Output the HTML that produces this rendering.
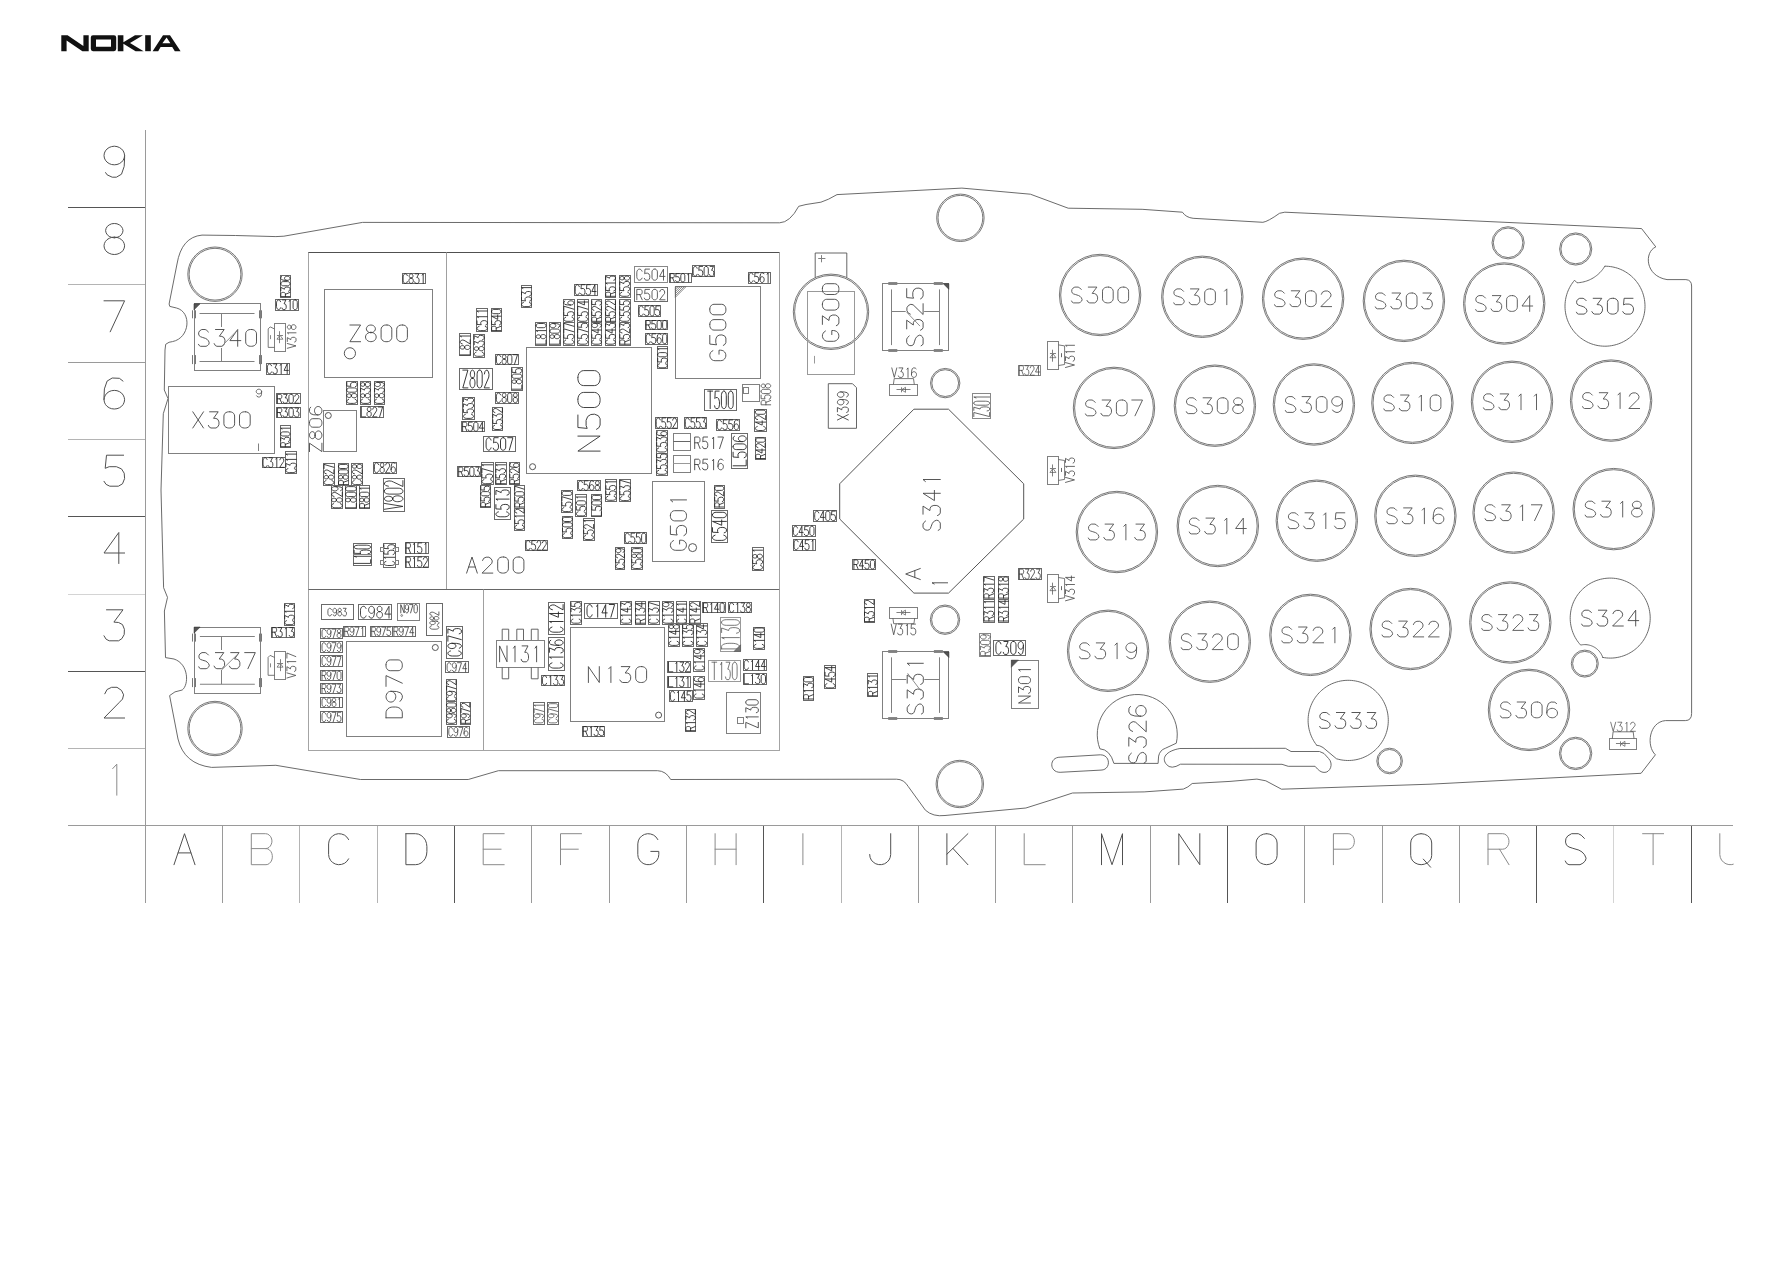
<!DOCTYPE html><html><head><meta charset="utf-8"><title>Nokia PCB layout</title><style>html,body{margin:0;padding:0;background:#fff;width:1787px;height:1263px;overflow:hidden;font-family:"Liberation Sans",sans-serif;}</style></head><body><svg width="1787" height="1263" viewBox="0 0 1787 1263" stroke-linecap="butt" style="display:block"><rect width="100%" height="100%" fill="#fff"/><path d="M61.3 51.2L61.3 35.2L67.6 35.2L83.4 46.0L83.4 35.2L88.7 35.2L88.7 51.2L82.4 51.2L66.6 40.4L66.6 51.2Z" stroke="#111" stroke-width="0" fill="#111"/><path fill-rule="evenodd" d="M93.0 35.2L114.0 35.2Q116.2 35.2 116.2 37.6L116.2 48.8Q116.2 51.2 114.0 51.2L93.0 51.2Q90.8 51.2 90.8 48.8L90.8 37.6Q90.8 35.2 93.0 35.2ZM96.0 39.6L96.0 46.8L111.0 46.8L111.0 39.6Z" stroke="#111" stroke-width="0" fill="#111"/><path d="M117.8 35.2L123.4 35.2L123.4 42.2L135.0 35.2L143.0 35.2L130.0 43.0L143.6 51.2L135.6 51.2L123.4 43.8L123.4 51.2L117.8 51.2Z" stroke="#111" stroke-width="0" fill="#111"/><rect x="145.20" y="35.20" width="5.60" height="16.00" stroke="#111" stroke-width="0" fill="#111"/><path fill-rule="evenodd" d="M152.6 51.2L163.0 35.2L170.0 35.2L180.6 51.2L174.8 51.2L172.2 47.0L160.6 47.0L158.2 51.2Z M162.4 43.2L170.4 43.2L166.6 37.6Z" stroke="#111" stroke-width="0" fill="#111"/><rect x="68" y="207" width="77" height="1" fill="#555"/><rect x="68" y="284" width="77" height="1" fill="#b4b4b4"/><rect x="68" y="362" width="77" height="1" fill="#9a9a9a"/><rect x="68" y="439" width="77" height="1" fill="#b4b4b4"/><rect x="68" y="516" width="77" height="1" fill="#555"/><rect x="68" y="594" width="77" height="1" fill="#d4d4d4"/><rect x="68" y="671" width="77" height="1" fill="#555"/><rect x="68" y="748" width="77" height="1" fill="#b4b4b4"/><rect x="68" y="825" width="1665" height="1" fill="#9a9a9a"/><rect x="145" y="130" width="1" height="773" fill="#9a9a9a"/><rect x="222" y="826" width="1" height="77" fill="#9a9a9a"/><rect x="299" y="826" width="1" height="77" fill="#b4b4b4"/><rect x="377" y="826" width="1" height="77" fill="#b4b4b4"/><rect x="454" y="826" width="1" height="77" fill="#555"/><rect x="531" y="826" width="1" height="77" fill="#9a9a9a"/><rect x="609" y="826" width="1" height="77" fill="#9a9a9a"/><rect x="686" y="826" width="1" height="77" fill="#9a9a9a"/><rect x="763" y="826" width="1" height="77" fill="#555"/><rect x="841" y="826" width="1" height="77" fill="#b4b4b4"/><rect x="918" y="826" width="1" height="77" fill="#9a9a9a"/><rect x="995" y="826" width="1" height="77" fill="#9a9a9a"/><rect x="1072" y="826" width="1" height="77" fill="#9a9a9a"/><rect x="1150" y="826" width="1" height="77" fill="#9a9a9a"/><rect x="1227" y="826" width="1" height="77" fill="#555"/><rect x="1304" y="826" width="1" height="77" fill="#9a9a9a"/><rect x="1382" y="826" width="1" height="77" fill="#9a9a9a"/><rect x="1459" y="826" width="1" height="77" fill="#9a9a9a"/><rect x="1536" y="826" width="1" height="77" fill="#555"/><rect x="1613" y="826" width="1" height="77" fill="#d4d4d4"/><rect x="1691" y="826" width="1" height="77" fill="#555"/><path d="M112.7 768.6 116.8 764.2 116.8 795.2" stroke="#8a8a8a" stroke-width="1.0" fill="none" stroke-linecap="round" stroke-linejoin="round"/><path d="M104.8 693.8 107.1 689.5 111.6 687.3 117.0 687.3 121.5 690.4 123.6 694.8 122.5 699.1 119.2 702.5 104.0 718.0 124.6 718.0" stroke="#505050" stroke-width="1.0" fill="none" stroke-linecap="round" stroke-linejoin="round"/><path d="M106.5 609.8 123.0 609.8 113.9 622.1 118.6 622.5 122.5 624.6 124.4 629.3 124.2 634.5 121.9 638.6 118.6 640.8 109.2 640.8 106.1 639.2 104.0 635.8" stroke="#505050" stroke-width="1.0" fill="none" stroke-linecap="round" stroke-linejoin="round"/><path d="M118.8 563.5 118.8 532.5 104.0 553.0 124.6 553.0" stroke="#505050" stroke-width="1.0" fill="none" stroke-linecap="round" stroke-linejoin="round"/><path d="M123.6 455.2 106.5 455.2 105.2 468.3 109.2 466.7 116.4 466.7 121.5 468.9 124.2 473.2 124.6 478.5 122.5 483.8 118.4 486.2 109.8 486.2 106.1 484.4 104.0 481.3" stroke="#505050" stroke-width="1.0" fill="none" stroke-linecap="round" stroke-linejoin="round"/><path d="M123.0 381.1 119.4 378.3 112.2 378.0 107.1 381.1 104.4 388.9 104.0 397.2 104.0 399.7 104.4 397.3 105.4 395.1 107.0 393.1 109.1 391.6 111.6 390.7 114.3 390.4 117.0 390.7 119.4 391.6 121.6 393.1 123.2 395.1 124.2 397.3 124.6 399.7 124.2 402.1 123.2 404.4 121.6 406.3 119.4 407.8 117.0 408.7 114.3 409.0 111.6 408.7 109.2 407.8 107.0 406.3 105.4 404.4 104.4 402.1 104.0 399.7" stroke="#505050" stroke-width="1.0" fill="none" stroke-linecap="round" stroke-linejoin="round"/><path d="M104.0 300.8 124.6 300.8 110.2 331.8" stroke="#505050" stroke-width="1.0" fill="none" stroke-linecap="round" stroke-linejoin="round"/><path d="M114.3 237.8 111.6 237.4 109.2 236.4 107.3 234.8 106.1 232.8 105.6 230.6 106.1 228.4 107.3 226.4 109.2 224.9 111.6 223.8 114.3 223.5 117.0 223.8 119.4 224.9 121.3 226.4 122.5 228.4 123.0 230.6 122.5 232.8 121.3 234.8 119.4 236.4 117.0 237.4 114.3 237.8M114.3 237.1 117.0 237.4 119.4 238.3 121.6 239.7 123.2 241.5 124.2 243.6 124.6 245.8 124.2 248.1 123.2 250.2 121.6 252.0 119.4 253.3 117.0 254.2 114.3 254.5 111.6 254.2 109.2 253.3 107.0 252.0 105.4 250.2 104.4 248.1 104.0 245.8 104.4 243.6 105.4 241.5 107.0 239.7 109.2 238.3 111.6 237.4 114.3 237.1" stroke="#505050" stroke-width="1.0" fill="none" stroke-linecap="round" stroke-linejoin="round"/><path d="M124.6 155.6 124.2 158.0 123.2 160.2 121.6 162.1 119.4 163.6 117.0 164.5 114.3 164.8 111.6 164.5 109.2 163.6 107.0 162.1 105.4 160.2 104.4 158.0 104.0 155.6 104.4 153.1 105.4 150.9 107.0 149.0 109.1 147.5 111.6 146.6 114.3 146.2 117.0 146.6 119.4 147.5 121.6 149.0 123.2 150.9 124.2 153.1 124.6 155.6 124.6 158.0 124.2 166.4 121.5 174.2 116.4 177.2 112.2 177.2 107.1 174.8 105.6 172.6" stroke="#505050" stroke-width="1.0" fill="none" stroke-linecap="round" stroke-linejoin="round"/><path d="M174.0 864.7 184.5 833.7 195.0 864.7M178.2 852.9 190.8 852.9" stroke="#505050" stroke-width="1.0" fill="none" stroke-linecap="round" stroke-linejoin="round"/><path d="M251.3 848.6 265.6 848.6 265.6 848.6 267.4 848.3 269.0 847.4 270.4 846.0 271.3 844.2 271.9 842.2 271.9 840.1 271.3 838.0 270.4 836.3 269.0 834.9 267.4 834.0 265.6 833.7 251.3 833.7 251.3 864.7 266.0 864.7 266.0 864.7 267.8 864.4 269.4 863.4 270.8 861.9 271.8 860.0 272.3 857.8 272.3 855.5 271.8 853.3 270.8 851.4 269.4 849.9 267.8 848.9 266.0 848.6 265.6 848.6" stroke="#8a8a8a" stroke-width="1.0" fill="none" stroke-linecap="round" stroke-linejoin="round"/><path d="M348.6 839.6 346.9 837.1 344.5 835.1 341.5 834.0 338.4 833.7 335.3 834.4 332.6 835.9 330.5 838.1 329.1 840.9 328.6 843.9 328.6 854.5 329.1 857.5 330.5 860.3 332.6 862.5 335.3 864.0 338.4 864.7 341.5 864.4 344.5 863.3 346.9 861.3 348.6 858.8" stroke="#505050" stroke-width="1.0" fill="none" stroke-linecap="round" stroke-linejoin="round"/><path d="M405.9 833.7 415.4 833.7 415.4 833.7 418.4 834.1 421.1 835.4 423.5 837.5 425.4 840.2 426.5 843.4 426.9 846.7 426.9 851.7 426.5 855.0 425.4 858.2 423.5 860.9 421.1 863.0 418.4 864.3 415.4 864.7 405.9 864.7 405.9 833.7" stroke="#505050" stroke-width="1.0" fill="none" stroke-linecap="round" stroke-linejoin="round"/><path d="M504.2 833.7 483.2 833.7 483.2 864.7 504.2 864.7M483.2 849.2 501.1 849.2" stroke="#8a8a8a" stroke-width="1.0" fill="none" stroke-linecap="round" stroke-linejoin="round"/><path d="M581.5 833.7 560.5 833.7 560.5 864.7M560.5 849.2 578.3 849.2" stroke="#8a8a8a" stroke-width="1.0" fill="none" stroke-linecap="round" stroke-linejoin="round"/><path d="M657.8 839.6 656.1 837.1 653.6 835.1 650.7 834.0 647.6 833.7 644.5 834.4 641.8 835.9 639.6 838.1 638.3 840.9 637.8 843.9 637.8 854.5 638.2 857.4 639.5 860.0 641.4 862.2 643.9 863.8 646.8 864.6 649.8 864.6 652.6 863.8 655.2 862.2 657.1 860.0 658.4 857.4 658.8 854.5 658.8 851.4 650.8 851.4" stroke="#505050" stroke-width="1.0" fill="none" stroke-linecap="round" stroke-linejoin="round"/><path d="M715.1 833.7 715.1 864.7M736.1 833.7 736.1 864.7M715.1 849.2 736.1 849.2" stroke="#8a8a8a" stroke-width="1.0" fill="none" stroke-linecap="round" stroke-linejoin="round"/><path d="M802.9 833.7 802.9 864.7" stroke="#8a8a8a" stroke-width="1.0" fill="none" stroke-linecap="round" stroke-linejoin="round"/><path d="M890.7 833.7 890.7 854.5 890.2 857.4 889.0 860.0 887.0 862.2 884.5 863.8 881.6 864.6 878.7 864.6 875.8 863.8 873.3 862.2 871.3 860.0 870.1 857.4 869.7 854.5" stroke="#505050" stroke-width="1.0" fill="none" stroke-linecap="round" stroke-linejoin="round"/><path d="M946.9 833.7 946.9 864.7M967.9 833.7 946.9 854.2M952.8 848.3 967.9 864.7" stroke="#505050" stroke-width="1.0" fill="none" stroke-linecap="round" stroke-linejoin="round"/><path d="M1024.2 833.7 1024.2 864.7 1045.2 864.7" stroke="#8a8a8a" stroke-width="1.0" fill="none" stroke-linecap="round" stroke-linejoin="round"/><path d="M1101.5 864.7 1101.5 833.7 1112.0 864.7 1122.5 833.7 1122.5 864.7" stroke="#505050" stroke-width="1.0" fill="none" stroke-linecap="round" stroke-linejoin="round"/><path d="M1178.8 864.7 1178.8 833.7 1199.8 864.7 1199.8 833.7" stroke="#505050" stroke-width="1.0" fill="none" stroke-linecap="round" stroke-linejoin="round"/><path d="M1266.6 833.7 1269.8 834.2 1272.8 835.5 1275.1 837.5 1276.6 840.1 1277.1 843.0 1277.1 855.4 1276.6 858.3 1275.1 860.9 1272.8 862.9 1269.8 864.2 1266.6 864.7 1266.6 864.7 1263.4 864.2 1260.4 862.9 1258.1 860.9 1256.6 858.3 1256.1 855.4 1256.1 843.0 1256.6 840.1 1258.1 837.5 1260.4 835.5 1263.4 834.2 1266.6 833.7 1266.6 833.7" stroke="#505050" stroke-width="1.0" fill="none" stroke-linecap="round" stroke-linejoin="round"/><path d="M1333.4 864.7 1333.4 833.7 1348.1 833.7 1348.1 833.7 1349.9 834.0 1351.5 834.9 1352.9 836.4 1353.8 838.2 1354.3 840.3 1354.3 842.6 1353.8 844.7 1352.9 846.5 1351.5 848.0 1349.9 848.9 1348.1 849.2 1333.4 849.2" stroke="#8a8a8a" stroke-width="1.0" fill="none" stroke-linecap="round" stroke-linejoin="round"/><path d="M1421.2 833.7 1424.4 834.2 1427.4 835.5 1429.7 837.5 1431.2 840.1 1431.7 843.0 1431.7 855.4 1431.2 858.3 1429.7 860.9 1427.4 862.9 1424.4 864.2 1421.2 864.7 1421.2 864.7 1417.9 864.2 1415.0 862.9 1412.7 860.9 1411.2 858.3 1410.7 855.4 1410.7 843.0 1411.2 840.1 1412.7 837.5 1415.0 835.5 1417.9 834.2 1421.2 833.7 1421.2 833.7M1423.3 859.1 1430.6 867.2" stroke="#505050" stroke-width="1.0" fill="none" stroke-linecap="round" stroke-linejoin="round"/><path d="M1488.0 864.7 1488.0 833.7 1502.7 833.7 1502.7 833.7 1504.4 834.0 1506.1 834.9 1507.4 836.4 1508.4 838.2 1508.9 840.3 1508.9 842.6 1508.4 844.7 1507.4 846.5 1506.1 848.0 1504.4 848.9 1502.7 849.2 1488.0 849.2M1499.5 849.2 1509.0 864.7" stroke="#8a8a8a" stroke-width="1.0" fill="none" stroke-linecap="round" stroke-linejoin="round"/><path d="M1584.4 838.4 1581.2 835.2 1578.3 833.7 1571.6 833.7 1567.8 835.9 1565.9 838.7 1565.5 842.1 1566.5 845.2 1569.0 847.0 1572.8 848.3 1578.9 850.1 1582.1 852.0 1584.6 854.8 1586.1 858.2 1585.2 861.0 1582.9 863.2 1580.0 864.7 1569.0 864.7 1566.7 863.5 1565.3 861.0" stroke="#505050" stroke-width="1.0" fill="none" stroke-linecap="round" stroke-linejoin="round"/><path d="M1642.6 833.7 1663.6 833.7M1653.1 833.7 1653.1 864.7" stroke="#8a8a8a" stroke-width="1.0" fill="none" stroke-linecap="round" stroke-linejoin="round"/><path d="M1719.8 833.7 1719.8 854.5 1720.3 857.4 1721.5 860.0 1723.5 862.2 1726.0 863.8 1728.9 864.6 1731.8 864.6 1734.7 863.8 1737.2 862.2 1739.2 860.0 1740.4 857.4 1740.8 854.5 1740.8 833.7" stroke="#8a8a8a" stroke-width="1.0" fill="none" stroke-linecap="round" stroke-linejoin="round"/><path d="M169.1 304.0L177.0 264.0Q181.50 237.00 202.00 235.10L235.6 235.5L275.9 236.6L283.9 236.2L362.5 222.4L779.6 222.8Q790.00 222.50 798.70 206.30L806 204.5L820.9 202.2Q828.00 200.00 837.00 194.60L961.9 188.1L1030.4 194.2L1068.2 208.2L1142.1 209.3L1182.4 212.2Q1186.00 217.50 1193.10 218.30L1262.9 222.3Q1268.00 221.50 1279.50 213.30L1284.8 212.2L1641.6 228.6L1655.8 246.9C1644 252 1645 276 1667 279.6L1685.9 279.6Q1691.60 280.00 1691.60 286.00L1691.6 713.5Q1691.60 720.60 1685.30 720.60L1665.4 720.6C1649 722 1646 746 1655.4 754.8L1641.1 773.3L1540 778.5L1430 784.2L1281.5 789.2L1265.8 780.8L1256.9 779.1L1230 781.4L1192.2 783.5Q1188.00 787.50 1183.30 789.10L1144.1 791.9L1072.5 793L1051.2 800L1025.9 808L945 815.5Q933.00 817.00 925.40 810.20L908.3 786.6Q904.00 779.20 896.50 779.20L670.7 779.5Q666.00 771.00 657.60 770.70L498.4 770.7L468.2 779.5L360.5 779.5L275.9 765.3L211.6 767.4Q184.00 764.00 178.00 739.00L169.6 695.6Q174.00 691.00 182.20 690.00C189 685 189 664 174 659L165.5 657.6L164.4 611L167.5 597.4L163.6 587.7L161 490L163.3 413.7L168 398.5L164.3 390L165 350L165.7 344.3Q169.00 341.60 172.50 341.60C190 338 192 312 176.5 308L169.8 306.4Z" stroke="#5a5a5a" stroke-width="0.9" fill="none"/><path d="M1060.1 757.2L1100.4 754.8C1111 754.8 1111 770.1 1101 770.1L1060.1 772.3C1049 772.3 1049 757.2 1060.1 757.2Z" stroke="#5a5a5a" stroke-width="0.9" fill="none"/><path d="M1113.9 763.4L1158.1 763.4L1158.6 756.1Q1160.00 750.00 1165.30 748.30L1176.3 743.2A40 40 0 1 0 1099.9 748.8Q1110.00 749.50 1113.90 763.40" stroke="#5a5a5a" stroke-width="0.9" fill="none"/><path d="M1179.9 748.5L1285.4 748.3L1291 751.5L1319.5 751.5Q1324.00 752.00 1328.50 758.40C1334 764 1330 773 1324 772.4Q1320.00 772.50 1315.10 766.30L1288.2 766.3L1282 764.3L1180.5 764.2Q1171.00 770.00 1166.50 764.50C1161 758 1166 751 1179.9 748.5Z" stroke="#5a5a5a" stroke-width="0.9" fill="none"/><circle cx="215.00" cy="274.20" r="27.20" stroke="#555" stroke-width="0.8" fill="none"/><circle cx="215.00" cy="274.20" r="25.90" stroke="#555" stroke-width="0.8" fill="none"/><circle cx="215.00" cy="728.50" r="27.20" stroke="#555" stroke-width="0.8" fill="none"/><circle cx="215.00" cy="728.50" r="25.90" stroke="#555" stroke-width="0.8" fill="none"/><circle cx="960.40" cy="217.80" r="23.70" stroke="#555" stroke-width="0.8" fill="none"/><circle cx="960.40" cy="217.80" r="22.40" stroke="#555" stroke-width="0.8" fill="none"/><circle cx="959.80" cy="784.00" r="23.70" stroke="#555" stroke-width="0.8" fill="none"/><circle cx="959.80" cy="784.00" r="22.40" stroke="#555" stroke-width="0.8" fill="none"/><circle cx="945.20" cy="383.10" r="14.70" stroke="#555" stroke-width="0.8" fill="none"/><circle cx="945.20" cy="383.10" r="13.40" stroke="#555" stroke-width="0.8" fill="none"/><circle cx="945.00" cy="619.70" r="14.70" stroke="#555" stroke-width="0.8" fill="none"/><circle cx="945.00" cy="619.70" r="13.40" stroke="#555" stroke-width="0.8" fill="none"/><circle cx="1508.10" cy="242.80" r="16.10" stroke="#555" stroke-width="0.8" fill="none"/><circle cx="1508.10" cy="242.80" r="14.80" stroke="#555" stroke-width="0.8" fill="none"/><circle cx="1575.70" cy="249.00" r="16.10" stroke="#555" stroke-width="0.8" fill="none"/><circle cx="1575.70" cy="249.00" r="14.80" stroke="#555" stroke-width="0.8" fill="none"/><circle cx="1584.80" cy="663.60" r="13.50" stroke="#555" stroke-width="0.8" fill="none"/><circle cx="1584.80" cy="663.60" r="12.20" stroke="#555" stroke-width="0.8" fill="none"/><circle cx="1575.60" cy="753.40" r="16.20" stroke="#555" stroke-width="0.8" fill="none"/><circle cx="1575.60" cy="753.40" r="14.90" stroke="#555" stroke-width="0.8" fill="none"/><circle cx="1389.60" cy="761.00" r="12.80" stroke="#555" stroke-width="0.8" fill="none"/><circle cx="1389.60" cy="761.00" r="11.50" stroke="#555" stroke-width="0.8" fill="none"/><circle cx="1100.10" cy="295.00" r="40.70" stroke="#555" stroke-width="0.8" fill="none"/><circle cx="1100.10" cy="295.00" r="39.40" stroke="#555" stroke-width="0.8" fill="none"/><path d="M1081.3 289.5 1079.7 287.9 1078.2 287.1 1074.8 287.1 1072.9 288.2 1071.9 289.6 1071.7 291.4 1072.2 292.9 1073.5 293.9 1075.4 294.5 1078.5 295.5 1080.1 296.4 1081.4 297.8 1082.1 299.6 1081.7 301.0 1080.5 302.1 1079.1 302.9 1073.5 302.9 1072.3 302.3 1071.6 301.0M1088.3 287.1 1096.9 287.1 1092.2 293.4 1094.6 293.6 1096.6 294.7 1097.6 297.1 1097.5 299.7 1096.3 301.8 1094.6 302.9 1089.7 302.9 1088.1 302.1 1087.0 300.4M1108.4 287.1 1109.8 287.3 1111.2 287.9 1112.2 288.8 1112.9 289.9 1113.2 291.2 1113.2 298.8 1112.9 300.1 1112.2 301.2 1111.2 302.1 1109.8 302.7 1108.4 302.9 1107.3 302.9 1105.8 302.7 1104.5 302.1 1103.4 301.2 1102.7 300.1 1102.5 298.8 1102.5 291.2 1102.7 289.9 1103.4 288.8 1104.5 287.9 1105.8 287.3 1107.3 287.1 1108.4 287.1M1123.8 287.1 1125.3 287.3 1126.6 287.9 1127.7 288.8 1128.4 289.9 1128.6 291.2 1128.6 298.8 1128.4 300.1 1127.7 301.2 1126.6 302.1 1125.3 302.7 1123.8 302.9 1122.7 302.9 1121.3 302.7 1119.9 302.1 1118.9 301.2 1118.2 300.1 1117.9 298.8 1117.9 291.2 1118.2 289.9 1118.9 288.8 1119.9 287.9 1121.3 287.3 1122.7 287.1 1123.8 287.1" stroke="#505050" stroke-width="0.9" fill="none" stroke-linecap="round" stroke-linejoin="round"/><circle cx="1202.30" cy="296.80" r="40.70" stroke="#555" stroke-width="0.8" fill="none"/><circle cx="1202.30" cy="296.80" r="39.40" stroke="#555" stroke-width="0.8" fill="none"/><path d="M1183.5 291.3 1181.9 289.7 1180.4 288.9 1177.0 288.9 1175.1 290.0 1174.1 291.4 1173.9 293.2 1174.4 294.7 1175.7 295.7 1177.6 296.3 1180.7 297.3 1182.3 298.2 1183.6 299.6 1184.3 301.4 1183.9 302.8 1182.7 303.9 1181.3 304.7 1175.7 304.7 1174.5 304.1 1173.8 302.8M1190.5 288.9 1199.1 288.9 1194.4 295.2 1196.8 295.4 1198.8 296.5 1199.8 298.9 1199.7 301.5 1198.5 303.6 1196.8 304.7 1191.9 304.7 1190.3 303.9 1189.2 302.2M1210.6 288.9 1212.0 289.1 1213.4 289.7 1214.4 290.6 1215.1 291.7 1215.4 293.0 1215.4 300.6 1215.1 301.9 1214.4 303.0 1213.4 303.9 1212.0 304.5 1210.6 304.7 1209.5 304.7 1208.0 304.5 1206.7 303.9 1205.6 303.0 1204.9 301.9 1204.7 300.6 1204.7 293.0 1204.9 291.7 1205.6 290.6 1206.7 289.7 1208.0 289.1 1209.5 288.9 1210.6 288.9M1224.6 291.1 1226.8 288.9 1226.8 304.7" stroke="#505050" stroke-width="0.9" fill="none" stroke-linecap="round" stroke-linejoin="round"/><circle cx="1303.10" cy="298.70" r="40.70" stroke="#555" stroke-width="0.8" fill="none"/><circle cx="1303.10" cy="298.70" r="39.40" stroke="#555" stroke-width="0.8" fill="none"/><path d="M1284.3 293.2 1282.7 291.6 1281.2 290.8 1277.8 290.8 1275.9 291.9 1274.9 293.3 1274.7 295.1 1275.2 296.6 1276.5 297.6 1278.4 298.2 1281.5 299.2 1283.1 300.1 1284.4 301.5 1285.1 303.3 1284.7 304.7 1283.5 305.8 1282.1 306.6 1276.5 306.6 1275.3 306.0 1274.6 304.7M1291.3 290.8 1299.9 290.8 1295.2 297.1 1297.6 297.3 1299.6 298.4 1300.6 300.8 1300.5 303.4 1299.3 305.5 1297.6 306.6 1292.7 306.6 1291.1 305.8 1290.0 304.1M1311.4 290.8 1312.8 291.0 1314.2 291.6 1315.2 292.5 1315.9 293.6 1316.2 294.9 1316.2 302.5 1315.9 303.8 1315.2 304.9 1314.2 305.8 1312.8 306.4 1311.4 306.6 1310.3 306.6 1308.8 306.4 1307.5 305.8 1306.4 304.9 1305.7 303.8 1305.5 302.5 1305.5 294.9 1305.7 293.6 1306.4 292.5 1307.5 291.6 1308.8 291.0 1310.3 290.8 1311.4 290.8M1321.4 294.3 1322.5 292.1 1324.9 291.0 1327.7 291.0 1330.0 292.5 1331.1 294.8 1330.5 297.0 1328.8 298.7 1320.9 306.6 1331.6 306.6" stroke="#505050" stroke-width="0.9" fill="none" stroke-linecap="round" stroke-linejoin="round"/><circle cx="1403.90" cy="300.90" r="40.70" stroke="#555" stroke-width="0.8" fill="none"/><circle cx="1403.90" cy="300.90" r="39.40" stroke="#555" stroke-width="0.8" fill="none"/><path d="M1385.1 295.4 1383.5 293.8 1382.0 293.0 1378.6 293.0 1376.7 294.1 1375.7 295.5 1375.5 297.3 1376.0 298.8 1377.3 299.8 1379.2 300.4 1382.3 301.4 1383.9 302.3 1385.2 303.7 1385.9 305.5 1385.5 306.9 1384.3 308.0 1382.9 308.8 1377.3 308.8 1376.1 308.2 1375.4 306.9M1392.1 293.0 1400.7 293.0 1396.0 299.3 1398.4 299.5 1400.4 300.6 1401.4 303.0 1401.3 305.6 1400.1 307.7 1398.4 308.8 1393.5 308.8 1391.9 308.0 1390.8 306.3M1412.2 293.0 1413.6 293.2 1415.0 293.8 1416.0 294.7 1416.7 295.8 1417.0 297.1 1417.0 304.7 1416.7 306.0 1416.0 307.1 1415.0 308.0 1413.6 308.6 1412.2 308.8 1411.1 308.8 1409.6 308.6 1408.3 308.0 1407.2 307.1 1406.5 306.0 1406.3 304.7 1406.3 297.1 1406.5 295.8 1407.2 294.7 1408.3 293.8 1409.6 293.2 1411.1 293.0 1412.2 293.0M1423.0 293.0 1431.5 293.0 1426.9 299.3 1429.3 299.5 1431.3 300.6 1432.3 303.0 1432.2 305.6 1431.0 307.7 1429.3 308.8 1424.4 308.8 1422.8 308.0 1421.7 306.3" stroke="#505050" stroke-width="0.9" fill="none" stroke-linecap="round" stroke-linejoin="round"/><circle cx="1504.20" cy="303.50" r="40.70" stroke="#555" stroke-width="0.8" fill="none"/><circle cx="1504.20" cy="303.50" r="39.40" stroke="#555" stroke-width="0.8" fill="none"/><path d="M1485.4 298.0 1483.8 296.4 1482.3 295.6 1478.9 295.6 1477.0 296.7 1476.0 298.1 1475.8 299.9 1476.3 301.4 1477.6 302.4 1479.5 303.0 1482.6 304.0 1484.2 304.9 1485.5 306.3 1486.2 308.1 1485.8 309.5 1484.6 310.6 1483.2 311.4 1477.6 311.4 1476.4 310.8 1475.7 309.5M1492.4 295.6 1501.0 295.6 1496.3 301.9 1498.7 302.1 1500.7 303.2 1501.7 305.6 1501.6 308.2 1500.4 310.3 1498.7 311.4 1493.8 311.4 1492.2 310.6 1491.1 308.9M1512.5 295.6 1513.9 295.8 1515.3 296.4 1516.3 297.3 1517.0 298.4 1517.3 299.7 1517.3 307.3 1517.0 308.6 1516.3 309.7 1515.3 310.6 1513.9 311.2 1512.5 311.4 1511.4 311.4 1509.9 311.2 1508.6 310.6 1507.5 309.7 1506.8 308.6 1506.6 307.3 1506.6 299.7 1506.8 298.4 1507.5 297.3 1508.6 296.4 1509.9 295.8 1511.4 295.6 1512.5 295.6M1529.7 311.4 1529.7 295.6 1522.0 306.0 1532.7 306.0" stroke="#505050" stroke-width="0.9" fill="none" stroke-linecap="round" stroke-linejoin="round"/><circle cx="1114.00" cy="407.90" r="40.70" stroke="#555" stroke-width="0.8" fill="none"/><circle cx="1114.00" cy="407.90" r="39.40" stroke="#555" stroke-width="0.8" fill="none"/><path d="M1095.2 402.4 1093.6 400.8 1092.1 400.0 1088.7 400.0 1086.8 401.1 1085.8 402.5 1085.6 404.3 1086.1 405.8 1087.4 406.8 1089.3 407.4 1092.4 408.4 1094.0 409.3 1095.3 410.7 1096.0 412.5 1095.6 413.9 1094.4 415.0 1093.0 415.8 1087.4 415.8 1086.2 415.2 1085.5 413.9M1102.2 400.0 1110.8 400.0 1106.1 406.3 1108.5 406.5 1110.5 407.6 1111.5 410.0 1111.4 412.6 1110.2 414.7 1108.5 415.8 1103.6 415.8 1102.0 415.0 1100.9 413.3M1122.3 400.0 1123.7 400.2 1125.1 400.8 1126.1 401.7 1126.8 402.8 1127.1 404.1 1127.1 411.7 1126.8 413.0 1126.1 414.1 1125.1 415.0 1123.7 415.6 1122.3 415.8 1121.2 415.8 1119.7 415.6 1118.4 415.0 1117.3 414.1 1116.6 413.0 1116.4 411.7 1116.4 404.1 1116.6 402.8 1117.3 401.7 1118.4 400.8 1119.7 400.2 1121.2 400.0 1122.3 400.0M1131.8 400.0 1142.5 400.0 1135.0 415.8" stroke="#505050" stroke-width="0.9" fill="none" stroke-linecap="round" stroke-linejoin="round"/><circle cx="1214.90" cy="405.70" r="40.70" stroke="#555" stroke-width="0.8" fill="none"/><circle cx="1214.90" cy="405.70" r="39.40" stroke="#555" stroke-width="0.8" fill="none"/><path d="M1196.1 400.2 1194.5 398.6 1193.0 397.8 1189.6 397.8 1187.7 398.9 1186.7 400.3 1186.5 402.1 1187.0 403.6 1188.3 404.6 1190.2 405.2 1193.3 406.2 1194.9 407.1 1196.2 408.5 1196.9 410.3 1196.5 411.7 1195.3 412.8 1193.9 413.6 1188.3 413.6 1187.1 413.0 1186.4 411.7M1203.1 397.8 1211.7 397.8 1207.0 404.1 1209.4 404.3 1211.4 405.4 1212.4 407.8 1212.3 410.4 1211.1 412.5 1209.4 413.6 1204.5 413.6 1202.9 412.8 1201.8 411.1M1223.2 397.8 1224.6 398.0 1226.0 398.6 1227.0 399.5 1227.7 400.6 1228.0 401.9 1228.0 409.5 1227.7 410.8 1227.0 411.9 1226.0 412.8 1224.6 413.4 1223.2 413.6 1222.1 413.6 1220.6 413.4 1219.3 412.8 1218.2 411.9 1217.5 410.8 1217.3 409.5 1217.3 401.9 1217.5 400.6 1218.2 399.5 1219.3 398.6 1220.6 398.0 1222.1 397.8 1223.2 397.8M1238.1 405.1 1236.7 404.9 1235.4 404.4 1234.5 403.6 1233.8 402.6 1233.6 401.4 1233.8 400.3 1234.5 399.3 1235.4 398.5 1236.7 398.0 1238.1 397.8 1239.5 398.0 1240.7 398.5 1241.7 399.3 1242.3 400.3 1242.5 401.4 1242.3 402.6 1241.7 403.6 1240.7 404.4 1239.5 404.9 1238.1 405.1M1238.1 404.8 1239.5 404.9 1240.7 405.3 1241.8 406.0 1242.7 407.0 1243.2 408.0 1243.4 409.2 1243.2 410.3 1242.7 411.4 1241.8 412.3 1240.7 413.0 1239.5 413.4 1238.1 413.6 1236.7 413.4 1235.4 413.0 1234.3 412.3 1233.5 411.4 1232.9 410.3 1232.7 409.2 1232.9 408.0 1233.5 407.0 1234.3 406.0 1235.4 405.3 1236.7 404.9 1238.1 404.8" stroke="#505050" stroke-width="0.9" fill="none" stroke-linecap="round" stroke-linejoin="round"/><circle cx="1313.90" cy="404.50" r="40.70" stroke="#555" stroke-width="0.8" fill="none"/><circle cx="1313.90" cy="404.50" r="39.40" stroke="#555" stroke-width="0.8" fill="none"/><path d="M1295.1 399.0 1293.5 397.4 1292.0 396.6 1288.6 396.6 1286.7 397.7 1285.7 399.1 1285.5 400.9 1286.0 402.4 1287.3 403.4 1289.2 404.0 1292.3 405.0 1293.9 405.9 1295.2 407.3 1295.9 409.1 1295.5 410.5 1294.3 411.6 1292.9 412.4 1287.3 412.4 1286.1 411.8 1285.4 410.5M1302.1 396.6 1310.7 396.6 1306.0 402.9 1308.4 403.1 1310.4 404.2 1311.4 406.6 1311.3 409.2 1310.1 411.3 1308.4 412.4 1303.5 412.4 1301.9 411.6 1300.8 409.9M1322.2 396.6 1323.6 396.8 1325.0 397.4 1326.0 398.3 1326.7 399.4 1327.0 400.7 1327.0 408.3 1326.7 409.6 1326.0 410.7 1325.0 411.6 1323.6 412.2 1322.2 412.4 1321.1 412.4 1319.6 412.2 1318.3 411.6 1317.2 410.7 1316.5 409.6 1316.3 408.3 1316.3 400.7 1316.5 399.4 1317.2 398.3 1318.3 397.4 1319.6 396.8 1321.1 396.6 1322.2 396.6M1342.4 401.3 1342.2 402.6 1341.7 403.7 1340.8 404.7 1339.7 405.4 1338.5 405.9 1337.1 406.1 1335.7 405.9 1334.4 405.4 1333.3 404.7 1332.5 403.7 1331.9 402.6 1331.7 401.3 1331.9 400.1 1332.5 399.0 1333.3 398.0 1334.4 397.2 1335.7 396.8 1337.1 396.6 1338.5 396.8 1339.7 397.2 1340.8 398.0 1341.7 399.0 1342.2 400.1 1342.4 401.3 1342.4 402.6 1342.2 406.9 1340.8 410.8 1338.1 412.4 1336.0 412.4 1333.3 411.1 1332.6 410.0" stroke="#505050" stroke-width="0.9" fill="none" stroke-linecap="round" stroke-linejoin="round"/><circle cx="1412.40" cy="402.90" r="40.70" stroke="#555" stroke-width="0.8" fill="none"/><circle cx="1412.40" cy="402.90" r="39.40" stroke="#555" stroke-width="0.8" fill="none"/><path d="M1393.6 397.4 1392.0 395.8 1390.5 395.0 1387.1 395.0 1385.2 396.1 1384.2 397.5 1384.0 399.3 1384.5 400.8 1385.8 401.8 1387.7 402.4 1390.8 403.4 1392.4 404.3 1393.7 405.7 1394.4 407.5 1394.0 408.9 1392.8 410.0 1391.4 410.8 1385.8 410.8 1384.6 410.2 1383.9 408.9M1400.6 395.0 1409.2 395.0 1404.5 401.3 1406.9 401.5 1408.9 402.6 1409.9 405.0 1409.8 407.6 1408.6 409.7 1406.9 410.8 1402.0 410.8 1400.4 410.0 1399.3 408.3M1419.3 397.2 1421.4 395.0 1421.4 410.8M1436.1 395.0 1437.6 395.2 1438.9 395.8 1440.0 396.7 1440.7 397.8 1440.9 399.1 1440.9 406.7 1440.7 408.0 1440.0 409.1 1438.9 410.0 1437.6 410.6 1436.1 410.8 1435.0 410.8 1433.6 410.6 1432.2 410.0 1431.2 409.1 1430.5 408.0 1430.2 406.7 1430.2 399.1 1430.5 397.8 1431.2 396.7 1432.2 395.8 1433.6 395.2 1435.0 395.0 1436.1 395.0" stroke="#505050" stroke-width="0.9" fill="none" stroke-linecap="round" stroke-linejoin="round"/><circle cx="1512.00" cy="401.80" r="40.70" stroke="#555" stroke-width="0.8" fill="none"/><circle cx="1512.00" cy="401.80" r="39.40" stroke="#555" stroke-width="0.8" fill="none"/><path d="M1493.2 396.3 1491.6 394.7 1490.1 393.9 1486.7 393.9 1484.8 395.0 1483.8 396.4 1483.6 398.2 1484.1 399.7 1485.4 400.7 1487.3 401.3 1490.4 402.3 1492.0 403.2 1493.3 404.6 1494.0 406.4 1493.6 407.8 1492.4 408.9 1491.0 409.7 1485.4 409.7 1484.2 409.1 1483.5 407.8M1500.2 393.9 1508.8 393.9 1504.1 400.2 1506.5 400.4 1508.5 401.5 1509.5 403.9 1509.4 406.5 1508.2 408.6 1506.5 409.7 1501.6 409.7 1500.0 408.9 1498.9 407.2M1518.9 396.1 1521.0 393.9 1521.0 409.7M1534.3 396.1 1536.5 393.9 1536.5 409.7" stroke="#505050" stroke-width="0.9" fill="none" stroke-linecap="round" stroke-linejoin="round"/><circle cx="1611.10" cy="400.60" r="40.70" stroke="#555" stroke-width="0.8" fill="none"/><circle cx="1611.10" cy="400.60" r="39.40" stroke="#555" stroke-width="0.8" fill="none"/><path d="M1592.3 395.1 1590.7 393.5 1589.2 392.7 1585.8 392.7 1583.9 393.8 1582.9 395.2 1582.7 397.0 1583.2 398.5 1584.5 399.5 1586.4 400.1 1589.5 401.1 1591.1 402.0 1592.4 403.4 1593.1 405.2 1592.7 406.6 1591.5 407.7 1590.1 408.5 1584.5 408.5 1583.3 407.9 1582.6 406.6M1599.3 392.7 1607.9 392.7 1603.2 399.0 1605.6 399.2 1607.6 400.3 1608.6 402.7 1608.5 405.3 1607.3 407.4 1605.6 408.5 1600.7 408.5 1599.1 407.7 1598.0 406.0M1618.0 394.9 1620.1 392.7 1620.1 408.5M1629.4 396.2 1630.5 394.0 1632.9 392.9 1635.7 392.9 1638.0 394.4 1639.1 396.7 1638.5 398.9 1636.8 400.6 1628.9 408.5 1639.6 408.5" stroke="#505050" stroke-width="0.9" fill="none" stroke-linecap="round" stroke-linejoin="round"/><circle cx="1116.90" cy="532.00" r="40.70" stroke="#555" stroke-width="0.8" fill="none"/><circle cx="1116.90" cy="532.00" r="39.40" stroke="#555" stroke-width="0.8" fill="none"/><path d="M1098.1 526.5 1096.5 524.9 1095.0 524.1 1091.6 524.1 1089.7 525.2 1088.7 526.6 1088.5 528.4 1089.0 529.9 1090.3 530.9 1092.2 531.5 1095.3 532.5 1096.9 533.4 1098.2 534.8 1098.9 536.6 1098.5 538.0 1097.3 539.1 1095.9 539.9 1090.3 539.9 1089.1 539.3 1088.4 538.0M1105.1 524.1 1113.7 524.1 1109.0 530.4 1111.4 530.6 1113.4 531.7 1114.4 534.1 1114.3 536.7 1113.1 538.8 1111.4 539.9 1106.5 539.9 1104.9 539.1 1103.8 537.4M1123.8 526.3 1125.9 524.1 1125.9 539.9M1136.0 524.1 1144.5 524.1 1139.9 530.4 1142.3 530.6 1144.3 531.7 1145.3 534.1 1145.2 536.7 1144.0 538.8 1142.3 539.9 1137.4 539.9 1135.8 539.1 1134.7 537.4" stroke="#505050" stroke-width="0.9" fill="none" stroke-linecap="round" stroke-linejoin="round"/><circle cx="1217.80" cy="526.00" r="40.70" stroke="#555" stroke-width="0.8" fill="none"/><circle cx="1217.80" cy="526.00" r="39.40" stroke="#555" stroke-width="0.8" fill="none"/><path d="M1199.0 520.5 1197.4 518.9 1195.9 518.1 1192.5 518.1 1190.6 519.2 1189.6 520.6 1189.4 522.4 1189.9 523.9 1191.2 524.9 1193.1 525.5 1196.2 526.5 1197.8 527.4 1199.1 528.8 1199.8 530.6 1199.4 532.0 1198.2 533.1 1196.8 533.9 1191.2 533.9 1190.0 533.3 1189.3 532.0M1206.0 518.1 1214.6 518.1 1209.9 524.4 1212.3 524.6 1214.3 525.7 1215.3 528.1 1215.2 530.7 1214.0 532.8 1212.3 533.9 1207.4 533.9 1205.8 533.1 1204.7 531.4M1224.7 520.3 1226.8 518.1 1226.8 533.9M1243.3 533.9 1243.3 518.1 1235.6 528.5 1246.3 528.5" stroke="#505050" stroke-width="0.9" fill="none" stroke-linecap="round" stroke-linejoin="round"/><circle cx="1316.80" cy="520.70" r="40.70" stroke="#555" stroke-width="0.8" fill="none"/><circle cx="1316.80" cy="520.70" r="39.40" stroke="#555" stroke-width="0.8" fill="none"/><path d="M1298.0 515.2 1296.4 513.6 1294.9 512.8 1291.5 512.8 1289.6 513.9 1288.6 515.3 1288.4 517.1 1288.9 518.6 1290.2 519.6 1292.1 520.2 1295.2 521.2 1296.8 522.1 1298.1 523.5 1298.8 525.3 1298.4 526.7 1297.2 527.8 1295.8 528.6 1290.2 528.6 1289.0 528.0 1288.3 526.7M1305.0 512.8 1313.6 512.8 1308.9 519.1 1311.3 519.3 1313.3 520.4 1314.3 522.8 1314.2 525.4 1313.0 527.5 1311.3 528.6 1306.4 528.6 1304.8 527.8 1303.7 526.1M1323.7 515.0 1325.8 512.8 1325.8 528.6M1344.8 512.8 1335.9 512.8 1335.3 519.4 1337.3 518.6 1341.0 518.6 1343.7 519.8 1345.1 522.0 1345.3 524.7 1344.2 527.3 1342.1 528.6 1337.6 528.6 1335.7 527.7 1334.6 526.1" stroke="#505050" stroke-width="0.9" fill="none" stroke-linecap="round" stroke-linejoin="round"/><circle cx="1415.40" cy="515.80" r="40.70" stroke="#555" stroke-width="0.8" fill="none"/><circle cx="1415.40" cy="515.80" r="39.40" stroke="#555" stroke-width="0.8" fill="none"/><path d="M1396.6 510.3 1395.0 508.7 1393.5 507.9 1390.1 507.9 1388.2 509.0 1387.2 510.4 1387.0 512.2 1387.5 513.7 1388.8 514.7 1390.7 515.3 1393.8 516.3 1395.4 517.2 1396.7 518.6 1397.4 520.4 1397.0 521.8 1395.8 522.9 1394.4 523.7 1388.8 523.7 1387.6 523.1 1386.9 521.8M1403.6 507.9 1412.2 507.9 1407.5 514.2 1409.9 514.4 1411.9 515.5 1412.9 517.9 1412.8 520.5 1411.6 522.6 1409.9 523.7 1405.0 523.7 1403.4 522.9 1402.3 521.2M1422.3 510.1 1424.4 507.9 1424.4 523.7M1443.0 509.5 1441.2 508.1 1437.5 507.9 1434.8 509.5 1433.5 513.4 1433.2 517.7 1433.2 519.0 1433.4 517.7 1434.0 516.6 1434.8 515.6 1435.9 514.9 1437.2 514.4 1438.6 514.2 1440.0 514.4 1441.2 514.9 1442.3 515.6 1443.2 516.6 1443.7 517.7 1443.9 519.0 1443.7 520.2 1443.2 521.3 1442.3 522.3 1441.2 523.1 1440.0 523.5 1438.6 523.7 1437.2 523.5 1435.9 523.1 1434.8 522.3 1434.0 521.3 1433.4 520.2 1433.2 519.0" stroke="#505050" stroke-width="0.9" fill="none" stroke-linecap="round" stroke-linejoin="round"/><circle cx="1513.60" cy="512.70" r="40.70" stroke="#555" stroke-width="0.8" fill="none"/><circle cx="1513.60" cy="512.70" r="39.40" stroke="#555" stroke-width="0.8" fill="none"/><path d="M1494.8 507.2 1493.2 505.6 1491.7 504.8 1488.3 504.8 1486.4 505.9 1485.4 507.3 1485.2 509.1 1485.7 510.6 1487.0 511.6 1488.9 512.2 1492.0 513.2 1493.6 514.1 1494.9 515.5 1495.6 517.3 1495.2 518.7 1494.0 519.8 1492.6 520.6 1487.0 520.6 1485.8 520.0 1485.1 518.7M1501.8 504.8 1510.4 504.8 1505.7 511.1 1508.1 511.3 1510.1 512.4 1511.1 514.8 1511.0 517.4 1509.8 519.5 1508.1 520.6 1503.2 520.6 1501.6 519.8 1500.5 518.1M1520.5 507.0 1522.6 504.8 1522.6 520.6M1531.4 504.8 1542.1 504.8 1534.6 520.6" stroke="#505050" stroke-width="0.9" fill="none" stroke-linecap="round" stroke-linejoin="round"/><circle cx="1613.70" cy="509.10" r="40.70" stroke="#555" stroke-width="0.8" fill="none"/><circle cx="1613.70" cy="509.10" r="39.40" stroke="#555" stroke-width="0.8" fill="none"/><path d="M1594.9 503.6 1593.3 502.0 1591.8 501.2 1588.4 501.2 1586.5 502.3 1585.5 503.7 1585.3 505.5 1585.8 507.0 1587.1 508.0 1589.0 508.6 1592.1 509.6 1593.7 510.5 1595.0 511.9 1595.7 513.7 1595.3 515.1 1594.1 516.2 1592.7 517.0 1587.1 517.0 1585.9 516.4 1585.2 515.1M1601.9 501.2 1610.5 501.2 1605.8 507.5 1608.2 507.7 1610.2 508.8 1611.2 511.2 1611.1 513.8 1609.9 515.9 1608.2 517.0 1603.3 517.0 1601.7 516.2 1600.6 514.5M1620.6 503.4 1622.7 501.2 1622.7 517.0M1636.9 508.5 1635.5 508.3 1634.2 507.8 1633.3 507.0 1632.6 506.0 1632.4 504.8 1632.6 503.7 1633.3 502.7 1634.2 501.9 1635.5 501.4 1636.9 501.2 1638.3 501.4 1639.5 501.9 1640.5 502.7 1641.1 503.7 1641.3 504.8 1641.1 506.0 1640.5 507.0 1639.5 507.8 1638.3 508.3 1636.9 508.5M1636.9 508.2 1638.3 508.3 1639.5 508.7 1640.6 509.4 1641.5 510.4 1642.0 511.4 1642.2 512.6 1642.0 513.7 1641.5 514.8 1640.6 515.7 1639.5 516.4 1638.3 516.8 1636.9 517.0 1635.5 516.8 1634.2 516.4 1633.1 515.7 1632.3 514.8 1631.7 513.7 1631.5 512.6 1631.7 511.4 1632.3 510.4 1633.1 509.4 1634.2 508.7 1635.5 508.3 1636.9 508.2" stroke="#505050" stroke-width="0.9" fill="none" stroke-linecap="round" stroke-linejoin="round"/><circle cx="1108.10" cy="650.80" r="40.70" stroke="#555" stroke-width="0.8" fill="none"/><circle cx="1108.10" cy="650.80" r="39.40" stroke="#555" stroke-width="0.8" fill="none"/><path d="M1089.3 645.3 1087.7 643.7 1086.2 642.9 1082.8 642.9 1080.9 644.0 1079.9 645.4 1079.7 647.2 1080.2 648.7 1081.5 649.7 1083.4 650.3 1086.5 651.3 1088.1 652.2 1089.4 653.6 1090.1 655.4 1089.7 656.8 1088.5 657.9 1087.1 658.7 1081.5 658.7 1080.3 658.1 1079.6 656.8M1096.3 642.9 1104.9 642.9 1100.2 649.2 1102.6 649.4 1104.6 650.5 1105.6 652.9 1105.5 655.5 1104.3 657.6 1102.6 658.7 1097.7 658.7 1096.1 657.9 1095.0 656.2M1115.0 645.1 1117.1 642.9 1117.1 658.7M1136.6 647.6 1136.4 648.9 1135.9 650.0 1135.0 651.0 1133.9 651.7 1132.7 652.2 1131.3 652.4 1129.9 652.2 1128.6 651.7 1127.5 651.0 1126.7 650.0 1126.1 648.9 1125.9 647.6 1126.1 646.4 1126.7 645.3 1127.5 644.3 1128.6 643.5 1129.9 643.1 1131.3 642.9 1132.7 643.1 1133.9 643.5 1135.0 644.3 1135.9 645.3 1136.4 646.4 1136.6 647.6 1136.6 648.9 1136.4 653.2 1135.0 657.1 1132.3 658.7 1130.2 658.7 1127.5 657.4 1126.8 656.3" stroke="#505050" stroke-width="0.9" fill="none" stroke-linecap="round" stroke-linejoin="round"/><circle cx="1209.80" cy="641.70" r="40.70" stroke="#555" stroke-width="0.8" fill="none"/><circle cx="1209.80" cy="641.70" r="39.40" stroke="#555" stroke-width="0.8" fill="none"/><path d="M1191.0 636.2 1189.4 634.6 1187.9 633.8 1184.5 633.8 1182.6 634.9 1181.6 636.3 1181.4 638.1 1181.9 639.6 1183.2 640.6 1185.1 641.2 1188.2 642.2 1189.8 643.1 1191.1 644.5 1191.8 646.3 1191.4 647.7 1190.2 648.8 1188.8 649.6 1183.2 649.6 1182.0 649.0 1181.3 647.7M1198.0 633.8 1206.6 633.8 1201.9 640.1 1204.3 640.3 1206.3 641.4 1207.3 643.8 1207.2 646.4 1206.0 648.5 1204.3 649.6 1199.4 649.6 1197.8 648.8 1196.7 647.1M1212.6 637.3 1213.8 635.1 1216.1 634.0 1218.9 634.0 1221.3 635.5 1222.3 637.8 1221.8 640.0 1220.1 641.7 1212.2 649.6 1222.9 649.6M1233.5 633.8 1235.0 634.0 1236.3 634.6 1237.4 635.5 1238.1 636.6 1238.3 637.9 1238.3 645.5 1238.1 646.8 1237.4 647.9 1236.3 648.8 1235.0 649.4 1233.5 649.6 1232.4 649.6 1231.0 649.4 1229.6 648.8 1228.6 647.9 1227.9 646.8 1227.6 645.5 1227.6 637.9 1227.9 636.6 1228.6 635.5 1229.6 634.6 1231.0 634.0 1232.4 633.8 1233.5 633.8" stroke="#505050" stroke-width="0.9" fill="none" stroke-linecap="round" stroke-linejoin="round"/><circle cx="1310.40" cy="634.90" r="40.70" stroke="#555" stroke-width="0.8" fill="none"/><circle cx="1310.40" cy="634.90" r="39.40" stroke="#555" stroke-width="0.8" fill="none"/><path d="M1291.6 629.4 1290.0 627.8 1288.5 627.0 1285.1 627.0 1283.2 628.1 1282.2 629.5 1282.0 631.3 1282.5 632.8 1283.8 633.8 1285.7 634.4 1288.8 635.4 1290.4 636.3 1291.7 637.7 1292.4 639.5 1292.0 640.9 1290.8 642.0 1289.4 642.8 1283.8 642.8 1282.6 642.2 1281.9 640.9M1298.6 627.0 1307.2 627.0 1302.5 633.3 1304.9 633.5 1306.9 634.6 1307.9 637.0 1307.8 639.6 1306.6 641.7 1304.9 642.8 1300.0 642.8 1298.4 642.0 1297.3 640.3M1313.2 630.5 1314.4 628.3 1316.7 627.2 1319.5 627.2 1321.9 628.7 1322.9 631.0 1322.4 633.2 1320.7 634.9 1312.8 642.8 1323.5 642.8M1332.7 629.2 1334.9 627.0 1334.9 642.8" stroke="#505050" stroke-width="0.9" fill="none" stroke-linecap="round" stroke-linejoin="round"/><circle cx="1410.60" cy="629.00" r="40.70" stroke="#555" stroke-width="0.8" fill="none"/><circle cx="1410.60" cy="629.00" r="39.40" stroke="#555" stroke-width="0.8" fill="none"/><path d="M1391.8 623.5 1390.2 621.9 1388.7 621.1 1385.3 621.1 1383.4 622.2 1382.4 623.6 1382.2 625.4 1382.7 626.9 1384.0 627.9 1385.9 628.5 1389.0 629.5 1390.6 630.4 1391.9 631.8 1392.6 633.6 1392.2 635.0 1391.0 636.1 1389.6 636.9 1384.0 636.9 1382.8 636.3 1382.1 635.0M1398.8 621.1 1407.4 621.1 1402.7 627.4 1405.1 627.6 1407.1 628.7 1408.1 631.1 1408.0 633.7 1406.8 635.8 1405.1 636.9 1400.2 636.9 1398.6 636.1 1397.5 634.4M1413.4 624.6 1414.6 622.4 1416.9 621.3 1419.7 621.3 1422.1 622.8 1423.1 625.0 1422.6 627.3 1420.9 629.0 1413.0 636.9 1423.7 636.9M1428.9 624.6 1430.0 622.4 1432.4 621.3 1435.2 621.3 1437.5 622.8 1438.6 625.0 1438.0 627.3 1436.3 629.0 1428.4 636.9 1439.1 636.9" stroke="#505050" stroke-width="0.9" fill="none" stroke-linecap="round" stroke-linejoin="round"/><circle cx="1510.30" cy="622.50" r="40.70" stroke="#555" stroke-width="0.8" fill="none"/><circle cx="1510.30" cy="622.50" r="39.40" stroke="#555" stroke-width="0.8" fill="none"/><path d="M1491.5 617.0 1489.9 615.4 1488.4 614.6 1485.0 614.6 1483.1 615.7 1482.1 617.1 1481.9 618.9 1482.4 620.4 1483.7 621.4 1485.6 622.0 1488.7 623.0 1490.3 623.9 1491.6 625.3 1492.3 627.1 1491.9 628.5 1490.7 629.6 1489.3 630.4 1483.7 630.4 1482.5 629.8 1481.8 628.5M1498.5 614.6 1507.1 614.6 1502.4 620.9 1504.8 621.1 1506.8 622.2 1507.8 624.6 1507.7 627.2 1506.5 629.3 1504.8 630.4 1499.9 630.4 1498.3 629.6 1497.2 627.9M1513.1 618.1 1514.3 615.9 1516.6 614.8 1519.4 614.8 1521.8 616.3 1522.8 618.5 1522.3 620.8 1520.6 622.5 1512.7 630.4 1523.4 630.4M1529.4 614.6 1537.9 614.6 1533.3 620.9 1535.7 621.1 1537.7 622.2 1538.7 624.6 1538.6 627.2 1537.4 629.3 1535.7 630.4 1530.8 630.4 1529.2 629.6 1528.1 627.9" stroke="#505050" stroke-width="0.9" fill="none" stroke-linecap="round" stroke-linejoin="round"/><circle cx="1529.00" cy="709.90" r="40.70" stroke="#555" stroke-width="0.8" fill="none"/><circle cx="1529.00" cy="709.90" r="39.40" stroke="#555" stroke-width="0.8" fill="none"/><path d="M1510.2 704.4 1508.6 702.8 1507.1 702.0 1503.7 702.0 1501.8 703.1 1500.8 704.5 1500.6 706.3 1501.1 707.8 1502.4 708.8 1504.3 709.4 1507.4 710.4 1509.0 711.3 1510.3 712.7 1511.0 714.5 1510.6 715.9 1509.4 717.0 1508.0 717.8 1502.4 717.8 1501.2 717.2 1500.5 715.9M1517.2 702.0 1525.8 702.0 1521.1 708.3 1523.5 708.5 1525.5 709.6 1526.5 712.0 1526.4 714.6 1525.2 716.7 1523.5 717.8 1518.6 717.8 1517.0 717.0 1515.9 715.3M1537.3 702.0 1538.7 702.2 1540.1 702.8 1541.1 703.7 1541.8 704.8 1542.1 706.1 1542.1 713.7 1541.8 715.0 1541.1 716.1 1540.1 717.0 1538.7 717.6 1537.3 717.8 1536.2 717.8 1534.7 717.6 1533.4 717.0 1532.3 716.1 1531.6 715.0 1531.4 713.7 1531.4 706.1 1531.6 704.8 1532.3 703.7 1533.4 702.8 1534.7 702.2 1536.2 702.0 1537.3 702.0M1556.6 703.6 1554.8 702.2 1551.1 702.0 1548.4 703.6 1547.1 707.5 1546.8 711.8 1546.8 713.1 1547.0 711.8 1547.6 710.7 1548.4 709.7 1549.5 709.0 1550.8 708.5 1552.2 708.3 1553.6 708.5 1554.8 709.0 1555.9 709.7 1556.8 710.7 1557.3 711.8 1557.5 713.1 1557.3 714.3 1556.8 715.4 1555.9 716.4 1554.8 717.2 1553.6 717.6 1552.2 717.8 1550.8 717.6 1549.5 717.2 1548.4 716.4 1547.6 715.4 1547.0 714.3 1546.8 713.1" stroke="#505050" stroke-width="0.9" fill="none" stroke-linecap="round" stroke-linejoin="round"/><path d="M1605.00 266.20L1606.81 266.24L1608.61 266.36L1610.40 266.57L1612.19 266.85L1613.96 267.22L1615.71 267.66L1617.44 268.18L1619.14 268.78L1620.81 269.46L1622.46 270.21L1624.06 271.03L1625.63 271.93L1627.16 272.90L1628.64 273.93L1630.07 275.03L1631.45 276.20L1632.78 277.42L1634.05 278.70L1635.26 280.04L1636.41 281.44L1637.50 282.88L1638.52 284.37L1639.47 285.91L1640.35 287.48L1641.16 289.10L1641.89 290.75L1642.55 292.43L1643.14 294.14L1643.64 295.87L1644.07 297.63L1644.42 299.40L1644.68 301.19L1644.87 302.98L1644.98 304.79L1645.00 306.59L1644.94 308.40L1644.80 310.20L1644.58 311.99L1644.28 313.77L1643.89 315.54L1643.43 317.28L1642.89 319.01L1642.28 320.71L1641.58 322.37L1640.82 324.01L1639.98 325.61L1639.06 327.17L1638.08 328.68L1637.03 330.15L1635.92 331.58L1634.74 332.95L1633.51 334.26L1632.21 335.52L1630.86 336.72L1629.45 337.85L1628.00 338.93L1626.50 339.93L1624.95 340.87L1623.37 341.73L1621.75 342.53L1620.09 343.24L1618.40 343.89L1616.69 344.45L1614.95 344.94L1613.19 345.35L1611.41 345.68L1609.62 345.93L1607.83 346.10L1606.02 346.19L1604.21 346.19L1602.41 346.12L1600.61 345.96L1598.82 345.72L1597.04 345.40L1595.28 345.00L1593.54 344.52L1591.82 343.97L1590.13 343.33L1588.47 342.62L1586.84 341.84L1585.25 340.98L1583.70 340.06L1582.19 339.06L1580.73 338.00L1579.32 336.87L1577.96 335.68L1576.66 334.43L1575.41 333.12L1574.23 331.76L1573.11 330.34L1572.05 328.88L1571.06 327.37L1570.14 325.81L1569.29 324.22L1568.51 322.59L1567.81 320.92L1567.18 319.23L1566.63 317.51L1566.16 315.77L1565.77 314.00L1565.46 312.22L1565.22 310.43L1565.07 308.63L1565.00 306.83L1565.02 305.02L1565.11 303.22L1565.29 301.42L1565.54 299.63L1565.88 297.86L1566.30 296.10L1566.79 294.36L1567.36 292.65L1568.01 290.97L1568.74 289.31L1569.54 287.69L1570.41 286.11L1571.35 284.57L1572.36 283.07L1573.44 281.62L1574.58 280.22L1577.00 282.78L1578.42 282.69L1579.83 282.55L1581.23 282.34L1582.63 282.08L1584.02 281.76L1585.38 281.38L1586.74 280.95L1588.07 280.46L1589.38 279.91L1590.67 279.31L1591.93 278.65L1593.16 277.94L1594.36 277.18L1595.53 276.37L1596.66 275.52L1597.76 274.61L1598.81 273.66L1599.83 272.67L1600.80 271.63L1601.73 270.56L1602.61 269.45L1603.45 268.30L1604.24 267.12L1604.97 265.90Z" stroke="#5a5a5a" stroke-width="0.9" fill="none"/><path d="M1586.2 300.7 1584.6 299.1 1583.1 298.3 1579.7 298.3 1577.8 299.4 1576.8 300.8 1576.6 302.6 1577.1 304.1 1578.4 305.1 1580.3 305.7 1583.4 306.7 1585.0 307.6 1586.3 309.0 1587.0 310.8 1586.6 312.2 1585.4 313.3 1584.0 314.1 1578.4 314.1 1577.2 313.5 1576.5 312.2M1593.2 298.3 1601.8 298.3 1597.1 304.6 1599.5 304.8 1601.5 305.9 1602.5 308.3 1602.4 310.9 1601.2 313.0 1599.5 314.1 1594.6 314.1 1593.0 313.3 1591.9 311.6M1613.3 298.3 1614.7 298.5 1616.1 299.1 1617.1 300.0 1617.8 301.1 1618.1 302.4 1618.1 310.0 1617.8 311.3 1617.1 312.4 1616.1 313.3 1614.7 313.9 1613.3 314.1 1612.2 314.1 1610.7 313.9 1609.4 313.3 1608.3 312.4 1607.6 311.3 1607.4 310.0 1607.4 302.4 1607.6 301.1 1608.3 300.0 1609.4 299.1 1610.7 298.5 1612.2 298.3 1613.3 298.3M1633.0 298.3 1624.1 298.3 1623.5 304.9 1625.5 304.1 1629.2 304.1 1631.9 305.3 1633.3 307.5 1633.5 310.1 1632.4 312.8 1630.3 314.1 1625.8 314.1 1623.9 313.2 1622.8 311.6" stroke="#444" stroke-width="0.9" fill="none" stroke-linecap="round" stroke-linejoin="round"/><path d="M1580.71 645.12L1579.47 643.71L1578.30 642.24L1577.20 640.71L1576.18 639.14L1575.23 637.52L1574.35 635.85L1573.56 634.15L1572.85 632.41L1572.22 630.64L1571.67 628.84L1571.21 627.02L1570.83 625.18L1570.54 623.32L1570.34 621.45L1570.23 619.57L1570.20 617.70L1570.27 615.82L1570.42 613.94L1570.66 612.08L1570.98 610.23L1571.40 608.39L1571.89 606.58L1572.48 604.80L1573.14 603.04L1573.89 601.31L1574.72 599.63L1575.63 597.98L1576.61 596.38L1577.67 594.83L1578.80 593.32L1580.00 591.87L1581.26 590.48L1582.59 589.16L1583.98 587.89L1585.43 586.69L1586.93 585.56L1588.49 584.51L1590.09 583.52L1591.73 582.62L1593.42 581.79L1595.15 581.04L1596.90 580.37L1598.69 579.79L1600.50 579.29L1602.34 578.88L1604.19 578.55L1606.05 578.32L1607.93 578.16L1609.80 578.10L1611.68 578.13L1613.56 578.24L1615.43 578.44L1617.29 578.73L1619.13 579.11L1620.95 579.57L1622.75 580.12L1624.52 580.75L1626.26 581.46L1627.96 582.26L1629.62 583.13L1631.24 584.08L1632.82 585.11L1634.34 586.21L1635.82 587.38L1637.23 588.61L1638.59 589.92L1639.88 591.28L1641.10 592.71L1642.26 594.19L1643.35 595.72L1644.37 597.30L1645.31 598.93L1646.17 600.60L1646.95 602.31L1647.65 604.05L1648.27 605.83L1648.80 607.63L1649.25 609.45L1649.62 611.30L1649.89 613.16L1650.08 615.03L1650.18 616.90L1650.19 618.78L1650.12 620.66L1649.95 622.53L1649.70 624.40L1649.36 626.24L1648.94 628.07L1648.43 629.88L1647.83 631.67L1647.15 633.42L1646.39 635.14L1645.55 636.82L1644.63 638.46L1643.64 640.05L1642.57 641.60L1641.43 643.09L1640.22 644.53L1638.95 645.92L1637.61 647.23L1636.21 648.49L1634.75 649.68L1633.24 650.80L1631.68 651.84L1630.07 652.81L1628.42 653.71L1626.73 654.53L1625.00 655.26L1623.23 655.92L1621.44 656.49L1619.63 656.97L1617.79 657.37L1615.94 657.69L1614.07 657.91L1612.20 658.05L1610.32 658.10L1608.44 658.06L1606.56 657.93L1604.70 657.72L1602.84 657.42L1602.93 657.92L1602.55 656.83L1602.11 655.78L1601.61 654.75L1601.05 653.75L1600.42 652.79L1599.74 651.86L1599.01 650.98L1598.22 650.15L1597.38 649.36L1596.50 648.63L1595.58 647.95L1594.61 647.33L1593.61 646.77L1592.58 646.27L1591.52 645.83L1590.44 645.46L1589.33 645.15L1588.21 644.91L1587.08 644.74L1585.94 644.63L1584.79 644.60L1583.65 644.64L1582.50 644.74L1581.37 644.91Z" stroke="#5a5a5a" stroke-width="0.9" fill="none"/><path d="M1591.4 612.6 1589.8 611.0 1588.3 610.2 1584.9 610.2 1583.0 611.3 1582.0 612.7 1581.8 614.5 1582.3 616.0 1583.6 617.0 1585.5 617.6 1588.6 618.6 1590.2 619.5 1591.5 620.9 1592.2 622.7 1591.8 624.1 1590.6 625.2 1589.2 626.0 1583.6 626.0 1582.4 625.4 1581.7 624.1M1598.4 610.2 1607.0 610.2 1602.3 616.5 1604.7 616.7 1606.7 617.8 1607.7 620.2 1607.6 622.8 1606.4 624.9 1604.7 626.0 1599.8 626.0 1598.2 625.2 1597.1 623.5M1613.0 613.7 1614.2 611.5 1616.5 610.4 1619.3 610.4 1621.7 611.9 1622.7 614.2 1622.2 616.4 1620.5 618.1 1612.6 626.0 1623.3 626.0M1635.7 626.0 1635.7 610.2 1628.0 620.6 1638.7 620.6" stroke="#444" stroke-width="0.9" fill="none" stroke-linecap="round" stroke-linejoin="round"/><path d="M1316.51 744.98L1315.39 743.45L1314.34 741.88L1313.36 740.25L1312.46 738.59L1311.64 736.88L1310.90 735.13L1310.25 733.35L1309.68 731.55L1309.20 729.72L1308.80 727.86L1308.49 725.99L1308.27 724.11L1308.14 722.22L1308.10 720.33L1308.15 718.43L1308.29 716.54L1308.51 714.66L1308.83 712.79L1309.23 710.94L1309.72 709.11L1310.30 707.31L1310.96 705.53L1311.70 703.79L1312.53 702.08L1313.43 700.42L1314.42 698.80L1315.47 697.23L1316.61 695.71L1317.81 694.24L1319.08 692.84L1320.41 691.49L1321.81 690.21L1323.26 689.00L1324.77 687.85L1326.34 686.78L1327.95 685.79L1329.61 684.87L1331.31 684.03L1333.04 683.27L1334.81 682.60L1336.61 682.01L1338.44 681.51L1340.29 681.09L1342.16 680.76L1344.03 680.52L1345.92 680.36L1347.82 680.30L1349.71 680.33L1351.60 680.44L1353.49 680.65L1355.36 680.94L1357.21 681.33L1359.05 681.80L1360.86 682.35L1362.64 682.99L1364.39 683.72L1366.11 684.52L1367.78 685.41L1369.42 686.37L1371.00 687.41L1372.53 688.53L1374.01 689.71L1375.43 690.96L1376.79 692.28L1378.09 693.67L1379.32 695.11L1380.48 696.61L1381.57 698.16L1382.58 699.76L1383.52 701.40L1384.37 703.09L1385.15 704.82L1385.85 706.58L1386.46 708.38L1386.98 710.20L1387.42 712.04L1387.77 713.90L1388.03 715.78L1388.21 717.67L1388.29 719.56L1388.29 721.45L1388.19 723.35L1388.01 725.23L1387.73 727.11L1387.37 728.97L1386.93 730.81L1386.39 732.63L1385.77 734.42L1385.07 736.18L1384.28 737.90L1383.41 739.58L1382.47 741.23L1381.45 742.82L1380.35 744.37L1379.18 745.86L1377.94 747.29L1376.64 748.67L1375.27 749.98L1373.85 751.23L1372.36 752.40L1370.82 753.51L1369.23 754.54L1367.60 755.50L1365.92 756.37L1364.20 757.17L1362.44 757.89L1360.66 758.52L1358.84 759.06L1357.00 759.52L1355.15 759.89L1353.27 760.18L1351.39 760.37L1349.50 760.48L1347.60 760.50L1345.71 760.42L1343.82 760.26L1341.94 760.01L1340.08 759.67L1338.23 759.24L1336.41 758.73L1323 747.5Q1320 745.4 1316.2 745.2" stroke="#5a5a5a" stroke-width="0.9" fill="none"/><path d="M1329.4 714.9 1327.8 713.3 1326.3 712.5 1322.9 712.5 1321.0 713.6 1320.0 715.0 1319.8 716.8 1320.3 718.3 1321.6 719.3 1323.5 719.9 1326.6 720.9 1328.2 721.8 1329.5 723.2 1330.2 725.0 1329.8 726.4 1328.6 727.5 1327.2 728.3 1321.6 728.3 1320.4 727.7 1319.7 726.4M1336.4 712.5 1345.0 712.5 1340.3 718.8 1342.7 719.0 1344.7 720.1 1345.7 722.5 1345.6 725.1 1344.4 727.2 1342.7 728.3 1337.8 728.3 1336.2 727.5 1335.1 725.8M1351.9 712.5 1360.4 712.5 1355.7 718.8 1358.2 719.0 1360.2 720.1 1361.1 722.5 1361.0 725.1 1359.9 727.2 1358.2 728.3 1353.3 728.3 1351.7 727.5 1350.6 725.8M1367.3 712.5 1375.8 712.5 1371.2 718.8 1373.6 719.0 1375.6 720.1 1376.6 722.5 1376.5 725.1 1375.3 727.2 1373.6 728.3 1368.7 728.3 1367.1 727.5 1366.0 725.8" stroke="#444" stroke-width="0.9" fill="none" stroke-linecap="round" stroke-linejoin="round"/><path d="M1131.4 753.2 1129.7 754.8 1128.8 756.3 1128.8 759.8 1130.0 761.7 1131.6 762.7 1133.5 762.9 1135.2 762.4 1136.3 761.1 1137.0 759.1 1138.0 756.0 1139.1 754.4 1140.6 753.1 1142.5 752.4 1144.1 752.8 1145.3 754.0 1146.2 755.5 1146.2 761.1 1145.5 762.2 1144.1 763.0M1128.8 746.1 1128.8 737.5 1135.8 742.3 1135.9 739.8 1137.2 737.7 1139.8 736.8 1142.7 736.9 1145.0 738.1 1146.2 739.8 1146.2 744.7 1145.3 746.3 1143.4 747.4M1132.6 731.4 1130.2 730.2 1129.0 727.9 1129.0 725.1 1130.7 722.7 1133.2 721.6 1135.6 722.2 1137.5 723.9 1146.2 731.8 1146.2 721.1M1130.5 706.4 1129.0 708.2 1128.8 711.9 1130.5 714.6 1134.9 716.0 1139.6 716.2 1141.0 716.2 1139.6 716.1 1138.4 715.5 1137.3 714.7 1136.5 713.6 1135.9 712.3 1135.8 710.9 1135.9 709.5 1136.5 708.2 1137.3 707.1 1138.4 706.2 1139.6 705.7 1141.0 705.5 1142.3 705.7 1143.6 706.2 1144.7 707.1 1145.5 708.2 1146.0 709.5 1146.2 710.9 1146.0 712.3 1145.5 713.6 1144.7 714.7 1143.6 715.5 1142.3 716.1 1141.0 716.2" stroke="#444" stroke-width="0.9" fill="none" stroke-linecap="round" stroke-linejoin="round"/><rect x="308.50" y="252.50" width="471.00" height="498.00" stroke="#a4a4a4" stroke-width="1.0" fill="none"/><line x1="308.50" y1="252.50" x2="779.20" y2="252.50" stroke="#505050" stroke-width="1.0"/><line x1="446.50" y1="252.40" x2="446.50" y2="589.50" stroke="#a0a0a0" stroke-width="1.0"/><line x1="308.50" y1="589.50" x2="779.20" y2="589.50" stroke="#666" stroke-width="1.0"/><line x1="483.50" y1="589.50" x2="483.50" y2="750.00" stroke="#a0a0a0" stroke-width="1.0"/><path d="M466.6 573.1 472.0 557.0 477.3 573.1M468.7 567.0 475.2 567.0M482.6 560.5 483.7 558.3 486.1 557.2 488.9 557.2 491.2 558.8 492.3 561.0 491.8 563.3 490.1 565.0 482.1 573.1 492.8 573.1M503.6 557.0 505.0 557.2 506.4 557.8 507.4 558.7 508.1 559.9 508.4 561.2 508.4 568.9 508.1 570.2 507.4 571.4 506.4 572.3 505.0 572.9 503.6 573.1 502.5 573.1 501.0 572.9 499.6 572.3 498.6 571.4 497.9 570.2 497.7 568.9 497.7 561.2 497.9 559.9 498.6 558.7 499.6 557.8 501.0 557.2 502.5 557.0 503.6 557.0M519.1 557.0 520.6 557.2 521.9 557.8 523.0 558.7 523.7 559.9 523.9 561.2 523.9 568.9 523.7 570.2 523.0 571.4 521.9 572.3 520.6 572.9 519.1 573.1 518.0 573.1 516.5 572.9 515.2 572.3 514.1 571.4 513.4 570.2 513.2 568.9 513.2 561.2 513.4 559.9 514.1 558.7 515.2 557.8 516.5 557.2 518.0 557.0 519.1 557.0" stroke="#444" stroke-width="0.9" fill="none" stroke-linecap="round" stroke-linejoin="round"/><rect x="324.50" y="289.50" width="108.00" height="88.00" stroke="#808080" stroke-width="1.0" fill="none"/><path d="M349.9 325.0 360.6 325.0 349.9 341.7 360.6 341.7M370.9 332.7 369.5 332.5 368.2 331.9 367.2 331.1 366.6 330.0 366.3 328.8 366.6 327.7 367.2 326.6 368.2 325.7 369.5 325.2 370.9 325.0 372.3 325.2 373.5 325.7 374.5 326.6 375.2 327.7 375.4 328.8 375.2 330.0 374.5 331.1 373.5 331.9 372.3 332.5 370.9 332.7M370.9 332.3 372.2 332.5 373.5 333.0 374.7 333.7 375.5 334.7 376.0 335.8 376.2 337.0 376.0 338.2 375.5 339.4 374.7 340.3 373.5 341.1 372.2 341.5 370.9 341.7 369.5 341.5 368.2 341.1 367.1 340.3 366.2 339.4 365.7 338.2 365.5 337.0 365.7 335.8 366.2 334.7 367.1 333.7 368.2 333.0 369.5 332.5 370.9 332.3M387.0 325.0 388.5 325.2 389.8 325.8 390.9 326.8 391.6 328.0 391.8 329.3 391.8 337.4 391.6 338.7 390.9 339.9 389.8 340.9 388.5 341.5 387.0 341.7 385.9 341.7 384.4 341.5 383.1 340.9 382.0 339.9 381.3 338.7 381.1 337.4 381.1 329.3 381.3 328.0 382.0 326.8 383.1 325.8 384.4 325.2 385.9 325.0 387.0 325.0M402.6 325.0 404.1 325.2 405.4 325.8 406.5 326.8 407.2 328.0 407.4 329.3 407.4 337.4 407.2 338.7 406.5 339.9 405.4 340.9 404.1 341.5 402.6 341.7 401.5 341.7 400.0 341.5 398.6 340.9 397.6 339.9 396.9 338.7 396.7 337.4 396.7 329.3 396.9 328.0 397.6 326.8 398.6 325.8 400.0 325.2 401.5 325.0 402.6 325.0" stroke="#444" stroke-width="0.9" fill="none" stroke-linecap="round" stroke-linejoin="round"/><circle cx="349.90" cy="353.30" r="5.60" stroke="#555" stroke-width="1.0" fill="none"/><rect x="402.50" y="273.50" width="23.00" height="10.00" stroke="#6a6a6a" stroke-width="1.0" fill="none"/><path d="M407.3 275.6 407.0 274.8 406.5 274.2 405.8 273.9 405.2 273.8 404.5 274.0 403.9 274.5 403.5 275.2 403.2 276.0 403.1 277.0 403.1 280.2 403.2 281.2 403.5 282.0 403.9 282.7 404.5 283.2 405.2 283.4 405.8 283.3 406.5 283.0 407.0 282.4 407.3 281.6M411.1 278.2 410.5 278.1 410.0 277.8 409.6 277.3 409.3 276.7 409.2 276.0 409.3 275.3 409.6 274.7 410.0 274.2 410.5 273.9 411.1 273.8 411.7 273.9 412.2 274.2 412.6 274.7 412.9 275.3 413.0 276.0 412.9 276.7 412.6 277.3 412.2 277.8 411.7 278.1 411.1 278.2M411.1 278.0 411.7 278.1 412.2 278.4 412.7 278.8 413.0 279.4 413.3 280.0 413.3 280.7 413.3 281.4 413.0 282.1 412.7 282.6 412.2 283.0 411.7 283.3 411.1 283.4 410.5 283.3 410.0 283.0 409.5 282.6 409.2 282.1 409.0 281.4 408.9 280.7 409.0 280.0 409.2 279.4 409.5 278.8 410.0 278.4 410.5 278.1 411.1 278.0M415.2 273.8 418.8 273.8 416.8 277.6 417.8 277.7 418.7 278.4 419.1 279.8 419.0 281.5 418.5 282.7 417.8 283.4 415.8 283.4 415.1 282.9 414.7 281.9M422.3 275.1 423.2 273.8 423.2 283.4" stroke="#222" stroke-width="0.85" fill="none" stroke-linecap="round" stroke-linejoin="round"/><rect x="346.50" y="381.50" width="11.00" height="23.00" stroke="#6a6a6a" stroke-width="1.0" fill="none"/><path d="M348.7 399.3 347.9 399.7 347.3 400.2 346.9 400.8 346.8 401.4 347.0 402.0 347.5 402.6 348.3 403.0 349.2 403.3 350.2 403.4 353.6 403.4 354.6 403.3 355.5 403.0 356.3 402.6 356.8 402.0 357.0 401.4 356.9 400.8 356.5 400.2 355.9 399.7 355.1 399.3M351.5 395.6 351.4 396.2 351.0 396.7 350.5 397.1 349.9 397.4 349.1 397.5 348.4 397.4 347.8 397.1 347.2 396.7 346.9 396.2 346.8 395.6 346.9 395.1 347.2 394.6 347.8 394.2 348.4 393.9 349.1 393.8 349.9 393.9 350.5 394.2 351.0 394.6 351.4 395.1 351.5 395.6M351.3 395.6 351.4 395.1 351.7 394.6 352.1 394.1 352.7 393.8 353.4 393.6 354.1 393.5 354.9 393.6 355.6 393.8 356.2 394.1 356.6 394.6 356.9 395.1 357.0 395.6 356.9 396.2 356.6 396.7 356.2 397.2 355.6 397.5 354.9 397.7 354.1 397.8 353.4 397.7 352.7 397.5 352.1 397.2 351.7 396.7 351.4 396.2 351.3 395.6M346.8 389.8 346.9 389.2 347.3 388.7 347.9 388.3 348.6 388.0 349.5 387.9 354.3 387.9 355.2 388.0 355.9 388.3 356.5 388.7 356.9 389.2 357.0 389.8 357.0 390.3 356.9 390.9 356.5 391.4 355.9 391.8 355.2 392.1 354.3 392.2 349.5 392.2 348.6 392.1 347.9 391.8 347.3 391.4 346.9 390.9 346.8 390.3 346.8 389.8M346.8 382.5 346.8 386.1 351.1 386.3 350.6 385.5 350.6 384.0 351.3 382.9 352.7 382.4 354.4 382.3 356.2 382.7 357.0 383.6 357.0 385.4 356.4 386.2 355.4 386.6" stroke="#222" stroke-width="0.85" fill="none" stroke-linecap="round" stroke-linejoin="round"/><rect x="360.50" y="381.50" width="10.00" height="23.00" stroke="#6a6a6a" stroke-width="1.0" fill="none"/><path d="M362.4 399.3 361.6 399.7 361.0 400.2 360.7 400.8 360.6 401.4 360.8 402.0 361.3 402.6 362.0 403.0 362.9 403.3 363.8 403.4 367.1 403.4 368.0 403.3 368.9 403.0 369.6 402.6 370.1 402.0 370.3 401.4 370.2 400.8 369.9 400.2 369.3 399.7 368.5 399.3M365.1 395.6 365.0 396.2 364.6 396.7 364.1 397.1 363.5 397.4 362.8 397.5 362.1 397.4 361.5 397.1 361.0 396.7 360.7 396.2 360.6 395.6 360.7 395.1 361.0 394.6 361.5 394.2 362.1 393.9 362.8 393.8 363.5 393.9 364.1 394.2 364.6 394.6 365.0 395.1 365.1 395.6M364.9 395.6 365.0 395.1 365.2 394.6 365.7 394.1 366.2 393.8 366.9 393.6 367.6 393.5 368.3 393.6 368.9 393.8 369.5 394.1 369.9 394.6 370.2 395.1 370.3 395.6 370.2 396.2 369.9 396.7 369.5 397.2 368.9 397.5 368.3 397.7 367.6 397.8 366.9 397.7 366.2 397.5 365.7 397.2 365.2 396.7 365.0 396.2 364.9 395.6M360.6 391.7 360.6 388.2 364.5 390.1 364.6 389.1 365.3 388.3 366.7 387.9 368.4 388.0 369.6 388.5 370.3 389.1 370.3 391.1 369.8 391.8 368.7 392.2M365.1 384.5 365.0 385.0 364.6 385.5 364.1 385.9 363.5 386.2 362.8 386.3 362.1 386.2 361.5 385.9 361.0 385.5 360.7 385.0 360.6 384.5 360.7 383.9 361.0 383.4 361.5 383.0 362.1 382.7 362.8 382.6 363.5 382.7 364.1 383.0 364.6 383.4 365.0 383.9 365.1 384.5M364.9 384.5 365.0 383.9 365.2 383.4 365.7 382.9 366.2 382.6 366.9 382.4 367.6 382.3 368.3 382.4 368.9 382.6 369.5 382.9 369.9 383.4 370.2 383.9 370.3 384.5 370.2 385.0 369.9 385.5 369.5 386.0 368.9 386.3 368.3 386.5 367.6 386.6 366.9 386.5 366.2 386.3 365.7 386.0 365.2 385.5 365.0 385.0 364.9 384.5" stroke="#222" stroke-width="0.85" fill="none" stroke-linecap="round" stroke-linejoin="round"/><rect x="374.50" y="381.50" width="10.00" height="23.00" stroke="#6a6a6a" stroke-width="1.0" fill="none"/><path d="M376.4 399.3 375.6 399.7 375.0 400.2 374.7 400.8 374.6 401.4 374.8 402.0 375.3 402.6 376.0 403.0 376.9 403.3 377.8 403.4 381.1 403.4 382.0 403.3 382.9 403.0 383.6 402.6 384.1 402.0 384.3 401.4 384.2 400.8 383.9 400.2 383.3 399.7 382.5 399.3M379.1 395.6 379.0 396.2 378.6 396.7 378.1 397.1 377.5 397.4 376.8 397.5 376.1 397.4 375.5 397.1 375.0 396.7 374.7 396.2 374.6 395.6 374.7 395.1 375.0 394.6 375.5 394.2 376.1 393.9 376.8 393.8 377.5 393.9 378.1 394.2 378.6 394.6 379.0 395.1 379.1 395.6M378.9 395.6 379.0 395.1 379.2 394.6 379.7 394.1 380.2 393.8 380.9 393.6 381.6 393.5 382.3 393.6 382.9 393.8 383.5 394.1 383.9 394.6 384.2 395.1 384.3 395.6 384.2 396.2 383.9 396.7 383.5 397.2 382.9 397.5 382.3 397.7 381.6 397.8 380.9 397.7 380.2 397.5 379.7 397.2 379.2 396.7 379.0 396.2 378.9 395.6M374.6 391.7 374.6 388.2 378.5 390.1 378.6 389.1 379.3 388.3 380.7 387.9 382.4 388.0 383.6 388.5 384.3 389.1 384.3 391.1 383.8 391.8 382.7 392.2M377.5 382.3 378.3 382.4 379.0 382.6 379.6 382.9 380.0 383.4 380.3 383.9 380.4 384.5 380.3 385.0 380.0 385.5 379.6 386.0 379.0 386.3 378.3 386.5 377.5 386.6 376.8 386.5 376.1 386.3 375.5 386.0 375.0 385.5 374.7 385.0 374.6 384.5 374.7 383.9 375.0 383.4 375.5 382.9 376.1 382.6 376.8 382.4 377.5 382.3 378.3 382.3 380.9 382.4 383.3 382.9 384.3 384.0 384.3 384.9 383.5 386.0 382.8 386.3" stroke="#222" stroke-width="0.85" fill="none" stroke-linecap="round" stroke-linejoin="round"/><rect x="360.50" y="406.50" width="23.00" height="11.00" stroke="#6a6a6a" stroke-width="1.0" fill="none"/><path d="M361.3 407.0 361.3 416.9 365.6 416.9M369.1 411.6 368.6 411.4 368.1 411.1 367.6 410.6 367.4 410.0 367.3 409.3 367.4 408.6 367.6 407.9 368.1 407.4 368.6 407.1 369.1 407.0 369.7 407.1 370.2 407.4 370.6 407.9 370.9 408.6 371.0 409.3 370.9 410.0 370.6 410.6 370.2 411.1 369.7 411.4 369.1 411.6M369.1 411.4 369.7 411.5 370.2 411.7 370.7 412.2 371.0 412.7 371.2 413.4 371.3 414.1 371.2 414.8 371.0 415.5 370.7 416.1 370.2 416.5 369.7 416.8 369.1 416.9 368.6 416.8 368.0 416.5 367.6 416.1 367.2 415.5 367.0 414.8 367.0 414.1 367.0 413.4 367.2 412.7 367.6 412.2 368.0 411.7 368.6 411.5 369.1 411.4M372.8 409.2 373.3 407.8 374.2 407.1 375.3 407.1 376.3 408.1 376.7 409.5 376.5 410.9 375.8 411.9 372.6 416.9 376.9 416.9M378.3 407.0 382.6 407.0 379.6 416.9" stroke="#222" stroke-width="0.85" fill="none" stroke-linecap="round" stroke-linejoin="round"/><rect x="323.50" y="410.50" width="33.00" height="41.00" stroke="#808080" stroke-width="1.0" fill="none"/><circle cx="328.30" cy="415.50" r="3.00" stroke="#555" stroke-width="1.0" fill="none"/><path d="M309.5 451.6 309.5 443.2 321.9 451.6 321.9 443.2M315.2 435.2 315.1 436.3 314.7 437.2 314.0 438.0 313.2 438.5 312.4 438.7 311.5 438.5 310.7 438.0 310.0 437.2 309.6 436.3 309.5 435.2 309.6 434.1 310.0 433.1 310.7 432.3 311.5 431.8 312.4 431.6 313.2 431.8 314.0 432.3 314.7 433.1 315.1 434.1 315.2 435.2M315.0 435.2 315.1 434.1 315.4 433.1 316.0 432.2 316.7 431.5 317.5 431.1 318.4 430.9 319.3 431.1 320.2 431.5 320.9 432.2 321.4 433.1 321.8 434.1 321.9 435.2 321.8 436.3 321.4 437.3 320.9 438.1 320.2 438.8 319.3 439.2 318.4 439.4 317.5 439.2 316.7 438.8 316.0 438.1 315.4 437.3 315.1 436.3 315.0 435.2M309.5 422.5 309.7 421.3 310.1 420.3 310.8 419.4 311.7 418.9 312.7 418.7 318.7 418.7 319.7 418.9 320.6 419.4 321.3 420.3 321.7 421.3 321.9 422.5 321.9 423.4 321.7 424.5 321.3 425.6 320.6 426.4 319.7 427.0 318.7 427.2 312.7 427.2 311.7 427.0 310.8 426.4 310.1 425.6 309.7 424.5 309.5 423.4 309.5 422.5M310.7 407.2 309.6 408.6 309.5 411.6 310.7 413.7 313.8 414.8 317.2 414.9 318.2 414.9 317.2 414.8 316.3 414.4 315.5 413.7 315.0 412.8 314.6 411.8 314.5 410.7 314.6 409.6 315.0 408.6 315.5 407.7 316.3 407.1 317.2 406.6 318.2 406.5 319.1 406.6 320.0 407.1 320.8 407.7 321.4 408.6 321.8 409.6 321.9 410.7 321.8 411.8 321.4 412.8 320.8 413.7 320.0 414.4 319.1 414.8 318.2 414.9" stroke="#444" stroke-width="0.9" fill="none" stroke-linecap="round" stroke-linejoin="round"/><rect x="323.50" y="463.50" width="11.00" height="22.00" stroke="#6a6a6a" stroke-width="1.0" fill="none"/><path d="M325.9 480.7 325.1 481.0 324.5 481.5 324.1 482.1 324.0 482.7 324.2 483.3 324.7 483.8 325.4 484.2 326.3 484.5 327.3 484.6 330.6 484.6 331.6 484.5 332.5 484.2 333.2 483.8 333.7 483.3 333.9 482.7 333.8 482.1 333.4 481.5 332.8 481.0 332.0 480.7M328.6 477.2 328.4 477.7 328.1 478.2 327.6 478.6 327.0 478.8 326.3 478.9 325.6 478.8 324.9 478.6 324.4 478.2 324.1 477.7 324.0 477.2 324.1 476.6 324.4 476.2 324.9 475.8 325.6 475.5 326.3 475.4 327.0 475.5 327.6 475.8 328.1 476.2 328.4 476.6 328.6 477.2M328.4 477.2 328.5 476.6 328.7 476.1 329.2 475.7 329.7 475.4 330.4 475.2 331.1 475.1 331.8 475.2 332.5 475.4 333.1 475.7 333.5 476.1 333.8 476.6 333.9 477.2 333.8 477.7 333.5 478.2 333.1 478.6 332.5 479.0 331.8 479.2 331.1 479.2 330.4 479.2 329.7 479.0 329.2 478.6 328.7 478.2 328.5 477.7 328.4 477.2M326.2 473.7 324.8 473.3 324.1 472.4 324.1 471.3 325.1 470.4 326.5 470.0 327.9 470.2 328.9 470.8 333.9 473.9 333.9 469.8M324.0 468.5 324.0 464.4 333.9 467.3" stroke="#222" stroke-width="0.85" fill="none" stroke-linecap="round" stroke-linejoin="round"/><rect x="338.50" y="463.50" width="10.00" height="22.00" stroke="#6a6a6a" stroke-width="1.0" fill="none"/><path d="M348.2 484.6 338.5 484.6 338.5 481.7 338.5 481.7 338.6 481.4 338.9 481.0 339.3 480.8 339.9 480.6 340.6 480.5 341.3 480.5 341.9 480.6 342.5 480.8 343.0 481.0 343.3 481.4 343.4 481.7 343.4 484.6M343.4 482.3 348.2 480.5M343.0 477.2 342.9 477.7 342.5 478.2 342.0 478.6 341.4 478.8 340.7 478.9 340.0 478.8 339.4 478.6 338.9 478.2 338.6 477.7 338.5 477.2 338.6 476.6 338.9 476.2 339.4 475.8 340.0 475.5 340.7 475.4 341.4 475.5 342.0 475.8 342.5 476.2 342.9 476.6 343.0 477.2M342.8 477.2 342.9 476.6 343.1 476.1 343.6 475.7 344.1 475.4 344.8 475.2 345.5 475.1 346.2 475.2 346.8 475.4 347.4 475.7 347.8 476.1 348.1 476.6 348.2 477.2 348.1 477.7 347.8 478.2 347.4 478.6 346.8 479.0 346.2 479.2 345.5 479.2 344.8 479.2 344.1 479.0 343.6 478.6 343.1 478.2 342.9 477.7 342.8 477.2M338.5 471.6 338.6 471.0 339.0 470.5 339.5 470.1 340.2 469.8 341.0 469.8 345.7 469.8 346.5 469.8 347.2 470.1 347.7 470.5 348.1 471.0 348.2 471.6 348.2 472.0 348.1 472.6 347.7 473.1 347.2 473.5 346.5 473.8 345.7 473.9 341.0 473.9 340.2 473.8 339.5 473.5 339.0 473.1 338.6 472.6 338.5 472.0 338.5 471.6M338.5 466.3 338.6 465.7 339.0 465.2 339.5 464.8 340.2 464.5 341.0 464.4 345.7 464.4 346.5 464.5 347.2 464.8 347.7 465.2 348.1 465.7 348.2 466.3 348.2 466.7 348.1 467.2 347.7 467.8 347.2 468.2 346.5 468.4 345.7 468.5 341.0 468.5 340.2 468.4 339.5 468.2 339.0 467.8 338.6 467.2 338.5 466.7 338.5 466.3" stroke="#222" stroke-width="0.85" fill="none" stroke-linecap="round" stroke-linejoin="round"/><rect x="351.50" y="463.50" width="11.00" height="22.00" stroke="#6a6a6a" stroke-width="1.0" fill="none"/><path d="M354.1 480.7 353.3 481.0 352.7 481.5 352.3 482.1 352.2 482.7 352.4 483.3 352.9 483.8 353.6 484.2 354.5 484.5 355.5 484.6 358.9 484.6 359.9 484.5 360.8 484.2 361.5 483.8 362.0 483.3 362.2 482.7 362.1 482.1 361.7 481.5 361.1 481.0 360.3 480.7M356.8 477.2 356.7 477.7 356.4 478.2 355.9 478.6 355.2 478.8 354.5 478.9 353.8 478.8 353.1 478.6 352.6 478.2 352.3 477.7 352.2 477.2 352.3 476.6 352.6 476.2 353.1 475.8 353.8 475.5 354.5 475.4 355.2 475.5 355.9 475.8 356.4 476.2 356.7 476.6 356.8 477.2M356.6 477.2 356.7 476.6 357.0 476.1 357.4 475.7 358.0 475.4 358.7 475.2 359.4 475.1 360.1 475.2 360.8 475.4 361.4 475.7 361.8 476.1 362.1 476.6 362.2 477.2 362.1 477.7 361.8 478.2 361.4 478.6 360.8 479.0 360.1 479.2 359.4 479.2 358.7 479.2 358.0 479.0 357.4 478.6 357.0 478.2 356.7 477.7 356.6 477.2M354.4 473.7 353.0 473.3 352.3 472.4 352.3 471.3 353.3 470.4 354.7 470.0 356.1 470.2 357.2 470.8 362.2 473.9 362.2 469.8M356.8 466.5 356.7 467.0 356.4 467.5 355.9 467.9 355.2 468.1 354.5 468.2 353.8 468.1 353.1 467.9 352.6 467.5 352.3 467.0 352.2 466.5 352.3 465.9 352.6 465.4 353.1 465.1 353.8 464.8 354.5 464.7 355.2 464.8 355.9 465.1 356.4 465.4 356.7 465.9 356.8 466.5M356.6 466.5 356.7 465.9 357.0 465.4 357.4 465.0 358.0 464.7 358.7 464.5 359.4 464.4 360.1 464.5 360.8 464.7 361.4 465.0 361.8 465.4 362.1 465.9 362.2 466.5 362.1 467.0 361.8 467.5 361.4 467.9 360.8 468.2 360.1 468.5 359.4 468.5 358.7 468.5 358.0 468.2 357.4 467.9 357.0 467.5 356.7 467.0 356.6 466.5" stroke="#222" stroke-width="0.85" fill="none" stroke-linecap="round" stroke-linejoin="round"/><rect x="331.50" y="485.50" width="11.00" height="23.00" stroke="#6a6a6a" stroke-width="1.0" fill="none"/><path d="M333.6 503.7 332.8 504.0 332.1 504.5 331.7 505.1 331.6 505.8 331.8 506.4 332.4 507.0 333.1 507.4 334.1 507.7 335.1 507.8 338.8 507.8 339.8 507.7 340.8 507.4 341.5 507.0 342.1 506.4 342.3 505.8 342.2 505.1 341.8 504.5 341.1 504.0 340.3 503.7M336.5 500.0 336.4 500.6 336.1 501.1 335.5 501.5 334.8 501.7 334.1 501.8 333.3 501.7 332.6 501.5 332.1 501.1 331.7 500.6 331.6 500.0 331.7 499.5 332.1 498.9 332.6 498.5 333.3 498.3 334.1 498.2 334.8 498.3 335.5 498.5 336.1 498.9 336.4 499.5 336.5 500.0M336.3 500.0 336.4 499.5 336.7 498.9 337.2 498.5 337.8 498.1 338.5 497.9 339.3 497.8 340.1 497.9 340.8 498.1 341.4 498.5 341.9 498.9 342.2 499.5 342.3 500.0 342.2 500.6 341.9 501.1 341.4 501.5 340.8 501.9 340.1 502.1 339.3 502.2 338.5 502.1 337.8 501.9 337.2 501.5 336.7 501.1 336.4 500.6 336.3 500.0M334.0 496.4 332.5 495.9 331.7 495.0 331.7 493.8 332.8 492.9 334.3 492.4 335.8 492.7 337.0 493.3 342.3 496.6 342.3 492.2M334.8 486.6 335.6 486.7 336.4 486.9 337.1 487.2 337.6 487.7 337.9 488.2 338.0 488.8 337.9 489.3 337.6 489.8 337.1 490.3 336.4 490.6 335.6 490.9 334.8 490.9 334.0 490.9 333.2 490.6 332.5 490.3 332.0 489.8 331.7 489.3 331.6 488.8 331.7 488.2 332.0 487.7 332.5 487.2 333.2 486.9 334.0 486.7 334.8 486.6 335.7 486.6 338.6 486.7 341.2 487.2 342.3 488.3 342.3 489.2 341.4 490.3 340.7 490.6" stroke="#222" stroke-width="0.85" fill="none" stroke-linecap="round" stroke-linejoin="round"/><rect x="345.50" y="485.50" width="11.00" height="23.00" stroke="#6a6a6a" stroke-width="1.0" fill="none"/><path d="M345.6 507.8 356.3 507.8 356.3 503.5M350.5 500.0 350.4 500.6 350.1 501.1 349.5 501.5 348.8 501.7 348.1 501.8 347.3 501.7 346.6 501.5 346.1 501.1 345.7 500.6 345.6 500.0 345.7 499.5 346.1 498.9 346.6 498.5 347.3 498.3 348.1 498.2 348.8 498.3 349.5 498.5 350.1 498.9 350.4 499.5 350.5 500.0M350.3 500.0 350.4 499.5 350.7 498.9 351.2 498.5 351.8 498.1 352.5 497.9 353.3 497.8 354.1 497.9 354.8 498.1 355.4 498.5 355.9 498.9 356.2 499.5 356.3 500.0 356.2 500.6 355.9 501.1 355.4 501.5 354.8 501.9 354.1 502.1 353.3 502.2 352.5 502.1 351.8 501.9 351.2 501.5 350.7 501.1 350.4 500.6 350.3 500.0M345.6 494.2 345.7 493.6 346.1 493.0 346.7 492.6 347.5 492.3 348.4 492.2 353.5 492.2 354.4 492.3 355.2 492.6 355.8 493.0 356.2 493.6 356.3 494.2 356.3 494.6 356.2 495.2 355.8 495.7 355.2 496.2 354.4 496.5 353.5 496.6 348.4 496.6 347.5 496.5 346.7 496.2 346.1 495.7 345.7 495.2 345.6 494.6 345.6 494.2M345.6 488.5 345.7 487.9 346.1 487.4 346.7 487.0 347.5 486.7 348.4 486.6 353.5 486.6 354.4 486.7 355.2 487.0 355.8 487.4 356.2 487.9 356.3 488.5 356.3 489.0 356.2 489.6 355.8 490.1 355.2 490.6 354.4 490.8 353.5 490.9 348.4 490.9 347.5 490.8 346.7 490.6 346.1 490.1 345.7 489.6 345.6 489.0 345.6 488.5" stroke="#222" stroke-width="0.85" fill="none" stroke-linecap="round" stroke-linejoin="round"/><rect x="359.50" y="485.50" width="10.00" height="23.00" stroke="#6a6a6a" stroke-width="1.0" fill="none"/><path d="M369.3 507.8 359.6 507.8 359.6 504.8 359.6 504.8 359.7 504.4 360.0 504.1 360.4 503.8 361.0 503.6 361.7 503.5 362.4 503.5 363.0 503.6 363.6 503.8 364.1 504.1 364.4 504.4 364.5 504.8 364.5 507.8M364.5 505.4 369.3 503.5M364.1 500.0 364.0 500.6 363.6 501.1 363.1 501.5 362.5 501.7 361.8 501.8 361.1 501.7 360.5 501.5 360.0 501.1 359.7 500.6 359.6 500.0 359.7 499.5 360.0 498.9 360.5 498.5 361.1 498.3 361.8 498.2 362.5 498.3 363.1 498.5 363.6 498.9 364.0 499.5 364.1 500.0M363.9 500.0 364.0 499.5 364.2 498.9 364.7 498.5 365.2 498.1 365.9 497.9 366.6 497.8 367.3 497.9 367.9 498.1 368.5 498.5 368.9 498.9 369.2 499.5 369.3 500.0 369.2 500.6 368.9 501.1 368.5 501.5 367.9 501.9 367.3 502.1 366.6 502.2 365.9 502.1 365.2 501.9 364.7 501.5 364.2 501.1 364.0 500.6 363.9 500.0M359.6 494.2 359.7 493.6 360.1 493.0 360.6 492.6 361.3 492.3 362.1 492.2 366.8 492.2 367.6 492.3 368.3 492.6 368.8 493.0 369.2 493.6 369.3 494.2 369.3 494.6 369.2 495.2 368.8 495.7 368.3 496.2 367.6 496.5 366.8 496.6 362.1 496.6 361.3 496.5 360.6 496.2 360.1 495.7 359.7 495.2 359.6 494.6 359.6 494.2M361.0 489.1 359.6 488.2 369.3 488.2" stroke="#222" stroke-width="0.85" fill="none" stroke-linecap="round" stroke-linejoin="round"/><rect x="373.50" y="462.50" width="23.00" height="11.00" stroke="#6a6a6a" stroke-width="1.0" fill="none"/><path d="M378.5 464.6 378.1 463.8 377.6 463.2 377.0 462.8 376.4 462.7 375.8 462.9 375.2 463.4 374.8 464.2 374.5 465.1 374.4 466.1 374.4 469.5 374.5 470.5 374.8 471.4 375.2 472.2 375.8 472.7 376.4 472.9 377.0 472.8 377.6 472.4 378.1 471.8 378.5 471.0M382.1 467.4 381.6 467.3 381.1 466.9 380.7 466.4 380.4 465.8 380.3 465.0 380.4 464.3 380.7 463.7 381.1 463.1 381.6 462.8 382.1 462.7 382.7 462.8 383.2 463.1 383.6 463.7 383.8 464.3 383.9 465.0 383.8 465.8 383.6 466.4 383.2 466.9 382.7 467.3 382.1 467.4M382.1 467.2 382.7 467.3 383.2 467.6 383.6 468.0 384.0 468.6 384.2 469.3 384.3 470.0 384.2 470.8 384.0 471.5 383.6 472.1 383.2 472.5 382.7 472.8 382.1 472.9 381.6 472.8 381.0 472.5 380.6 472.1 380.3 471.5 380.0 470.8 380.0 470.0 380.0 469.3 380.3 468.6 380.6 468.0 381.0 467.6 381.6 467.3 382.1 467.2M385.7 464.9 386.2 463.5 387.1 462.8 388.2 462.8 389.2 463.8 389.6 465.2 389.4 466.7 388.7 467.8 385.5 472.9 389.8 472.9M395.1 463.7 394.3 462.8 392.8 462.7 391.8 463.7 391.2 466.3 391.1 469.0 391.1 469.8 391.2 469.0 391.4 468.3 391.7 467.7 392.2 467.2 392.7 466.9 393.3 466.8 393.8 466.9 394.3 467.2 394.8 467.7 395.1 468.3 395.3 469.0 395.4 469.8 395.3 470.6 395.1 471.4 394.8 472.0 394.3 472.5 393.8 472.8 393.3 472.9 392.7 472.8 392.2 472.5 391.7 472.0 391.4 471.4 391.2 470.6 391.1 469.8" stroke="#222" stroke-width="0.85" fill="none" stroke-linecap="round" stroke-linejoin="round"/><rect x="383.50" y="478.50" width="21.00" height="33.00" stroke="#6a6a6a" stroke-width="1.0" fill="none"/><path d="M384.4 509.3 402.9 506.4 384.4 503.4M392.9 498.8 392.7 499.5 392.1 500.2 391.1 500.7 389.9 501.1 388.6 501.2 387.3 501.1 386.1 500.7 385.2 500.2 384.6 499.5 384.4 498.8 384.6 498.0 385.2 497.3 386.1 496.8 387.3 496.4 388.6 496.3 389.9 496.4 391.1 496.8 392.1 497.3 392.7 498.0 392.9 498.8M392.5 498.8 392.7 498.0 393.2 497.3 394.1 496.7 395.1 496.2 396.4 495.9 397.7 495.8 399.1 495.9 400.3 496.2 401.4 496.7 402.3 497.3 402.8 498.0 402.9 498.8 402.8 499.5 402.3 500.2 401.4 500.8 400.3 501.3 399.1 501.6 397.7 501.7 396.4 501.6 395.1 501.3 394.1 500.8 393.2 500.2 392.7 499.5 392.5 498.8M384.4 490.9 384.6 490.0 385.3 489.3 386.3 488.7 387.7 488.3 389.2 488.2 398.1 488.2 399.6 488.3 401.0 488.7 402.0 489.3 402.7 490.0 402.9 490.9 402.9 491.4 402.7 492.3 402.0 493.0 401.0 493.6 399.6 493.9 398.1 494.1 389.2 494.1 387.7 493.9 386.3 493.6 385.3 493.0 384.6 492.3 384.4 491.4 384.4 490.9M388.4 486.2 385.8 485.6 384.5 484.3 384.5 482.8 386.4 481.5 389.0 480.9 391.6 481.2 393.6 482.1 402.9 486.5 402.9 480.6" stroke="#222" stroke-width="0.85" fill="none" stroke-linecap="round" stroke-linejoin="round"/><rect x="353.50" y="543.50" width="18.00" height="22.00" stroke="#6a6a6a" stroke-width="1.0" fill="none"/><path d="M354.1 563.4 370.6 563.4 370.6 559.7M356.4 557.0 354.1 556.3 370.6 556.3M354.1 550.2 354.1 553.3 361.0 553.5 360.2 552.8 360.2 551.5 361.4 550.6 363.7 550.1 366.5 550.0 369.3 550.4 370.6 551.1 370.6 552.7 369.6 553.4 368.0 553.7M354.1 546.9 354.3 546.4 354.9 545.9 355.9 545.5 357.1 545.3 358.4 545.2 366.3 545.2 367.6 545.3 368.8 545.5 369.8 545.9 370.4 546.4 370.6 546.9 370.6 547.2 370.4 547.8 369.8 548.2 368.8 548.6 367.6 548.8 366.3 548.9 358.4 548.9 357.1 548.8 355.9 548.6 354.9 548.2 354.3 547.8 354.1 547.2 354.1 546.9" stroke="#222" stroke-width="0.85" fill="none" stroke-linecap="round" stroke-linejoin="round"/><line x1="353.10" y1="554.50" x2="371.60" y2="554.50" stroke="#808080" stroke-width="1.0"/><rect x="383.50" y="543.50" width="12.00" height="24.00" stroke="#6a6a6a" stroke-width="1.0" fill="none"/><path d="M385.9 561.5 385.0 561.8 384.4 562.3 383.9 562.9 383.9 563.5 384.1 564.1 384.6 564.7 385.4 565.1 386.4 565.4 387.5 565.5 391.2 565.5 392.3 565.4 393.3 565.1 394.1 564.7 394.6 564.1 394.8 563.5 394.8 562.9 394.3 562.3 393.7 561.8 392.8 561.5M385.4 558.2 383.9 557.3 394.9 557.3M383.9 550.4 383.9 554.0 388.5 554.2 387.9 553.4 387.9 551.9 388.7 550.9 390.2 550.3 392.1 550.2 394.0 550.6 394.9 551.5 394.9 553.3 394.2 554.0 393.1 554.5M383.9 544.9 383.9 548.4 388.5 548.7 387.9 547.9 387.9 546.4 388.7 545.3 390.2 544.8 392.1 544.7 394.0 545.1 394.9 546.0 394.9 547.8 394.2 548.5 393.1 548.9" stroke="#222" stroke-width="0.85" fill="none" stroke-linecap="round" stroke-linejoin="round"/><rect x="380.50" y="547.50" width="3.00" height="4.00" stroke="#808080" stroke-width="1.0" fill="none"/><rect x="395.50" y="547.50" width="3.00" height="4.00" stroke="#808080" stroke-width="1.0" fill="none"/><rect x="380.50" y="560.50" width="3.00" height="4.00" stroke="#808080" stroke-width="1.0" fill="none"/><rect x="395.50" y="560.50" width="3.00" height="4.00" stroke="#808080" stroke-width="1.0" fill="none"/><rect x="405.50" y="542.50" width="23.00" height="11.00" stroke="#6a6a6a" stroke-width="1.0" fill="none"/><path d="M406.1 553.1 406.1 542.9 409.2 542.9 409.2 542.9 409.5 543.0 409.9 543.3 410.2 543.8 410.4 544.4 410.5 545.1 410.5 545.8 410.4 546.5 410.2 547.1 409.9 547.6 409.5 547.9 409.2 548.0 406.1 548.0M408.5 548.0 410.5 553.1M413.6 544.3 414.5 542.9 414.5 553.1M421.7 542.9 418.0 542.9 417.8 547.2 418.6 546.7 420.1 546.7 421.2 547.4 421.8 548.8 421.9 550.5 421.5 552.3 420.6 553.1 418.7 553.1 417.9 552.5 417.5 551.5M425.1 544.3 425.9 542.9 425.9 553.1" stroke="#222" stroke-width="0.85" fill="none" stroke-linecap="round" stroke-linejoin="round"/><rect x="405.50" y="556.50" width="23.00" height="11.00" stroke="#6a6a6a" stroke-width="1.0" fill="none"/><path d="M406.1 567.1 406.1 557.0 409.2 557.0 409.2 557.0 409.5 557.1 409.9 557.4 410.2 557.9 410.4 558.5 410.5 559.2 410.5 559.9 410.4 560.6 410.2 561.2 409.9 561.6 409.5 561.9 409.2 562.0 406.1 562.0M408.5 562.0 410.5 567.1M413.6 558.4 414.5 557.0 414.5 567.1M421.7 557.0 418.0 557.0 417.8 561.2 418.6 560.7 420.1 560.7 421.2 561.4 421.8 562.9 421.9 564.6 421.5 566.3 420.6 567.1 418.7 567.1 417.9 566.5 417.5 565.5M423.4 559.2 423.9 557.8 424.8 557.1 426.0 557.1 426.9 558.1 427.4 559.5 427.2 560.9 426.5 562.0 423.2 567.1 427.6 567.1" stroke="#222" stroke-width="0.85" fill="none" stroke-linecap="round" stroke-linejoin="round"/><rect x="194.50" y="303.50" width="66.00" height="67.00" stroke="#808080" stroke-width="1.0" fill="none"/><line x1="192.50" y1="310.30" x2="192.50" y2="318.30" stroke="#777" stroke-width="1.0"/><line x1="192.50" y1="355.10" x2="192.50" y2="364.10" stroke="#777" stroke-width="1.0"/><line x1="195.50" y1="310.30" x2="195.50" y2="318.30" stroke="#777" stroke-width="1.0"/><line x1="195.50" y1="355.10" x2="195.50" y2="364.10" stroke="#777" stroke-width="1.0"/><line x1="259.50" y1="310.30" x2="259.50" y2="318.30" stroke="#777" stroke-width="1.0"/><line x1="259.50" y1="355.10" x2="259.50" y2="364.10" stroke="#777" stroke-width="1.0"/><line x1="261.50" y1="310.30" x2="261.50" y2="318.30" stroke="#777" stroke-width="1.0"/><line x1="261.50" y1="355.10" x2="261.50" y2="364.10" stroke="#777" stroke-width="1.0"/><path d="M194.0 303.8L200.0 303.8L194.0 309.8Z" stroke="#333" stroke-width="0.6" fill="#555"/><line x1="199.50" y1="313.50" x2="254.50" y2="313.50" stroke="#808080" stroke-width="1.0"/><line x1="199.50" y1="361.50" x2="254.50" y2="361.50" stroke="#808080" stroke-width="1.0"/><line x1="221.50" y1="313.30" x2="221.50" y2="327.00" stroke="#808080" stroke-width="1.0"/><line x1="221.50" y1="348.00" x2="221.50" y2="361.20" stroke="#808080" stroke-width="1.0"/><path d="M208.4 332.0 206.7 330.3 205.2 329.5 201.8 329.5 199.8 330.7 198.8 332.2 198.6 334.0 199.2 335.7 200.5 336.7 202.4 337.4 205.5 338.4 207.2 339.4 208.5 340.9 209.2 342.8 208.8 344.3 207.6 345.5 206.1 346.3 200.5 346.3 199.3 345.6 198.5 344.3M215.5 329.5 224.2 329.5 219.4 336.2 221.9 336.4 224.0 337.6 225.0 340.1 224.8 342.9 223.7 345.1 221.9 346.3 216.9 346.3 215.3 345.5 214.2 343.6M237.7 346.3 237.7 329.5 229.9 340.6 240.8 340.6M251.6 329.5 253.1 329.7 254.5 330.3 255.6 331.3 256.3 332.5 256.5 333.9 256.5 341.9 256.3 343.3 255.6 344.5 254.5 345.5 253.1 346.1 251.6 346.3 250.5 346.3 249.0 346.1 247.7 345.5 246.6 344.5 245.9 343.3 245.7 341.9 245.7 333.9 245.9 332.5 246.6 331.3 247.7 330.3 249.0 329.7 250.5 329.5 251.6 329.5" stroke="#444" stroke-width="0.9" fill="none" stroke-linecap="round" stroke-linejoin="round"/><line x1="221.70" y1="346.30" x2="237.10" y2="330.50" stroke="#808080" stroke-width="0.9"/><rect x="194.50" y="627.50" width="66.00" height="66.00" stroke="#808080" stroke-width="1.0" fill="none"/><line x1="192.50" y1="633.60" x2="192.50" y2="641.60" stroke="#777" stroke-width="1.0"/><line x1="192.50" y1="678.10" x2="192.50" y2="687.10" stroke="#777" stroke-width="1.0"/><line x1="195.50" y1="633.60" x2="195.50" y2="641.60" stroke="#777" stroke-width="1.0"/><line x1="195.50" y1="678.10" x2="195.50" y2="687.10" stroke="#777" stroke-width="1.0"/><line x1="259.50" y1="633.60" x2="259.50" y2="641.60" stroke="#777" stroke-width="1.0"/><line x1="259.50" y1="678.10" x2="259.50" y2="687.10" stroke="#777" stroke-width="1.0"/><line x1="261.50" y1="633.60" x2="261.50" y2="641.60" stroke="#777" stroke-width="1.0"/><line x1="261.50" y1="678.10" x2="261.50" y2="687.10" stroke="#777" stroke-width="1.0"/><path d="M194.1 627.1L200.1 627.1L194.1 633.1Z" stroke="#333" stroke-width="0.6" fill="#555"/><line x1="199.90" y1="636.50" x2="254.80" y2="636.50" stroke="#808080" stroke-width="1.0"/><line x1="199.90" y1="684.20" x2="254.80" y2="684.20" stroke="#808080" stroke-width="1.1"/><line x1="221.50" y1="636.50" x2="221.50" y2="650.00" stroke="#808080" stroke-width="1.0"/><line x1="221.50" y1="670.00" x2="221.50" y2="684.20" stroke="#808080" stroke-width="1.0"/><path d="M208.4 655.0 206.8 653.4 205.3 652.6 202.0 652.6 200.1 653.7 199.1 655.2 198.9 656.9 199.4 658.6 200.7 659.5 202.6 660.2 205.7 661.1 207.2 662.1 208.5 663.5 209.3 665.3 208.8 666.8 207.7 667.9 206.2 668.7 200.7 668.7 199.5 668.1 198.8 666.8M215.4 652.6 223.8 652.6 219.2 659.0 221.6 659.2 223.6 660.3 224.6 662.7 224.5 665.5 223.3 667.6 221.6 668.7 216.8 668.7 215.2 667.9 214.1 666.1M230.7 652.6 239.1 652.6 234.5 659.0 236.9 659.2 238.9 660.3 239.9 662.7 239.8 665.5 238.6 667.6 236.9 668.7 232.1 668.7 230.5 667.9 229.4 666.1M244.7 652.6 255.3 652.6 247.9 668.7" stroke="#444" stroke-width="0.9" fill="none" stroke-linecap="round" stroke-linejoin="round"/><line x1="221.80" y1="669.80" x2="238.70" y2="653.20" stroke="#808080" stroke-width="0.9"/><rect x="168.50" y="386.50" width="106.00" height="67.00" stroke="#808080" stroke-width="1.0" fill="none"/><path d="M192.8 411.8 203.5 428.0M203.5 411.8 192.8 428.0M209.6 411.8 218.2 411.8 213.5 418.3 216.0 418.4 218.0 419.6 219.0 422.0 218.9 424.8 217.7 426.9 216.0 428.0 211.0 428.0 209.4 427.2 208.4 425.4M229.8 411.8 231.3 412.0 232.7 412.6 233.7 413.5 234.4 414.7 234.6 416.0 234.6 423.8 234.4 425.1 233.7 426.3 232.7 427.2 231.3 427.8 229.8 428.0 228.7 428.0 227.3 427.8 225.9 427.2 224.8 426.3 224.2 425.1 223.9 423.8 223.9 416.0 224.2 414.7 224.8 413.5 225.9 412.6 227.3 412.0 228.7 411.8 229.8 411.8M245.4 411.8 246.9 412.0 248.2 412.6 249.3 413.5 250.0 414.7 250.2 416.0 250.2 423.8 250.0 425.1 249.3 426.3 248.2 427.2 246.9 427.8 245.4 428.0 244.3 428.0 242.8 427.8 241.5 427.2 240.4 426.3 239.7 425.1 239.5 423.8 239.5 416.0 239.7 414.7 240.4 413.5 241.5 412.6 242.8 412.0 244.3 411.8 245.4 411.8" stroke="#444" stroke-width="0.9" fill="none" stroke-linecap="round" stroke-linejoin="round"/><path d="M261.6 391.5 261.5 392.1 261.2 392.7 260.8 393.2 260.2 393.6 259.6 393.8 258.9 393.9 258.2 393.8 257.6 393.6 257.0 393.2 256.6 392.7 256.3 392.1 256.2 391.5 256.3 390.9 256.6 390.4 257.0 389.9 257.6 389.5 258.2 389.3 258.9 389.2 259.6 389.3 260.2 389.5 260.8 389.9 261.2 390.4 261.5 390.9 261.6 391.5 261.6 392.2 261.5 394.3 260.8 396.2 259.4 397.0 258.4 397.0 257.0 396.4 256.6 395.8" stroke="#444" stroke-width="0.8" fill="none" stroke-linecap="round" stroke-linejoin="round"/><line x1="258.50" y1="443.50" x2="258.50" y2="451.00" stroke="#808080" stroke-width="1.0"/><rect x="276.50" y="393.50" width="24.00" height="10.00" stroke="#6a6a6a" stroke-width="1.0" fill="none"/><path d="M277.4 403.2 277.4 394.3 280.5 394.3 280.5 394.3 280.9 394.4 281.2 394.7 281.5 395.1 281.7 395.6 281.8 396.2 281.8 396.8 281.7 397.4 281.5 398.0 281.2 398.4 280.9 398.7 280.5 398.8 277.4 398.8M279.8 398.8 281.8 403.2M283.7 394.3 287.2 394.3 285.2 397.9 286.3 397.9 287.1 398.6 287.5 399.9 287.5 401.4 287.0 402.6 286.3 403.2 284.2 403.2 283.6 402.8 283.1 401.8M291.3 394.3 291.9 394.4 292.5 394.7 292.9 395.3 293.2 395.9 293.3 396.6 293.3 400.9 293.2 401.6 292.9 402.2 292.5 402.8 291.9 403.1 291.3 403.2 290.8 403.2 290.2 403.1 289.7 402.8 289.2 402.2 289.0 401.6 288.9 400.9 288.9 396.6 289.0 395.9 289.2 395.3 289.7 394.7 290.2 394.4 290.8 394.3 291.3 394.3M294.8 396.3 295.3 395.0 296.2 394.4 297.4 394.4 298.3 395.3 298.8 396.5 298.6 397.8 297.9 398.8 294.6 403.2 299.0 403.2" stroke="#222" stroke-width="0.85" fill="none" stroke-linecap="round" stroke-linejoin="round"/><rect x="276.50" y="407.50" width="24.00" height="10.00" stroke="#6a6a6a" stroke-width="1.0" fill="none"/><path d="M277.4 417.0 277.4 408.0 280.5 408.0 280.5 408.0 280.9 408.1 281.2 408.4 281.5 408.8 281.7 409.3 281.8 409.9 281.8 410.6 281.7 411.2 281.5 411.7 281.2 412.1 280.9 412.4 280.5 412.5 277.4 412.5M279.8 412.5 281.8 417.0M283.7 408.0 287.2 408.0 285.2 411.6 286.3 411.7 287.1 412.3 287.5 413.7 287.5 415.2 287.0 416.4 286.3 417.0 284.2 417.0 283.6 416.6 283.1 415.6M291.3 408.0 291.9 408.1 292.5 408.4 292.9 409.0 293.2 409.6 293.3 410.3 293.3 414.7 293.2 415.4 292.9 416.0 292.5 416.6 291.9 416.9 291.3 417.0 290.8 417.0 290.2 416.9 289.7 416.6 289.2 416.0 289.0 415.4 288.9 414.7 288.9 410.3 289.0 409.6 289.2 409.0 289.7 408.4 290.2 408.1 290.8 408.0 291.3 408.0M295.1 408.0 298.6 408.0 296.7 411.6 297.7 411.7 298.6 412.3 299.0 413.7 298.9 415.2 298.4 416.4 297.7 417.0 295.7 417.0 295.0 416.6 294.6 415.6" stroke="#222" stroke-width="0.85" fill="none" stroke-linecap="round" stroke-linejoin="round"/><rect x="280.50" y="425.50" width="10.00" height="22.00" stroke="#6a6a6a" stroke-width="1.0" fill="none"/><path d="M289.9 446.7 280.7 446.7 280.7 443.8 280.7 443.8 280.8 443.5 281.1 443.2 281.5 442.9 282.0 442.7 282.7 442.6 283.3 442.6 284.0 442.7 284.5 442.9 284.9 443.2 285.2 443.5 285.3 443.8 285.3 446.7M285.3 444.4 289.9 442.6M280.7 440.9 280.7 437.6 284.4 439.4 284.5 438.5 285.1 437.7 286.5 437.3 288.1 437.3 289.3 437.8 289.9 438.5 289.9 440.3 289.4 441.0 288.4 441.4M280.7 433.8 280.8 433.2 281.2 432.7 281.7 432.3 282.4 432.0 283.1 431.9 287.5 431.9 288.2 432.0 288.9 432.3 289.4 432.7 289.8 433.2 289.9 433.8 289.9 434.2 289.8 434.8 289.4 435.3 288.9 435.7 288.2 435.9 287.5 436.0 283.1 436.0 282.4 435.9 281.7 435.7 281.2 435.3 280.8 434.8 280.7 434.2 280.7 433.8M282.0 429.0 280.7 428.2 289.9 428.2" stroke="#222" stroke-width="0.85" fill="none" stroke-linecap="round" stroke-linejoin="round"/><rect x="262.50" y="457.50" width="23.00" height="10.00" stroke="#6a6a6a" stroke-width="1.0" fill="none"/><path d="M267.1 459.5 266.7 458.7 266.2 458.1 265.6 457.8 265.0 457.7 264.4 457.9 263.8 458.4 263.4 459.1 263.1 460.0 263.0 460.9 263.0 464.2 263.1 465.1 263.4 466.0 263.8 466.7 264.4 467.2 265.0 467.4 265.6 467.3 266.2 467.0 266.7 466.4 267.1 465.6M269.1 457.7 272.5 457.7 270.6 461.6 271.6 461.7 272.4 462.4 272.8 463.8 272.8 465.5 272.3 466.7 271.6 467.4 269.6 467.4 269.0 466.9 268.6 465.8M275.9 459.1 276.8 457.7 276.8 467.4M279.9 459.8 280.4 458.5 281.3 457.8 282.4 457.8 283.4 458.8 283.8 460.1 283.6 461.5 282.9 462.5 279.7 467.4 284.0 467.4" stroke="#222" stroke-width="0.85" fill="none" stroke-linecap="round" stroke-linejoin="round"/><rect x="285.50" y="451.50" width="11.00" height="22.00" stroke="#6a6a6a" stroke-width="1.0" fill="none"/><path d="M287.9 468.7 287.0 469.0 286.4 469.5 286.0 470.1 285.9 470.7 286.1 471.3 286.6 471.8 287.4 472.2 288.3 472.5 289.3 472.6 292.9 472.6 293.9 472.5 294.8 472.2 295.6 471.8 296.1 471.3 296.3 470.7 296.2 470.1 295.8 469.5 295.2 469.0 294.3 468.7M285.9 466.8 285.9 463.5 290.1 465.3 290.2 464.4 290.9 463.6 292.5 463.2 294.2 463.2 295.6 463.7 296.3 464.4 296.3 466.2 295.8 466.9 294.6 467.3M287.4 460.2 285.9 459.4 296.3 459.4M287.4 454.9 285.9 454.1 296.3 454.1" stroke="#222" stroke-width="0.85" fill="none" stroke-linecap="round" stroke-linejoin="round"/><rect x="280.50" y="275.50" width="10.00" height="22.00" stroke="#6a6a6a" stroke-width="1.0" fill="none"/><path d="M290.0 296.6 280.8 296.6 280.8 293.7 280.8 293.7 280.9 293.3 281.2 293.0 281.6 292.7 282.1 292.5 282.8 292.4 283.4 292.4 284.1 292.5 284.6 292.7 285.0 293.0 285.3 293.3 285.4 293.7 285.4 296.6M285.4 294.3 290.0 292.4M280.8 290.7 280.8 287.4 284.5 289.2 284.6 288.2 285.2 287.4 286.6 287.1 288.2 287.1 289.4 287.6 290.0 288.2 290.0 290.1 289.5 290.8 288.5 291.2M280.8 283.5 280.9 282.9 281.3 282.4 281.8 282.0 282.5 281.7 283.2 281.6 287.6 281.6 288.3 281.7 289.0 282.0 289.5 282.4 289.9 282.9 290.0 283.5 290.0 283.9 289.9 284.5 289.5 285.0 289.0 285.4 288.3 285.7 287.6 285.8 283.2 285.8 282.5 285.7 281.8 285.4 281.3 285.0 280.9 284.5 280.8 283.9 280.8 283.5M281.7 276.5 280.9 277.2 280.8 278.7 281.7 279.7 284.0 280.3 286.5 280.4 287.2 280.4 286.5 280.3 285.9 280.1 285.3 279.8 284.8 279.3 284.6 278.8 284.5 278.3 284.6 277.7 284.8 277.2 285.3 276.8 285.9 276.5 286.5 276.3 287.2 276.2 288.0 276.3 288.6 276.5 289.2 276.8 289.6 277.2 289.9 277.7 290.0 278.3 289.9 278.8 289.6 279.3 289.2 279.8 288.6 280.1 288.0 280.3 287.2 280.4" stroke="#222" stroke-width="0.85" fill="none" stroke-linecap="round" stroke-linejoin="round"/><rect x="275.50" y="299.50" width="23.00" height="11.00" stroke="#6a6a6a" stroke-width="1.0" fill="none"/><path d="M280.5 301.7 280.2 300.9 279.7 300.3 279.1 300.0 278.5 299.9 277.9 300.1 277.3 300.6 276.9 301.3 276.6 302.2 276.5 303.1 276.5 306.4 276.6 307.3 276.9 308.2 277.3 308.9 277.9 309.4 278.5 309.6 279.1 309.5 279.7 309.2 280.2 308.6 280.5 307.8M282.5 299.9 285.9 299.9 284.1 303.8 285.0 303.9 285.8 304.6 286.2 306.0 286.2 307.7 285.7 308.9 285.0 309.6 283.1 309.6 282.4 309.1 282.0 308.0M289.3 301.3 290.2 299.9 290.2 309.6M295.4 299.9 296.0 300.0 296.5 300.4 296.9 300.9 297.2 301.6 297.3 302.4 297.3 307.1 297.2 307.9 296.9 308.6 296.5 309.1 296.0 309.5 295.4 309.6 295.0 309.6 294.4 309.5 293.8 309.1 293.4 308.6 293.1 307.9 293.1 307.1 293.1 302.4 293.1 301.6 293.4 300.9 293.8 300.4 294.4 300.0 295.0 299.9 295.4 299.9" stroke="#222" stroke-width="0.85" fill="none" stroke-linecap="round" stroke-linejoin="round"/><rect x="266.50" y="363.50" width="23.00" height="11.00" stroke="#6a6a6a" stroke-width="1.0" fill="none"/><path d="M271.5 365.8 271.1 365.0 270.6 364.4 270.0 364.0 269.4 363.9 268.8 364.1 268.2 364.6 267.8 365.3 267.5 366.2 267.4 367.2 267.4 370.5 267.5 371.5 267.8 372.4 268.2 373.1 268.8 373.6 269.4 373.8 270.0 373.7 270.6 373.3 271.1 372.7 271.5 371.9M273.5 363.9 276.9 363.9 275.0 367.9 276.0 368.0 276.8 368.7 277.2 370.1 277.2 371.8 276.7 373.1 276.0 373.8 274.0 373.8 273.4 373.3 273.0 372.2M280.3 365.3 281.2 363.9 281.2 373.8M287.2 373.8 287.2 363.9 284.1 370.4 288.4 370.4" stroke="#222" stroke-width="0.85" fill="none" stroke-linecap="round" stroke-linejoin="round"/><rect x="284.50" y="603.50" width="10.00" height="22.00" stroke="#6a6a6a" stroke-width="1.0" fill="none"/><path d="M286.5 620.7 285.7 621.1 285.1 621.6 284.8 622.1 284.7 622.8 284.9 623.4 285.4 623.9 286.1 624.3 286.9 624.6 287.8 624.7 291.1 624.7 292.0 624.6 292.8 624.3 293.5 623.9 294.0 623.4 294.2 622.8 294.1 622.1 293.8 621.6 293.2 621.1 292.4 620.7M284.7 618.8 284.7 615.5 288.5 617.3 288.6 616.3 289.3 615.5 290.7 615.2 292.3 615.2 293.5 615.7 294.2 616.3 294.2 618.2 293.7 618.9 292.7 619.3M286.0 612.1 284.7 611.3 294.2 611.3M284.7 608.0 284.7 604.6 288.5 606.5 288.6 605.5 289.3 604.7 290.7 604.3 292.3 604.4 293.5 604.8 294.2 605.5 294.2 607.4 293.7 608.0 292.7 608.5" stroke="#222" stroke-width="0.85" fill="none" stroke-linecap="round" stroke-linejoin="round"/><rect x="271.50" y="627.50" width="23.00" height="10.00" stroke="#6a6a6a" stroke-width="1.0" fill="none"/><path d="M272.2 636.9 272.2 627.6 275.3 627.6 275.3 627.6 275.6 627.7 276.0 628.0 276.3 628.4 276.5 629.0 276.6 629.6 276.6 630.3 276.5 630.9 276.3 631.4 276.0 631.9 275.6 632.2 275.3 632.2 272.2 632.2M274.6 632.2 276.6 636.9M278.4 627.6 281.9 627.6 280.0 631.3 281.0 631.4 281.9 632.1 282.2 633.5 282.2 635.0 281.7 636.2 281.0 636.9 279.0 636.9 278.3 636.4 277.9 635.4M285.5 628.9 286.3 627.6 286.3 636.9M289.8 627.6 293.3 627.6 291.4 631.3 292.4 631.4 293.3 632.1 293.7 633.5 293.6 635.0 293.1 636.2 292.4 636.9 290.4 636.9 289.8 636.4 289.3 635.4" stroke="#222" stroke-width="0.85" fill="none" stroke-linecap="round" stroke-linejoin="round"/><rect x="274.50" y="323.50" width="11.00" height="28.00" stroke="#808080" stroke-width="1.0" fill="none"/><line x1="279.50" y1="331.20" x2="279.50" y2="343.20" stroke="#808080" stroke-width="1.0"/><path d="M276.95 339.20000000000005L282.95 339.20000000000005L279.95 335.20000000000005Z" stroke="#555" stroke-width="0.7" fill="none"/><line x1="276.95" y1="335.50" x2="282.95" y2="335.50" stroke="#808080" stroke-width="1.0"/><path d="M274.40 328.90L270.20 326.90L268.20 328.90L268.20 347.40L274.40 347.40" stroke="#555" stroke-width="0.8" fill="none"/><line x1="270.50" y1="335.15" x2="270.50" y2="339.15" stroke="#888" stroke-width="1.0"/><path d="M287.3 348.3 296.0 345.9 287.3 343.5M287.3 341.5 287.3 337.6 290.8 339.7 290.9 338.6 291.5 337.7 292.8 337.3 294.3 337.3 295.4 337.8 296.0 338.6 296.0 340.8 295.6 341.6 294.6 342.0M288.5 333.8 287.3 332.8 296.0 332.8M291.3 327.1 291.2 327.7 290.9 328.3 290.5 328.7 289.9 329.0 289.3 329.1 288.7 329.0 288.1 328.7 287.7 328.3 287.4 327.7 287.3 327.1 287.4 326.5 287.7 325.9 288.1 325.5 288.7 325.2 289.3 325.1 289.9 325.2 290.5 325.5 290.9 325.9 291.2 326.5 291.3 327.1M291.1 327.1 291.2 326.5 291.5 325.9 291.8 325.4 292.3 325.0 292.9 324.8 293.6 324.7 294.2 324.8 294.8 325.0 295.3 325.4 295.7 325.9 295.9 326.5 296.0 327.1 295.9 327.7 295.7 328.3 295.3 328.8 294.8 329.2 294.2 329.4 293.6 329.5 292.9 329.4 292.3 329.2 291.8 328.8 291.5 328.3 291.2 327.7 291.1 327.1" stroke="#444" stroke-width="0.8" fill="none" stroke-linecap="round" stroke-linejoin="round"/><rect x="274.50" y="651.50" width="11.00" height="28.00" stroke="#808080" stroke-width="1.0" fill="none"/><line x1="280.50" y1="659.15" x2="280.50" y2="671.15" stroke="#808080" stroke-width="1.0"/><path d="M277.05 667.15L283.05 667.15L280.05 663.15Z" stroke="#555" stroke-width="0.7" fill="none"/><line x1="277.05" y1="663.50" x2="283.05" y2="663.50" stroke="#808080" stroke-width="1.0"/><path d="M274.50 657.40L270.10 655.40L268.10 657.40L268.10 675.30L274.50 675.30" stroke="#555" stroke-width="0.8" fill="none"/><line x1="270.50" y1="663.35" x2="270.50" y2="667.35" stroke="#888" stroke-width="1.0"/><path d="M286.9 678.0 295.8 675.4 286.9 672.9M286.9 670.8 286.9 666.7 290.5 668.9 290.5 667.7 291.2 666.8 292.5 666.3 294.0 666.4 295.2 666.9 295.8 667.7 295.8 670.1 295.4 670.9 294.4 671.4M288.1 662.6 286.9 661.6 295.8 661.6M286.9 658.1 286.9 653.0 295.8 656.6" stroke="#444" stroke-width="0.8" fill="none" stroke-linecap="round" stroke-linejoin="round"/><rect x="521.50" y="285.50" width="10.00" height="22.00" stroke="#6a6a6a" stroke-width="1.0" fill="none"/><path d="M523.4 302.6 522.6 302.9 521.9 303.4 521.6 304.0 521.5 304.6 521.7 305.3 522.2 305.8 522.9 306.2 523.8 306.5 524.7 306.6 528.1 306.6 529.0 306.5 529.9 306.2 530.6 305.8 531.1 305.3 531.3 304.6 531.2 304.0 530.9 303.4 530.2 302.9 529.4 302.6M521.5 297.1 521.5 300.6 525.6 300.9 525.1 300.1 525.1 298.6 525.8 297.6 527.2 297.0 528.8 296.9 530.5 297.4 531.3 298.2 531.3 300.0 530.7 300.7 529.7 301.1M521.5 295.2 521.5 291.8 525.4 293.7 525.5 292.7 526.2 291.9 527.7 291.5 529.3 291.5 530.6 292.0 531.3 292.7 531.3 294.6 530.8 295.2 529.7 295.7M522.9 288.4 521.5 287.6 531.3 287.6" stroke="#222" stroke-width="0.85" fill="none" stroke-linecap="round" stroke-linejoin="round"/><rect x="574.50" y="284.50" width="23.00" height="11.00" stroke="#6a6a6a" stroke-width="1.0" fill="none"/><path d="M579.3 286.7 578.9 285.8 578.4 285.2 577.8 284.8 577.2 284.7 576.6 284.9 576.0 285.4 575.6 286.2 575.3 287.1 575.2 288.1 575.2 291.6 575.3 292.6 575.6 293.5 576.0 294.3 576.6 294.8 577.2 295.0 577.8 294.9 578.4 294.5 578.9 293.9 579.3 293.0M584.8 284.7 581.3 284.7 581.0 289.0 581.8 288.5 583.3 288.5 584.4 289.2 584.9 290.7 585.0 292.4 584.6 294.2 583.7 295.0 581.9 295.0 581.2 294.4 580.7 293.4M590.3 284.7 586.8 284.7 586.5 289.0 587.4 288.5 588.8 288.5 589.9 289.2 590.5 290.7 590.6 292.4 590.1 294.2 589.3 295.0 587.5 295.0 586.7 294.4 586.3 293.4M594.9 295.0 594.9 284.7 591.8 291.5 596.1 291.5" stroke="#222" stroke-width="0.85" fill="none" stroke-linecap="round" stroke-linejoin="round"/><rect x="563.50" y="299.50" width="11.00" height="23.00" stroke="#6a6a6a" stroke-width="1.0" fill="none"/><path d="M565.7 317.3 564.9 317.7 564.3 318.1 563.9 318.7 563.8 319.4 564.0 320.0 564.5 320.5 565.2 320.9 566.1 321.2 567.1 321.3 570.6 321.3 571.6 321.2 572.5 320.9 573.2 320.5 573.7 320.0 573.9 319.4 573.8 318.7 573.4 318.1 572.8 317.7 572.0 317.3M563.8 311.9 563.8 315.4 568.0 315.6 567.5 314.8 567.5 313.4 568.2 312.3 569.7 311.8 571.4 311.7 573.1 312.1 573.9 312.9 573.9 314.7 573.3 315.4 572.3 315.9M563.8 310.4 563.8 306.2 573.9 309.2M564.8 301.1 563.9 301.8 563.8 303.3 564.8 304.4 567.3 304.9 570.1 305.0 570.9 305.0 570.1 304.9 569.4 304.7 568.7 304.4 568.2 303.9 567.9 303.4 567.8 302.9 567.9 302.4 568.2 301.8 568.7 301.4 569.4 301.1 570.1 300.9 570.9 300.8 571.7 300.9 572.4 301.1 573.0 301.4 573.5 301.8 573.8 302.4 573.9 302.9 573.8 303.4 573.5 303.9 573.0 304.4 572.4 304.7 571.7 304.9 570.9 305.0" stroke="#222" stroke-width="0.85" fill="none" stroke-linecap="round" stroke-linejoin="round"/><rect x="563.50" y="322.50" width="11.00" height="23.00" stroke="#6a6a6a" stroke-width="1.0" fill="none"/><path d="M565.7 340.1 564.9 340.5 564.3 341.0 563.9 341.6 563.8 342.2 564.0 342.8 564.5 343.4 565.2 343.8 566.1 344.1 567.1 344.2 570.6 344.2 571.6 344.1 572.5 343.8 573.2 343.4 573.7 342.8 573.9 342.2 573.8 341.6 573.4 341.0 572.8 340.5 572.0 340.1M563.8 334.6 563.8 338.1 568.0 338.4 567.5 337.6 567.5 336.1 568.2 335.0 569.7 334.5 571.4 334.4 573.1 334.8 573.9 335.7 573.9 337.5 573.3 338.2 572.3 338.7M563.8 333.1 563.8 328.8 573.9 331.8M563.8 327.6 563.8 323.3 573.9 326.3" stroke="#222" stroke-width="0.85" fill="none" stroke-linecap="round" stroke-linejoin="round"/><rect x="577.50" y="299.50" width="11.00" height="23.00" stroke="#6a6a6a" stroke-width="1.0" fill="none"/><path d="M579.6 317.3 578.8 317.7 578.2 318.1 577.8 318.7 577.7 319.4 577.9 320.0 578.4 320.5 579.1 320.9 580.0 321.2 581.0 321.3 584.5 321.3 585.5 321.2 586.4 320.9 587.1 320.5 587.6 320.0 587.8 319.4 587.7 318.7 587.3 318.1 586.7 317.7 585.9 317.3M577.7 311.9 577.7 315.4 581.9 315.6 581.4 314.8 581.4 313.4 582.1 312.3 583.6 311.8 585.3 311.7 587.0 312.1 587.8 312.9 587.8 314.7 587.2 315.4 586.2 315.9M577.7 310.4 577.7 306.2 587.8 309.2M587.8 302.0 577.7 302.0 584.4 305.0 584.4 300.8" stroke="#222" stroke-width="0.85" fill="none" stroke-linecap="round" stroke-linejoin="round"/><rect x="577.50" y="322.50" width="11.00" height="23.00" stroke="#6a6a6a" stroke-width="1.0" fill="none"/><path d="M579.6 340.1 578.8 340.5 578.2 341.0 577.8 341.6 577.7 342.2 577.9 342.8 578.4 343.4 579.1 343.8 580.0 344.1 581.0 344.2 584.5 344.2 585.5 344.1 586.4 343.8 587.1 343.4 587.6 342.8 587.8 342.2 587.7 341.6 587.3 341.0 586.7 340.5 585.9 340.1M577.7 334.6 577.7 338.1 581.9 338.4 581.4 337.6 581.4 336.1 582.1 335.0 583.6 334.5 585.3 334.4 587.0 334.8 587.8 335.7 587.8 337.5 587.2 338.2 586.2 338.7M577.7 333.1 577.7 328.8 587.8 331.8M577.7 323.5 577.7 327.1 581.9 327.3 581.4 326.5 581.4 325.0 582.1 323.9 583.6 323.4 585.3 323.3 587.0 323.7 587.8 324.6 587.8 326.4 587.2 327.1 586.2 327.6" stroke="#222" stroke-width="0.85" fill="none" stroke-linecap="round" stroke-linejoin="round"/><rect x="591.50" y="299.50" width="10.00" height="23.00" stroke="#6a6a6a" stroke-width="1.0" fill="none"/><path d="M601.4 321.3 591.8 321.3 591.8 318.4 591.8 318.4 591.9 318.0 592.2 317.7 592.6 317.4 593.2 317.2 593.9 317.1 594.5 317.1 595.2 317.2 595.8 317.4 596.2 317.7 596.5 318.0 596.6 318.4 596.6 321.3M596.6 319.0 601.4 317.1M591.8 311.9 591.8 315.4 595.8 315.6 595.4 314.8 595.4 313.4 596.0 312.3 597.4 311.8 599.0 311.7 600.6 312.1 601.4 312.9 601.4 314.7 600.8 315.4 599.9 315.9M593.9 310.3 592.6 309.8 591.9 308.9 591.9 307.8 592.9 306.9 594.2 306.4 595.5 306.7 596.6 307.3 601.4 310.4 601.4 306.2M591.8 301.0 591.8 304.5 595.8 304.7 595.4 303.9 595.4 302.5 596.0 301.4 597.4 300.9 599.0 300.8 600.6 301.2 601.4 302.1 601.4 303.8 600.8 304.6 599.9 305.0" stroke="#222" stroke-width="0.85" fill="none" stroke-linecap="round" stroke-linejoin="round"/><rect x="591.50" y="322.50" width="10.00" height="23.00" stroke="#6a6a6a" stroke-width="1.0" fill="none"/><path d="M593.6 340.1 592.8 340.5 592.2 341.0 591.9 341.6 591.8 342.2 592.0 342.8 592.5 343.4 593.2 343.8 594.0 344.1 595.0 344.2 598.2 344.2 599.2 344.1 600.0 343.8 600.7 343.4 601.2 342.8 601.4 342.2 601.3 341.6 601.0 341.0 600.4 340.5 599.6 340.1M591.8 334.6 591.8 338.1 595.8 338.4 595.4 337.6 595.4 336.1 596.0 335.0 597.4 334.5 599.0 334.4 600.6 334.8 601.4 335.7 601.4 337.5 600.8 338.2 599.9 338.7M601.4 330.0 591.8 330.0 598.1 333.1 598.1 328.8M594.7 323.3 595.4 323.4 596.1 323.6 596.7 323.9 597.2 324.4 597.5 324.9 597.6 325.4 597.5 326.0 597.2 326.5 596.7 326.9 596.1 327.3 595.4 327.5 594.7 327.6 593.9 327.5 593.2 327.3 592.6 326.9 592.2 326.5 591.9 326.0 591.8 325.4 591.9 324.9 592.2 324.4 592.6 323.9 593.2 323.6 593.9 323.4 594.7 323.3 595.4 323.3 598.0 323.4 600.4 323.9 601.4 325.0 601.4 325.9 600.6 326.9 600.0 327.2" stroke="#222" stroke-width="0.85" fill="none" stroke-linecap="round" stroke-linejoin="round"/><rect x="605.50" y="299.50" width="10.00" height="23.00" stroke="#6a6a6a" stroke-width="1.0" fill="none"/><path d="M615.4 321.3 605.6 321.3 605.6 318.4 605.6 318.4 605.7 318.0 606.0 317.7 606.4 317.4 607.0 317.2 607.7 317.1 608.4 317.1 609.1 317.2 609.7 317.4 610.1 317.7 610.4 318.0 610.5 318.4 610.5 321.3M610.5 319.0 615.4 317.1M605.6 311.9 605.6 315.4 609.7 315.6 609.2 314.8 609.2 313.4 609.9 312.3 611.3 311.8 613.0 311.7 614.6 312.1 615.4 312.9 615.4 314.7 614.8 315.4 613.8 315.9M607.8 310.3 606.4 309.8 605.7 308.9 605.7 307.8 606.7 306.9 608.0 306.4 609.4 306.7 610.5 307.3 615.4 310.4 615.4 306.2M607.8 304.8 606.4 304.4 605.7 303.4 605.7 302.3 606.7 301.4 608.0 301.0 609.4 301.2 610.5 301.9 615.4 305.0 615.4 300.8" stroke="#222" stroke-width="0.85" fill="none" stroke-linecap="round" stroke-linejoin="round"/><rect x="605.50" y="322.50" width="10.00" height="23.00" stroke="#6a6a6a" stroke-width="1.0" fill="none"/><path d="M607.5 340.1 606.7 340.5 606.0 341.0 605.7 341.6 605.6 342.2 605.8 342.8 606.3 343.4 607.0 343.8 607.9 344.1 608.8 344.2 612.2 344.2 613.1 344.1 614.0 343.8 614.7 343.4 615.2 342.8 615.4 342.2 615.3 341.6 615.0 341.0 614.3 340.5 613.5 340.1M605.6 334.6 605.6 338.1 609.7 338.4 609.2 337.6 609.2 336.1 609.9 335.0 611.3 334.5 613.0 334.4 614.6 334.8 615.4 335.7 615.4 337.5 614.8 338.2 613.8 338.7M615.4 330.0 605.6 330.0 612.1 333.1 612.1 328.8M605.6 327.1 605.6 323.6 609.5 325.5 609.6 324.5 610.3 323.7 611.8 323.3 613.4 323.4 614.7 323.9 615.4 324.5 615.4 326.5 614.9 327.1 613.8 327.6" stroke="#222" stroke-width="0.85" fill="none" stroke-linecap="round" stroke-linejoin="round"/><rect x="619.50" y="299.50" width="11.00" height="23.00" stroke="#6a6a6a" stroke-width="1.0" fill="none"/><path d="M621.7 317.3 620.9 317.7 620.3 318.1 619.9 318.7 619.8 319.4 620.0 320.0 620.5 320.5 621.2 320.9 622.1 321.2 623.1 321.3 626.4 321.3 627.4 321.2 628.3 320.9 629.0 320.5 629.5 320.0 629.7 319.4 629.6 318.7 629.2 318.1 628.6 317.7 627.8 317.3M619.8 311.9 619.8 315.4 624.0 315.6 623.5 314.8 623.5 313.4 624.2 312.3 625.5 311.8 627.2 311.7 628.9 312.1 629.7 312.9 629.7 314.7 629.1 315.4 628.1 315.9M619.8 306.4 619.8 309.9 624.0 310.2 623.5 309.4 623.5 307.9 624.2 306.9 625.5 306.3 627.2 306.2 628.9 306.7 629.7 307.5 629.7 309.3 629.1 310.0 628.1 310.4M619.8 301.0 619.8 304.5 624.0 304.7 623.5 303.9 623.5 302.5 624.2 301.4 625.5 300.9 627.2 300.8 628.9 301.2 629.7 302.1 629.7 303.8 629.1 304.6 628.1 305.0" stroke="#222" stroke-width="0.85" fill="none" stroke-linecap="round" stroke-linejoin="round"/><rect x="619.50" y="322.50" width="11.00" height="23.00" stroke="#6a6a6a" stroke-width="1.0" fill="none"/><path d="M629.7 344.2 619.8 344.2 619.8 341.2 619.8 341.2 619.9 340.9 620.2 340.5 620.7 340.2 621.2 340.1 621.9 339.9 622.6 339.9 623.3 340.1 623.9 340.2 624.4 340.5 624.6 340.9 624.8 341.2 624.8 344.2M624.8 341.9 629.7 339.9M619.8 334.6 619.8 338.1 624.0 338.4 623.5 337.6 623.5 336.1 624.2 335.0 625.5 334.5 627.2 334.4 628.9 334.8 629.7 335.7 629.7 337.5 629.1 338.2 628.1 338.7M622.0 332.9 620.6 332.5 619.9 331.5 619.9 330.4 620.9 329.5 622.3 329.1 623.7 329.3 624.8 330.0 629.7 333.1 629.7 328.8M619.8 327.1 619.8 323.6 623.8 325.5 623.9 324.5 624.6 323.7 626.0 323.3 627.7 323.4 629.0 323.9 629.7 324.5 629.7 326.5 629.2 327.1 628.1 327.6" stroke="#222" stroke-width="0.85" fill="none" stroke-linecap="round" stroke-linejoin="round"/><rect x="605.50" y="275.50" width="10.00" height="22.00" stroke="#6a6a6a" stroke-width="1.0" fill="none"/><path d="M615.4 296.3 605.7 296.3 605.7 293.4 605.7 293.4 605.8 293.1 606.1 292.7 606.5 292.5 607.1 292.3 607.8 292.2 608.5 292.2 609.1 292.3 609.7 292.5 610.2 292.7 610.5 293.1 610.5 293.4 610.5 296.3M610.5 294.0 615.4 292.2M605.7 287.0 605.7 290.4 609.8 290.7 609.3 289.9 609.3 288.5 610.0 287.4 611.3 286.9 613.0 286.8 614.6 287.2 615.4 288.1 615.4 289.8 614.8 290.5 613.8 290.9M607.1 283.9 605.7 283.0 615.4 283.0M605.7 279.7 605.7 276.4 609.6 278.2 609.7 277.3 610.4 276.5 611.8 276.1 613.5 276.2 614.7 276.6 615.4 277.3 615.4 279.2 614.9 279.8 613.8 280.2" stroke="#222" stroke-width="0.85" fill="none" stroke-linecap="round" stroke-linejoin="round"/><rect x="619.50" y="275.50" width="11.00" height="22.00" stroke="#6a6a6a" stroke-width="1.0" fill="none"/><path d="M621.7 292.4 620.9 292.7 620.3 293.2 619.9 293.8 619.8 294.4 620.0 295.0 620.5 295.5 621.2 295.9 622.1 296.2 623.1 296.3 626.4 296.3 627.4 296.2 628.3 295.9 629.0 295.5 629.5 295.0 629.7 294.4 629.6 293.8 629.2 293.2 628.6 292.7 627.8 292.4M619.8 287.0 619.8 290.4 624.0 290.7 623.5 289.9 623.5 288.5 624.2 287.4 625.5 286.9 627.2 286.8 628.9 287.2 629.7 288.1 629.7 289.8 629.1 290.5 628.1 290.9M619.8 285.1 619.8 281.8 623.8 283.6 623.9 282.7 624.6 281.9 626.0 281.5 627.7 281.5 629.0 282.0 629.7 282.7 629.7 284.6 629.2 285.2 628.1 285.6M624.4 278.2 624.2 278.7 623.9 279.2 623.4 279.6 622.8 279.8 622.1 279.9 621.4 279.8 620.7 279.6 620.2 279.2 619.9 278.7 619.8 278.2 619.9 277.6 620.2 277.1 620.7 276.8 621.4 276.5 622.1 276.4 622.8 276.5 623.4 276.8 623.9 277.1 624.2 277.6 624.4 278.2M624.2 278.2 624.3 277.6 624.5 277.1 625.0 276.7 625.5 276.4 626.2 276.2 626.9 276.1 627.6 276.2 628.3 276.4 628.9 276.7 629.3 277.1 629.6 277.6 629.7 278.2 629.6 278.7 629.3 279.2 628.9 279.6 628.3 279.9 627.6 280.2 626.9 280.2 626.2 280.2 625.5 279.9 625.0 279.6 624.5 279.2 624.3 278.7 624.2 278.2" stroke="#222" stroke-width="0.85" fill="none" stroke-linecap="round" stroke-linejoin="round"/><rect x="535.50" y="322.50" width="11.00" height="23.00" stroke="#6a6a6a" stroke-width="1.0" fill="none"/><path d="M536.1 344.2 546.0 344.2 546.0 340.0M540.7 336.6 540.5 337.1 540.2 337.6 539.7 338.0 539.1 338.3 538.4 338.4 537.7 338.3 537.0 338.0 536.5 337.6 536.2 337.1 536.1 336.6 536.2 336.0 536.5 335.6 537.0 335.2 537.7 334.9 538.4 334.8 539.1 334.9 539.7 335.2 540.2 335.6 540.5 336.0 540.7 336.6M540.5 336.6 540.6 336.0 540.8 335.5 541.3 335.1 541.8 334.8 542.5 334.6 543.2 334.5 543.9 334.6 544.6 334.8 545.2 335.1 545.6 335.5 545.9 336.0 546.0 336.6 545.9 337.1 545.6 337.7 545.2 338.1 544.6 338.4 543.9 338.6 543.2 338.7 542.5 338.6 541.8 338.4 541.3 338.1 540.8 337.7 540.6 337.1 540.5 336.6M537.5 331.4 536.1 330.6 546.0 330.6M536.1 325.4 536.2 324.8 536.6 324.3 537.2 323.9 537.9 323.6 538.7 323.5 543.4 323.5 544.2 323.6 544.9 323.9 545.5 324.3 545.9 324.8 546.0 325.4 546.0 325.8 545.9 326.4 545.5 326.9 544.9 327.4 544.2 327.6 543.4 327.7 538.7 327.7 537.9 327.6 537.2 327.4 536.6 326.9 536.2 326.4 536.1 325.8 536.1 325.4" stroke="#222" stroke-width="0.85" fill="none" stroke-linecap="round" stroke-linejoin="round"/><rect x="549.50" y="322.50" width="11.00" height="23.00" stroke="#6a6a6a" stroke-width="1.0" fill="none"/><path d="M549.9 344.2 559.8 344.2 559.8 340.0M554.5 336.6 554.3 337.1 554.0 337.6 553.5 338.0 552.9 338.3 552.2 338.4 551.5 338.3 550.8 338.0 550.3 337.6 550.0 337.1 549.9 336.6 550.0 336.0 550.3 335.6 550.8 335.2 551.5 334.9 552.2 334.8 552.9 334.9 553.5 335.2 554.0 335.6 554.3 336.0 554.5 336.6M554.3 336.6 554.4 336.0 554.6 335.5 555.1 335.1 555.6 334.8 556.3 334.6 557.0 334.5 557.7 334.6 558.4 334.8 559.0 335.1 559.4 335.5 559.7 336.0 559.8 336.6 559.7 337.1 559.4 337.7 559.0 338.1 558.4 338.4 557.7 338.6 557.0 338.7 556.3 338.6 555.6 338.4 555.1 338.1 554.6 337.7 554.4 337.1 554.3 336.6M549.9 330.9 550.0 330.3 550.4 329.8 551.0 329.4 551.7 329.1 552.5 329.0 557.2 329.0 558.0 329.1 558.7 329.4 559.3 329.8 559.7 330.3 559.8 330.9 559.8 331.3 559.7 331.9 559.3 332.4 558.7 332.9 558.0 333.1 557.2 333.2 552.5 333.2 551.7 333.1 551.0 332.9 550.4 332.4 550.0 331.9 549.9 331.3 549.9 330.9M552.9 323.5 553.6 323.6 554.4 323.8 555.0 324.1 555.4 324.6 555.7 325.1 555.8 325.6 555.7 326.2 555.4 326.7 555.0 327.1 554.4 327.4 553.6 327.7 552.9 327.7 552.1 327.7 551.4 327.4 550.8 327.1 550.3 326.7 550.0 326.2 549.9 325.6 550.0 325.1 550.3 324.6 550.8 324.1 551.4 323.8 552.1 323.6 552.9 323.5 553.7 323.5 556.3 323.6 558.8 324.1 559.8 325.2 559.8 326.0 559.0 327.1 558.3 327.4" stroke="#222" stroke-width="0.85" fill="none" stroke-linecap="round" stroke-linejoin="round"/><rect x="476.50" y="308.50" width="11.00" height="23.00" stroke="#6a6a6a" stroke-width="1.0" fill="none"/><path d="M479.0 326.5 478.1 326.8 477.5 327.3 477.1 327.9 477.0 328.6 477.2 329.2 477.7 329.8 478.5 330.2 479.4 330.5 480.4 330.6 483.9 330.6 484.9 330.5 485.8 330.2 486.6 329.8 487.1 329.2 487.3 328.6 487.2 327.9 486.8 327.3 486.2 326.8 485.3 326.5M477.0 320.9 477.0 324.5 481.3 324.7 480.8 323.9 480.8 322.4 481.5 321.3 483.0 320.7 484.7 320.6 486.5 321.1 487.3 321.9 487.3 323.8 486.7 324.5 485.7 325.0M478.4 317.5 477.0 316.7 487.3 316.7M478.4 311.9 477.0 311.0 487.3 311.0" stroke="#222" stroke-width="0.85" fill="none" stroke-linecap="round" stroke-linejoin="round"/><rect x="491.50" y="308.50" width="10.00" height="23.00" stroke="#6a6a6a" stroke-width="1.0" fill="none"/><path d="M500.9 330.6 491.6 330.6 491.6 327.6 491.6 327.6 491.7 327.2 492.0 326.9 492.4 326.6 493.0 326.4 493.6 326.3 494.3 326.3 494.9 326.4 495.4 326.6 495.9 326.9 496.2 327.2 496.2 327.6 496.2 330.6M496.2 328.2 500.9 326.3M491.6 320.9 491.6 324.5 495.5 324.7 495.0 323.9 495.0 322.4 495.7 321.3 497.0 320.7 498.6 320.6 500.2 321.1 500.9 321.9 500.9 323.8 500.3 324.5 499.4 325.0M500.9 316.2 491.6 316.2 497.7 319.4 497.7 315.0M491.6 311.3 491.7 310.7 492.1 310.2 492.6 309.8 493.3 309.5 494.0 309.4 498.5 309.4 499.2 309.5 499.9 309.8 500.4 310.2 500.8 310.7 500.9 311.3 500.9 311.8 500.8 312.4 500.4 312.9 499.9 313.4 499.2 313.6 498.5 313.7 494.0 313.7 493.3 313.6 492.6 313.4 492.1 312.9 491.7 312.4 491.6 311.8 491.6 311.3" stroke="#222" stroke-width="0.85" fill="none" stroke-linecap="round" stroke-linejoin="round"/><rect x="459.50" y="333.50" width="11.00" height="22.00" stroke="#6a6a6a" stroke-width="1.0" fill="none"/><path d="M460.1 354.9 470.2 354.9 470.2 350.7M464.7 347.4 464.6 347.9 464.3 348.4 463.8 348.8 463.1 349.0 462.4 349.1 461.7 349.0 461.1 348.8 460.5 348.4 460.2 347.9 460.1 347.4 460.2 346.8 460.5 346.3 461.1 345.9 461.7 345.7 462.4 345.6 463.1 345.7 463.8 345.9 464.3 346.3 464.6 346.8 464.7 347.4M464.5 347.4 464.6 346.8 464.9 346.3 465.4 345.9 466.0 345.6 466.6 345.3 467.4 345.3 468.1 345.3 468.8 345.6 469.4 345.9 469.8 346.3 470.1 346.8 470.2 347.4 470.1 347.9 469.8 348.4 469.4 348.8 468.8 349.2 468.1 349.4 467.4 349.5 466.6 349.4 466.0 349.2 465.4 348.8 464.9 348.4 464.6 347.9 464.5 347.4M462.3 343.9 460.9 343.4 460.2 342.5 460.2 341.4 461.2 340.5 462.6 340.0 464.0 340.3 465.1 340.9 470.2 344.0 470.2 339.8M461.5 336.8 460.1 336.0 470.2 336.0" stroke="#222" stroke-width="0.85" fill="none" stroke-linecap="round" stroke-linejoin="round"/><rect x="473.50" y="334.50" width="11.00" height="23.00" stroke="#6a6a6a" stroke-width="1.0" fill="none"/><path d="M476.1 352.2 475.3 352.6 474.7 353.1 474.3 353.7 474.2 354.3 474.4 354.9 474.9 355.5 475.6 355.9 476.5 356.2 477.5 356.3 480.8 356.3 481.8 356.2 482.7 355.9 483.4 355.5 483.9 354.9 484.1 354.3 484.0 353.7 483.6 353.1 483.0 352.6 482.2 352.2M478.8 348.6 478.6 349.2 478.3 349.7 477.8 350.1 477.2 350.3 476.5 350.4 475.8 350.3 475.1 350.1 474.6 349.7 474.3 349.2 474.2 348.6 474.3 348.1 474.6 347.6 475.1 347.2 475.8 346.9 476.5 346.8 477.2 346.9 477.8 347.2 478.3 347.6 478.6 348.1 478.8 348.6M478.6 348.6 478.7 348.1 478.9 347.6 479.4 347.1 479.9 346.8 480.6 346.6 481.3 346.5 482.0 346.6 482.7 346.8 483.3 347.1 483.7 347.6 484.0 348.1 484.1 348.6 484.0 349.2 483.7 349.7 483.3 350.1 482.7 350.5 482.0 350.7 481.3 350.8 480.6 350.7 479.9 350.5 479.4 350.1 478.9 349.7 478.7 349.2 478.6 348.6M474.2 344.7 474.2 341.3 478.2 343.2 478.3 342.2 479.0 341.4 480.4 341.0 482.1 341.0 483.4 341.5 484.1 342.2 484.1 344.1 483.6 344.8 482.5 345.2M474.2 339.2 474.2 335.7 478.2 337.6 478.3 336.6 479.0 335.8 480.4 335.4 482.1 335.5 483.4 336.0 484.1 336.6 484.1 338.6 483.6 339.2 482.5 339.7" stroke="#222" stroke-width="0.85" fill="none" stroke-linecap="round" stroke-linejoin="round"/><rect x="495.50" y="354.50" width="23.00" height="10.00" stroke="#6a6a6a" stroke-width="1.0" fill="none"/><path d="M500.5 356.5 500.1 355.7 499.6 355.1 499.0 354.8 498.4 354.7 497.8 354.9 497.2 355.4 496.8 356.1 496.5 356.9 496.4 357.9 496.4 361.1 496.5 362.1 496.8 362.9 497.2 363.6 497.8 364.1 498.4 364.3 499.0 364.2 499.6 363.9 500.1 363.3 500.5 362.5M504.2 359.1 503.6 359.0 503.1 358.7 502.7 358.2 502.4 357.6 502.3 356.9 502.4 356.2 502.7 355.6 503.1 355.1 503.6 354.8 504.2 354.7 504.7 354.8 505.2 355.1 505.6 355.6 505.9 356.2 506.0 356.9 505.9 357.6 505.6 358.2 505.2 358.7 504.7 359.0 504.2 359.1M504.2 358.9 504.7 359.0 505.2 359.3 505.7 359.7 506.0 360.3 506.2 360.9 506.3 361.6 506.2 362.3 506.0 363.0 505.7 363.5 505.2 363.9 504.7 364.2 504.2 364.3 503.6 364.2 503.1 363.9 502.6 363.5 502.3 363.0 502.1 362.3 502.0 361.6 502.1 360.9 502.3 360.3 502.6 359.7 503.1 359.3 503.6 359.0 504.2 358.9M510.0 354.7 510.6 354.8 511.1 355.2 511.5 355.7 511.8 356.4 511.9 357.2 511.9 361.8 511.8 362.6 511.5 363.3 511.1 363.8 510.6 364.2 510.0 364.3 509.5 364.3 508.9 364.2 508.4 363.8 508.0 363.3 507.7 362.6 507.6 361.8 507.6 357.2 507.7 356.4 508.0 355.7 508.4 355.2 508.9 354.8 509.5 354.7 510.0 354.7M513.2 354.7 517.5 354.7 514.5 364.3" stroke="#222" stroke-width="0.85" fill="none" stroke-linecap="round" stroke-linejoin="round"/><rect x="634.50" y="266.50" width="33.00" height="16.00" stroke="#888" stroke-width="1.0" fill="none"/><path d="M642.0 271.2 641.5 270.3 640.9 269.6 640.1 269.2 639.3 269.1 638.5 269.3 637.8 269.9 637.3 270.7 636.9 271.7 636.8 272.8 636.8 276.5 636.9 277.6 637.3 278.6 637.8 279.4 638.5 280.0 639.3 280.2 640.1 280.1 640.9 279.7 641.5 279.0 642.0 278.1M649.5 269.1 645.0 269.1 644.7 273.8 645.7 273.2 647.6 273.2 649.0 274.0 649.7 275.5 649.8 277.4 649.3 279.3 648.2 280.2 645.9 280.2 644.9 279.5 644.4 278.4M655.0 269.1 655.7 269.2 656.4 269.7 656.9 270.3 657.3 271.1 657.4 272.0 657.4 277.3 657.3 278.2 656.9 279.0 656.4 279.6 655.7 280.1 655.0 280.2 654.4 280.2 653.7 280.1 653.0 279.6 652.5 279.0 652.1 278.2 652.0 277.3 652.0 272.0 652.1 271.1 652.5 270.3 653.0 269.7 653.7 269.2 654.4 269.1 655.0 269.1M663.5 280.2 663.5 269.1 659.6 276.4 665.0 276.4" stroke="#444" stroke-width="0.85" fill="none" stroke-linecap="round" stroke-linejoin="round"/><rect x="634.50" y="287.50" width="33.00" height="14.00" stroke="#6a6a6a" stroke-width="1.0" fill="none"/><path d="M636.8 299.8 636.8 289.4 640.6 289.4 640.6 289.4 641.1 289.5 641.5 289.8 641.8 290.3 642.1 290.9 642.2 291.6 642.2 292.4 642.1 293.1 641.8 293.7 641.5 294.2 641.1 294.5 640.6 294.6 636.8 294.6M639.8 294.6 642.2 299.8M649.5 289.4 645.0 289.4 644.7 293.8 645.7 293.2 647.6 293.2 649.0 294.0 649.7 295.4 649.8 297.2 649.3 299.0 648.2 299.8 645.9 299.8 644.9 299.2 644.4 298.1M655.0 289.4 655.7 289.5 656.4 289.9 656.9 290.5 657.3 291.3 657.4 292.1 657.4 297.1 657.3 297.9 656.9 298.7 656.4 299.3 655.7 299.7 655.0 299.8 654.4 299.8 653.7 299.7 653.0 299.3 652.5 298.7 652.1 297.9 652.0 297.1 652.0 292.1 652.1 291.3 652.5 290.5 653.0 289.9 653.7 289.5 654.4 289.4 655.0 289.4M659.8 291.7 660.4 290.2 661.6 289.5 663.0 289.5 664.2 290.5 664.7 292.0 664.5 293.5 663.6 294.6 659.6 299.8 665.0 299.8" stroke="#444" stroke-width="0.85" fill="none" stroke-linecap="round" stroke-linejoin="round"/><rect x="638.50" y="305.50" width="22.00" height="11.00" stroke="#6a6a6a" stroke-width="1.0" fill="none"/><path d="M643.1 307.8 642.8 307.0 642.3 306.4 641.7 306.0 641.1 305.9 640.4 306.1 639.9 306.6 639.5 307.3 639.2 308.2 639.1 309.2 639.1 312.6 639.2 313.6 639.5 314.5 639.9 315.2 640.4 315.7 641.1 315.9 641.7 315.8 642.3 315.4 642.8 314.8 643.1 314.0M648.6 305.9 645.1 305.9 644.8 310.1 645.6 309.6 647.1 309.6 648.1 310.3 648.7 311.7 648.8 313.4 648.3 315.1 647.5 315.9 645.7 315.9 645.0 315.3 644.6 314.3M652.3 305.9 652.9 306.0 653.5 306.4 653.9 307.0 654.1 307.7 654.2 308.5 654.2 313.3 654.1 314.1 653.9 314.8 653.5 315.4 652.9 315.8 652.3 315.9 651.9 315.9 651.3 315.8 650.8 315.4 650.4 314.8 650.1 314.1 650.0 313.3 650.0 308.5 650.1 307.7 650.4 307.0 650.8 306.4 651.3 306.0 651.9 305.9 652.3 305.9M659.5 305.9 656.0 305.9 655.7 310.1 656.5 309.6 658.0 309.6 659.1 310.3 659.6 311.7 659.7 313.4 659.3 315.1 658.4 315.9 656.7 315.9 655.9 315.3 655.5 314.3" stroke="#222" stroke-width="0.85" fill="none" stroke-linecap="round" stroke-linejoin="round"/><rect x="645.50" y="320.50" width="22.00" height="9.00" stroke="#6a6a6a" stroke-width="1.0" fill="none"/><path d="M646.1 329.2 646.1 320.5 649.1 320.5 649.1 320.5 649.4 320.6 649.7 320.8 650.0 321.3 650.2 321.8 650.3 322.4 650.3 323.0 650.2 323.6 650.0 324.1 649.7 324.5 649.4 324.8 649.1 324.9 646.1 324.9M648.4 324.9 650.3 329.2M655.6 320.5 652.1 320.5 651.8 324.2 652.6 323.7 654.1 323.7 655.2 324.3 655.7 325.5 655.8 327.0 655.4 328.5 654.5 329.2 652.8 329.2 652.0 328.7 651.6 327.8M659.4 320.5 660.0 320.6 660.5 320.9 660.9 321.4 661.2 322.1 661.3 322.8 661.3 326.9 661.2 327.6 660.9 328.3 660.5 328.8 660.0 329.1 659.4 329.2 659.0 329.2 658.4 329.1 657.9 328.8 657.4 328.3 657.2 327.6 657.1 326.9 657.1 322.8 657.2 322.1 657.4 321.4 657.9 320.9 658.4 320.6 659.0 320.5 659.4 320.5M664.9 320.5 665.5 320.6 666.0 320.9 666.4 321.4 666.7 322.1 666.8 322.8 666.8 326.9 666.7 327.6 666.4 328.3 666.0 328.8 665.5 329.1 664.9 329.2 664.5 329.2 663.9 329.1 663.4 328.8 662.9 328.3 662.7 327.6 662.6 326.9 662.6 322.8 662.7 322.1 662.9 321.4 663.4 320.9 663.9 320.6 664.5 320.5 664.9 320.5" stroke="#222" stroke-width="0.85" fill="none" stroke-linecap="round" stroke-linejoin="round"/><rect x="645.50" y="333.50" width="22.00" height="11.00" stroke="#6a6a6a" stroke-width="1.0" fill="none"/><path d="M650.1 335.7 649.8 334.9 649.3 334.2 648.7 333.9 648.1 333.8 647.5 334.0 646.9 334.5 646.5 335.2 646.2 336.1 646.1 337.0 646.1 340.4 646.2 341.3 646.5 342.2 646.9 342.9 647.5 343.4 648.1 343.6 648.7 343.5 649.3 343.2 649.8 342.5 650.1 341.7M655.6 333.8 652.1 333.8 651.8 337.9 652.6 337.4 654.1 337.4 655.2 338.1 655.7 339.5 655.8 341.2 655.4 342.8 654.5 343.6 652.8 343.6 652.0 343.0 651.6 342.0M661.0 334.8 660.3 333.9 658.8 333.8 657.7 334.8 657.2 337.2 657.1 339.9 657.1 340.7 657.2 339.9 657.4 339.2 657.7 338.6 658.1 338.1 658.6 337.8 659.2 337.7 659.7 337.8 660.3 338.1 660.7 338.6 661.0 339.2 661.2 339.9 661.3 340.7 661.2 341.4 661.0 342.1 660.7 342.7 660.3 343.2 659.7 343.5 659.2 343.6 658.6 343.5 658.1 343.2 657.7 342.7 657.4 342.1 657.2 341.4 657.1 340.7M664.9 333.8 665.5 333.9 666.0 334.3 666.4 334.9 666.7 335.6 666.8 336.3 666.8 341.1 666.7 341.8 666.4 342.5 666.0 343.1 665.5 343.5 664.9 343.6 664.5 343.6 663.9 343.5 663.4 343.1 662.9 342.5 662.7 341.8 662.6 341.1 662.6 336.3 662.7 335.6 662.9 334.9 663.4 334.3 663.9 333.9 664.5 333.8 664.9 333.8" stroke="#222" stroke-width="0.85" fill="none" stroke-linecap="round" stroke-linejoin="round"/><rect x="657.50" y="346.50" width="10.00" height="22.00" stroke="#6a6a6a" stroke-width="1.0" fill="none"/><path d="M659.5 363.8 658.7 364.1 658.1 364.6 657.8 365.2 657.7 365.8 657.9 366.4 658.4 367.0 659.1 367.4 659.9 367.7 660.9 367.8 664.1 367.8 665.1 367.7 665.9 367.4 666.6 367.0 667.1 366.4 667.3 365.8 667.2 365.2 666.9 364.6 666.3 364.1 665.5 363.8M657.7 358.3 657.7 361.8 661.7 362.1 661.3 361.3 661.3 359.8 661.9 358.7 663.3 358.2 664.9 358.1 666.5 358.5 667.3 359.4 667.3 361.1 666.7 361.9 665.8 362.3M657.7 354.5 657.8 353.9 658.2 353.4 658.7 353.0 659.4 352.7 660.2 352.6 664.8 352.6 665.6 352.7 666.3 353.0 666.8 353.4 667.2 353.9 667.3 354.5 667.3 354.9 667.2 355.5 666.8 356.0 666.3 356.5 665.6 356.7 664.8 356.8 660.2 356.8 659.4 356.7 658.7 356.5 658.2 356.0 657.8 355.5 657.7 354.9 657.7 354.5M659.0 349.6 657.7 348.7 667.3 348.7" stroke="#222" stroke-width="0.85" fill="none" stroke-linecap="round" stroke-linejoin="round"/><rect x="669.50" y="273.50" width="22.00" height="9.00" stroke="#6a6a6a" stroke-width="1.0" fill="none"/><path d="M670.3 281.9 670.3 273.6 673.1 273.6 673.1 273.6 673.5 273.7 673.8 273.9 674.0 274.3 674.2 274.8 674.3 275.4 674.3 276.0 674.2 276.5 674.0 277.0 673.8 277.4 673.5 277.7 673.1 277.8 670.3 277.8M672.5 277.8 674.3 281.9M679.4 273.6 676.0 273.6 675.8 277.1 676.6 276.7 678.0 276.7 679.0 277.3 679.5 278.4 679.6 279.8 679.2 281.2 678.4 281.9 676.7 281.9 676.0 281.4 675.6 280.6M683.0 273.6 683.6 273.7 684.1 274.0 684.5 274.5 684.8 275.1 684.8 275.8 684.8 279.7 684.8 280.4 684.5 281.0 684.1 281.5 683.6 281.8 683.0 281.9 682.6 281.9 682.1 281.8 681.6 281.5 681.2 281.0 680.9 280.4 680.8 279.7 680.8 275.8 680.9 275.1 681.2 274.5 681.6 274.0 682.1 273.7 682.6 273.6 683.0 273.6M687.8 274.8 688.6 273.6 688.6 281.9" stroke="#222" stroke-width="0.85" fill="none" stroke-linecap="round" stroke-linejoin="round"/><rect x="692.50" y="265.50" width="22.00" height="11.00" stroke="#6a6a6a" stroke-width="1.0" fill="none"/><path d="M697.1 268.3 696.8 267.5 696.3 266.8 695.7 266.5 695.1 266.4 694.5 266.6 693.9 267.1 693.5 267.8 693.2 268.7 693.1 269.6 693.1 273.0 693.2 273.9 693.5 274.8 693.9 275.5 694.5 276.0 695.1 276.2 695.7 276.1 696.3 275.8 696.8 275.1 697.1 274.3M702.6 266.4 699.1 266.4 698.8 270.5 699.6 270.0 701.1 270.0 702.2 270.7 702.7 272.1 702.8 273.8 702.4 275.4 701.5 276.2 699.8 276.2 699.0 275.6 698.6 274.6M706.4 266.4 707.0 266.5 707.5 266.9 707.9 267.5 708.2 268.2 708.3 268.9 708.3 273.7 708.2 274.4 707.9 275.1 707.5 275.7 707.0 276.1 706.4 276.2 706.0 276.2 705.4 276.1 704.9 275.7 704.4 275.1 704.2 274.4 704.1 273.7 704.1 268.9 704.2 268.2 704.4 267.5 704.9 266.9 705.4 266.5 706.0 266.4 706.4 266.4M710.1 266.4 713.5 266.4 711.6 270.3 712.6 270.4 713.4 271.1 713.8 272.6 713.7 274.2 713.3 275.5 712.6 276.2 710.6 276.2 710.0 275.7 709.6 274.6" stroke="#222" stroke-width="0.85" fill="none" stroke-linecap="round" stroke-linejoin="round"/><rect x="748.50" y="272.50" width="22.00" height="11.00" stroke="#6a6a6a" stroke-width="1.0" fill="none"/><path d="M753.0 274.6 752.7 273.8 752.2 273.2 751.6 272.9 751.0 272.8 750.4 273.0 749.8 273.5 749.4 274.2 749.1 275.1 749.0 276.0 749.0 279.3 749.1 280.2 749.4 281.1 749.8 281.8 750.4 282.3 751.0 282.5 751.6 282.4 752.2 282.1 752.7 281.5 753.0 280.7M758.5 272.8 755.0 272.8 754.7 276.9 755.5 276.4 757.0 276.4 758.1 277.1 758.6 278.4 758.7 280.1 758.3 281.7 757.4 282.5 755.7 282.5 754.9 281.9 754.5 280.9M763.9 273.8 763.2 272.9 761.7 272.8 760.6 273.8 760.1 276.2 760.0 278.8 760.0 279.6 760.1 278.8 760.3 278.1 760.6 277.5 761.0 277.1 761.5 276.8 762.1 276.7 762.6 276.8 763.2 277.1 763.6 277.5 763.9 278.1 764.1 278.8 764.2 279.6 764.1 280.3 763.9 281.0 763.6 281.6 763.2 282.1 762.6 282.4 762.1 282.5 761.5 282.4 761.0 282.1 760.6 281.6 760.3 281.0 760.1 280.3 760.0 279.6M767.2 274.2 768.1 272.8 768.1 282.5" stroke="#222" stroke-width="0.85" fill="none" stroke-linecap="round" stroke-linejoin="round"/><rect x="675.50" y="286.50" width="85.00" height="92.00" stroke="#808080" stroke-width="1.0" fill="none"/><path d="M675.3 286.7L686.0 286.7L675.3 297.4Z" stroke="#666" stroke-width="0.7" fill="none"/><line x1="675.30" y1="289.38" x2="677.97" y2="286.70" stroke="#555" stroke-width="0.7"/><line x1="675.30" y1="291.51" x2="680.12" y2="286.70" stroke="#555" stroke-width="0.7"/><line x1="675.30" y1="293.65" x2="682.25" y2="286.70" stroke="#555" stroke-width="0.7"/><line x1="675.30" y1="295.79" x2="684.39" y2="286.70" stroke="#555" stroke-width="0.7"/><path d="M712.9 350.7 711.5 351.5 710.5 352.7 709.9 354.2 709.8 355.8 710.2 357.3 710.9 358.7 712.1 359.8 713.5 360.5 715.1 360.7 720.6 360.7 722.1 360.5 723.5 359.9 724.6 358.9 725.4 357.6 725.8 356.2 725.8 354.7 725.4 353.2 724.6 352.0 723.5 351.0 722.1 350.4 720.6 350.2 719.0 350.2 719.0 354.2M709.8 335.4 709.8 344.1 716.6 344.8 715.8 342.8 715.8 339.1 716.9 336.5 719.1 335.1 721.9 334.9 724.6 335.9 725.9 338.0 725.9 342.5 724.9 344.4 723.3 345.4M709.8 324.3 710.0 322.9 710.6 321.5 711.5 320.5 712.7 319.8 714.0 319.6 721.7 319.6 723.0 319.8 724.2 320.5 725.1 321.5 725.7 322.9 725.9 324.3 725.9 325.4 725.7 326.9 725.1 328.2 724.2 329.2 723.0 329.9 721.7 330.1 714.0 330.1 712.7 329.9 711.5 329.2 710.6 328.2 710.0 326.9 709.8 325.4 709.8 324.3M709.8 309.0 710.0 307.6 710.6 306.3 711.5 305.2 712.7 304.5 714.0 304.3 721.7 304.3 723.0 304.5 724.2 305.2 725.1 306.3 725.7 307.6 725.9 309.0 725.9 310.1 725.7 311.6 725.1 312.9 724.2 313.9 723.0 314.6 721.7 314.8 714.0 314.8 712.7 314.6 711.5 313.9 710.6 312.9 710.0 311.6 709.8 310.1 709.8 309.0" stroke="#444" stroke-width="0.9" fill="none" stroke-linecap="round" stroke-linejoin="round"/><rect x="526.50" y="347.50" width="125.00" height="126.00" stroke="#808080" stroke-width="1.0" fill="none"/><circle cx="532.60" cy="466.70" r="3.00" stroke="#555" stroke-width="1.0" fill="none"/><path d="M600.1 451.1 577.9 451.1 600.1 436.1 577.9 436.1M577.9 415.0 577.9 427.5 587.2 428.4 586.1 425.5 586.1 420.3 587.7 416.5 590.8 414.5 594.5 414.2 598.3 415.7 600.1 418.7 600.1 425.1 598.8 427.8 596.5 429.3M577.9 399.2 578.2 397.1 579.0 395.2 580.3 393.7 581.9 392.7 583.7 392.4 594.3 392.4 596.1 392.7 597.7 393.7 599.0 395.2 599.8 397.1 600.1 399.2 600.1 400.7 599.8 402.8 599.0 404.7 597.7 406.2 596.1 407.1 594.3 407.5 583.7 407.5 581.9 407.1 580.3 406.2 579.0 404.7 578.2 402.8 577.9 400.7 577.9 399.2M577.9 377.4 578.2 375.3 579.0 373.4 580.3 371.9 581.9 370.9 583.7 370.6 594.3 370.6 596.1 370.9 597.7 371.9 599.0 373.4 599.8 375.3 600.1 377.4 600.1 378.9 599.8 381.0 599.0 382.9 597.7 384.4 596.1 385.3 594.3 385.6 583.7 385.6 581.9 385.3 580.3 384.4 579.0 382.9 578.2 381.0 577.9 378.9 577.9 377.4" stroke="#444" stroke-width="1.0" fill="none" stroke-linecap="round" stroke-linejoin="round"/><rect x="459.50" y="368.50" width="33.00" height="21.00" stroke="#6a6a6a" stroke-width="1.0" fill="none"/><path d="M462.8 370.1 467.9 370.1 462.8 387.9 467.9 387.9M472.5 378.3 471.8 378.1 471.2 377.5 470.8 376.6 470.4 375.4 470.3 374.2 470.4 372.9 470.8 371.7 471.2 370.8 471.8 370.3 472.5 370.1 473.1 370.3 473.7 370.8 474.2 371.7 474.5 372.9 474.6 374.2 474.5 375.4 474.2 376.6 473.7 377.5 473.1 378.1 472.5 378.3M472.5 377.9 473.1 378.1 473.8 378.6 474.3 379.4 474.7 380.4 474.9 381.6 475.0 382.9 474.9 384.2 474.7 385.4 474.3 386.5 473.8 387.3 473.1 387.8 472.5 387.9 471.8 387.8 471.2 387.3 470.7 386.5 470.3 385.4 470.0 384.2 469.9 382.9 470.0 381.6 470.3 380.4 470.7 379.4 471.2 378.6 471.8 378.1 472.5 377.9M479.9 370.1 480.6 370.3 481.2 370.9 481.7 372.0 482.1 373.3 482.2 374.7 482.2 383.3 482.1 384.7 481.7 386.0 481.2 387.1 480.6 387.7 479.9 387.9 479.4 387.9 478.7 387.7 478.0 387.1 477.5 386.0 477.2 384.7 477.1 383.3 477.1 374.7 477.2 373.3 477.5 372.0 478.0 370.9 478.7 370.3 479.4 370.1 479.9 370.1M484.4 374.0 485.0 371.5 486.1 370.2 487.4 370.2 488.5 372.0 489.0 374.5 488.8 377.0 488.0 379.0 484.2 387.9 489.3 387.9" stroke="#222" stroke-width="0.9" fill="none" stroke-linecap="round" stroke-linejoin="round"/><rect x="511.50" y="367.50" width="11.00" height="23.00" stroke="#6a6a6a" stroke-width="1.0" fill="none"/><path d="M512.0 389.2 521.8 389.2 521.8 385.0M516.5 381.6 516.4 382.2 516.1 382.7 515.6 383.1 515.0 383.3 514.3 383.4 513.6 383.3 512.9 383.1 512.4 382.7 512.1 382.2 512.0 381.6 512.1 381.1 512.4 380.6 512.9 380.2 513.6 380.0 514.3 379.9 515.0 380.0 515.6 380.2 516.1 380.6 516.4 381.1 516.5 381.6M516.3 381.6 516.4 381.1 516.7 380.6 517.1 380.1 517.7 379.8 518.3 379.6 519.1 379.5 519.8 379.6 520.4 379.8 521.0 380.1 521.4 380.6 521.7 381.1 521.8 381.6 521.7 382.2 521.4 382.7 521.0 383.1 520.4 383.5 519.8 383.7 519.1 383.7 518.3 383.7 517.7 383.5 517.1 383.1 516.7 382.7 516.4 382.2 516.3 381.6M512.0 376.0 512.1 375.4 512.5 374.8 513.1 374.4 513.8 374.2 514.5 374.1 519.3 374.1 520.0 374.2 520.7 374.4 521.3 374.8 521.7 375.4 521.8 376.0 521.8 376.4 521.7 377.0 521.3 377.5 520.7 377.9 520.0 378.2 519.3 378.3 514.5 378.3 513.8 378.2 513.1 377.9 512.5 377.5 512.1 377.0 512.0 376.4 512.0 376.0M512.0 368.8 512.0 372.3 516.1 372.6 515.6 371.8 515.6 370.3 516.3 369.2 517.7 368.7 519.3 368.6 521.0 369.0 521.8 369.9 521.8 371.6 521.2 372.4 520.2 372.8" stroke="#222" stroke-width="0.85" fill="none" stroke-linecap="round" stroke-linejoin="round"/><rect x="495.50" y="392.50" width="23.00" height="11.00" stroke="#6a6a6a" stroke-width="1.0" fill="none"/><path d="M500.5 394.8 500.1 394.0 499.6 393.4 499.0 393.0 498.4 392.9 497.8 393.1 497.2 393.6 496.8 394.3 496.5 395.2 496.4 396.2 496.4 399.5 496.5 400.5 496.8 401.4 497.2 402.1 497.8 402.6 498.4 402.8 499.0 402.7 499.6 402.3 500.1 401.7 500.5 400.9M504.2 397.5 503.6 397.3 503.1 397.0 502.7 396.5 502.4 395.9 502.3 395.2 502.4 394.5 502.7 393.8 503.1 393.3 503.6 393.0 504.2 392.9 504.7 393.0 505.2 393.3 505.6 393.8 505.9 394.5 506.0 395.2 505.9 395.9 505.6 396.5 505.2 397.0 504.7 397.3 504.2 397.5M504.2 397.3 504.7 397.4 505.2 397.6 505.7 398.1 506.0 398.6 506.2 399.3 506.3 400.0 506.2 400.7 506.0 401.4 505.7 402.0 505.2 402.4 504.7 402.7 504.2 402.8 503.6 402.7 503.1 402.4 502.6 402.0 502.3 401.4 502.1 400.7 502.0 400.0 502.1 399.3 502.3 398.6 502.6 398.1 503.1 397.6 503.6 397.4 504.2 397.3M510.0 392.9 510.6 393.0 511.1 393.4 511.5 394.0 511.8 394.7 511.9 395.5 511.9 400.2 511.8 401.0 511.5 401.7 511.1 402.3 510.6 402.7 510.0 402.8 509.5 402.8 508.9 402.7 508.4 402.3 508.0 401.7 507.7 401.0 507.6 400.2 507.6 395.5 507.7 394.7 508.0 394.0 508.4 393.4 508.9 393.0 509.5 392.9 510.0 392.9M515.3 397.5 514.8 397.3 514.3 397.0 513.9 396.5 513.6 395.9 513.5 395.2 513.6 394.5 513.9 393.8 514.3 393.3 514.8 393.0 515.3 392.9 515.9 393.0 516.4 393.3 516.8 393.8 517.1 394.5 517.2 395.2 517.1 395.9 516.8 396.5 516.4 397.0 515.9 397.3 515.3 397.5M515.3 397.3 515.9 397.4 516.4 397.6 516.9 398.1 517.2 398.6 517.4 399.3 517.5 400.0 517.4 400.7 517.2 401.4 516.9 402.0 516.4 402.4 515.9 402.7 515.3 402.8 514.8 402.7 514.3 402.4 513.8 402.0 513.5 401.4 513.3 400.7 513.2 400.0 513.3 399.3 513.5 398.6 513.8 398.1 514.3 397.6 514.8 397.4 515.3 397.3" stroke="#222" stroke-width="0.85" fill="none" stroke-linecap="round" stroke-linejoin="round"/><rect x="462.50" y="397.50" width="12.00" height="22.00" stroke="#6a6a6a" stroke-width="1.0" fill="none"/><path d="M465.3 414.5 464.5 414.8 463.9 415.3 463.5 415.9 463.4 416.5 463.6 417.1 464.1 417.6 464.8 418.0 465.7 418.3 466.7 418.4 470.2 418.4 471.2 418.3 472.1 418.0 472.8 417.6 473.3 417.1 473.5 416.5 473.4 415.9 473.0 415.3 472.4 414.8 471.6 414.5M463.4 409.1 463.4 412.5 467.6 412.8 467.1 412.0 467.1 410.5 467.8 409.5 469.3 409.0 471.0 408.9 472.7 409.3 473.5 410.1 473.5 411.9 472.9 412.6 471.9 413.0M463.4 407.1 463.4 403.8 467.4 405.6 467.5 404.7 468.2 403.9 469.8 403.5 471.5 403.6 472.8 404.0 473.5 404.7 473.5 406.6 473.0 407.2 471.9 407.6M463.4 401.7 463.4 398.4 467.4 400.3 467.5 399.3 468.2 398.5 469.8 398.1 471.5 398.2 472.8 398.6 473.5 399.3 473.5 401.2 473.0 401.8 471.9 402.2" stroke="#222" stroke-width="0.85" fill="none" stroke-linecap="round" stroke-linejoin="round"/><rect x="492.50" y="407.50" width="10.00" height="23.00" stroke="#6a6a6a" stroke-width="1.0" fill="none"/><path d="M494.6 425.4 493.8 425.7 493.2 426.2 492.9 426.8 492.8 427.5 493.0 428.1 493.5 428.7 494.2 429.1 495.0 429.4 496.0 429.5 499.2 429.5 500.2 429.4 501.0 429.1 501.7 428.7 502.2 428.1 502.4 427.5 502.3 426.8 502.0 426.2 501.4 425.7 500.6 425.4M492.8 419.8 492.8 423.4 496.8 423.6 496.4 422.8 496.4 421.3 497.0 420.2 498.4 419.6 500.0 419.5 501.6 420.0 502.4 420.8 502.4 422.7 501.8 423.4 500.9 423.9M492.8 417.7 492.8 414.3 496.6 416.2 496.7 415.2 497.4 414.4 498.8 414.0 500.5 414.0 501.7 414.5 502.4 415.2 502.4 417.2 501.9 417.8 500.9 418.3M494.9 412.5 493.6 412.0 492.9 411.0 492.9 409.9 493.9 408.9 495.2 408.5 496.5 408.7 497.6 409.4 502.4 412.6 502.4 408.3" stroke="#222" stroke-width="0.85" fill="none" stroke-linecap="round" stroke-linejoin="round"/><rect x="461.50" y="421.50" width="23.00" height="10.00" stroke="#6a6a6a" stroke-width="1.0" fill="none"/><path d="M462.6 431.2 462.6 422.1 465.6 422.1 465.6 422.1 466.0 422.2 466.3 422.5 466.6 422.9 466.8 423.4 466.9 424.1 466.9 424.7 466.8 425.3 466.6 425.9 466.3 426.3 466.0 426.6 465.6 426.6 462.6 426.6M465.0 426.6 466.9 431.2M472.2 422.1 468.7 422.1 468.4 425.9 469.2 425.5 470.7 425.5 471.8 426.1 472.4 427.4 472.5 428.9 472.0 430.5 471.2 431.2 469.4 431.2 468.6 430.7 468.2 429.7M476.1 422.1 476.7 422.2 477.2 422.6 477.7 423.1 477.9 423.7 478.0 424.5 478.0 428.8 477.9 429.6 477.7 430.2 477.2 430.7 476.7 431.1 476.1 431.2 475.7 431.2 475.1 431.1 474.5 430.7 474.1 430.2 473.8 429.6 473.7 428.8 473.7 424.5 473.8 423.7 474.1 423.1 474.5 422.6 475.1 422.2 475.7 422.1 476.1 422.1M482.4 431.2 482.4 422.1 479.3 428.1 483.6 428.1" stroke="#222" stroke-width="0.85" fill="none" stroke-linecap="round" stroke-linejoin="round"/><rect x="483.50" y="436.50" width="32.00" height="15.00" stroke="#6a6a6a" stroke-width="1.0" fill="none"/><path d="M491.0 440.1 490.6 439.1 490.0 438.3 489.3 437.8 488.5 437.7 487.7 438.0 487.1 438.6 486.6 439.5 486.2 440.6 486.1 441.8 486.1 446.1 486.2 447.3 486.6 448.4 487.1 449.3 487.7 449.9 488.5 450.2 489.3 450.1 490.0 449.6 490.6 448.8 491.0 447.8M498.2 437.7 493.9 437.7 493.6 442.9 494.6 442.3 496.4 442.3 497.7 443.2 498.4 445.0 498.5 447.1 498.0 449.2 496.9 450.2 494.8 450.2 493.8 449.5 493.3 448.2M503.4 437.7 504.1 437.9 504.7 438.3 505.2 439.0 505.6 439.9 505.7 440.9 505.7 447.0 505.6 448.0 505.2 448.9 504.7 449.6 504.1 450.0 503.4 450.2 502.9 450.2 502.1 450.0 501.5 449.6 501.0 448.9 500.6 448.0 500.5 447.0 500.5 440.9 500.6 439.9 501.0 439.0 501.5 438.3 502.1 437.9 502.9 437.7 503.4 437.7M507.7 437.7 512.9 437.7 509.3 450.2" stroke="#222" stroke-width="0.9" fill="none" stroke-linecap="round" stroke-linejoin="round"/><rect x="457.50" y="466.50" width="23.00" height="10.00" stroke="#6a6a6a" stroke-width="1.0" fill="none"/><path d="M458.7 476.3 458.7 467.1 461.7 467.1 461.7 467.1 462.0 467.2 462.4 467.5 462.6 467.9 462.8 468.4 462.9 469.1 462.9 469.7 462.8 470.4 462.6 470.9 462.4 471.3 462.0 471.6 461.7 471.7 458.7 471.7M461.0 471.7 462.9 476.3M468.3 467.1 464.7 467.1 464.5 471.0 465.3 470.5 466.8 470.5 467.8 471.1 468.4 472.4 468.5 474.0 468.0 475.6 467.2 476.3 465.4 476.3 464.6 475.7 464.2 474.8M472.1 467.1 472.7 467.2 473.2 467.6 473.6 468.1 473.9 468.8 474.0 469.5 474.0 473.9 473.9 474.6 473.6 475.3 473.2 475.8 472.7 476.2 472.1 476.3 471.6 476.3 471.1 476.2 470.5 475.8 470.1 475.3 469.8 474.6 469.7 473.9 469.7 469.5 469.8 468.8 470.1 468.1 470.5 467.6 471.1 467.2 471.6 467.1 472.1 467.1M475.8 467.1 479.2 467.1 477.3 470.8 478.3 470.9 479.1 471.5 479.5 472.9 479.4 474.5 478.9 475.7 478.3 476.3 476.3 476.3 475.7 475.8 475.3 474.8" stroke="#222" stroke-width="0.85" fill="none" stroke-linecap="round" stroke-linejoin="round"/><rect x="481.50" y="462.50" width="12.00" height="22.00" stroke="#6a6a6a" stroke-width="1.0" fill="none"/><path d="M483.9 479.7 483.0 480.1 482.4 480.5 482.0 481.1 481.9 481.8 482.1 482.4 482.7 482.9 483.4 483.3 484.4 483.6 485.4 483.7 489.0 483.7 490.0 483.6 491.0 483.3 491.7 482.9 492.3 482.4 492.5 481.8 492.4 481.1 492.0 480.5 491.4 480.1 490.5 479.7M481.9 474.3 481.9 477.8 486.4 478.0 485.8 477.2 485.8 475.8 486.6 474.7 488.0 474.2 489.9 474.1 491.7 474.5 492.5 475.3 492.5 477.1 491.9 477.8 490.8 478.3M481.9 472.8 481.9 468.6 492.5 471.6M483.4 465.6 481.9 464.8 492.5 464.8" stroke="#222" stroke-width="0.85" fill="none" stroke-linecap="round" stroke-linejoin="round"/><rect x="495.50" y="462.50" width="11.00" height="22.00" stroke="#6a6a6a" stroke-width="1.0" fill="none"/><path d="M505.5 483.7 495.9 483.7 495.9 480.8 495.9 480.8 496.0 480.4 496.3 480.1 496.7 479.8 497.3 479.6 498.0 479.5 498.6 479.5 499.3 479.6 499.9 479.8 500.3 480.1 500.6 480.4 500.7 480.8 500.7 483.7M500.7 481.4 505.5 479.5M495.9 474.3 495.9 477.8 499.9 478.0 499.5 477.2 499.5 475.8 500.1 474.7 501.5 474.2 503.1 474.1 504.7 474.5 505.5 475.3 505.5 477.1 504.9 477.8 504.0 478.3M495.9 472.3 495.9 469.0 499.7 470.8 499.8 469.9 500.5 469.1 501.9 468.7 503.6 468.7 504.8 469.2 505.5 469.9 505.5 471.8 505.0 472.4 504.0 472.8M497.2 465.6 495.9 464.8 505.5 464.8" stroke="#222" stroke-width="0.85" fill="none" stroke-linecap="round" stroke-linejoin="round"/><rect x="509.50" y="462.50" width="10.00" height="22.00" stroke="#6a6a6a" stroke-width="1.0" fill="none"/><path d="M519.0 483.7 509.8 483.7 509.8 480.8 509.8 480.8 509.9 480.4 510.2 480.1 510.6 479.8 511.1 479.6 511.8 479.5 512.4 479.5 513.1 479.6 513.6 479.8 514.0 480.1 514.3 480.4 514.4 480.8 514.4 483.7M514.4 481.4 519.0 479.5M509.8 474.3 509.8 477.8 513.7 478.0 513.2 477.2 513.2 475.8 513.8 474.7 515.1 474.2 516.7 474.1 518.3 474.5 519.0 475.3 519.0 477.1 518.4 477.8 517.5 478.3M511.8 472.7 510.5 472.2 509.9 471.3 509.9 470.2 510.8 469.3 512.1 468.8 513.4 469.1 514.4 469.7 519.0 472.8 519.0 468.6M510.7 463.5 509.9 464.2 509.8 465.7 510.7 466.8 513.0 467.3 515.5 467.4 516.2 467.4 515.5 467.3 514.9 467.1 514.3 466.8 513.8 466.3 513.6 465.8 513.5 465.3 513.6 464.8 513.8 464.2 514.3 463.8 514.9 463.5 515.5 463.3 516.2 463.2 517.0 463.3 517.6 463.5 518.2 463.8 518.6 464.2 518.9 464.8 519.0 465.3 518.9 465.8 518.6 466.3 518.2 466.8 517.6 467.1 517.0 467.3 516.2 467.4" stroke="#222" stroke-width="0.85" fill="none" stroke-linecap="round" stroke-linejoin="round"/><rect x="480.50" y="485.50" width="10.00" height="22.00" stroke="#6a6a6a" stroke-width="1.0" fill="none"/><path d="M490.0 506.7 480.8 506.7 480.8 503.8 480.8 503.8 480.9 503.4 481.2 503.1 481.6 502.8 482.1 502.6 482.8 502.5 483.4 502.5 484.1 502.6 484.6 502.8 485.0 503.1 485.3 503.4 485.4 503.8 485.4 506.7M485.4 504.4 490.0 502.5M480.8 497.3 480.8 500.8 484.7 501.0 484.2 500.2 484.2 498.8 484.8 497.7 486.1 497.2 487.7 497.1 489.3 497.5 490.0 498.3 490.0 500.1 489.4 500.8 488.5 501.3M480.8 493.5 480.9 492.9 481.3 492.4 481.8 492.0 482.5 491.7 483.2 491.6 487.6 491.6 488.3 491.7 489.0 492.0 489.5 492.4 489.9 492.9 490.0 493.5 490.0 493.9 489.9 494.5 489.5 495.0 489.0 495.5 488.3 495.7 487.6 495.8 483.2 495.8 482.5 495.7 481.8 495.5 481.3 495.0 480.9 494.5 480.8 493.9 480.8 493.5M480.8 486.4 480.8 489.9 484.7 490.1 484.2 489.3 484.2 487.9 484.8 486.8 486.1 486.3 487.7 486.2 489.3 486.6 490.0 487.5 490.0 489.2 489.4 490.0 488.5 490.4" stroke="#222" stroke-width="0.85" fill="none" stroke-linecap="round" stroke-linejoin="round"/><rect x="494.50" y="487.50" width="16.00" height="32.00" stroke="#6a6a6a" stroke-width="1.0" fill="none"/><path d="M498.4 511.9 497.3 512.3 496.5 512.9 496.0 513.6 495.9 514.4 496.1 515.1 496.8 515.8 497.8 516.3 498.9 516.7 500.2 516.8 504.8 516.8 506.1 516.7 507.2 516.3 508.2 515.8 508.9 515.1 509.1 514.4 509.0 513.6 508.5 512.9 507.7 512.3 506.6 511.9M495.9 504.6 495.9 508.9 501.4 509.2 500.8 508.3 500.8 506.5 501.7 505.2 503.6 504.5 505.8 504.4 508.1 504.9 509.1 505.9 509.1 508.1 508.4 509.0 507.0 509.6M497.7 500.1 495.9 499.1 509.1 499.1M495.9 494.5 495.9 490.3 501.2 492.6 501.3 491.4 502.2 490.4 504.2 490.0 506.5 490.0 508.2 490.6 509.1 491.4 509.1 493.8 508.5 494.6 507.0 495.1" stroke="#222" stroke-width="0.9" fill="none" stroke-linecap="round" stroke-linejoin="round"/><rect x="514.50" y="485.50" width="10.00" height="23.00" stroke="#6a6a6a" stroke-width="1.0" fill="none"/><path d="M524.1 507.0 514.8 507.0 514.8 504.0 514.8 504.0 514.9 503.7 515.2 503.3 515.6 503.1 516.2 502.9 516.8 502.8 517.5 502.8 518.1 502.9 518.6 503.1 519.1 503.3 519.4 503.7 519.5 504.0 519.5 507.0M519.5 504.7 524.1 502.8M514.8 497.4 514.8 501.0 518.7 501.2 518.2 500.4 518.2 498.9 518.9 497.9 520.2 497.3 521.8 497.2 523.4 497.7 524.1 498.5 524.1 500.3 523.5 501.1 522.6 501.5M514.8 493.6 514.9 493.0 515.3 492.5 515.8 492.1 516.5 491.8 517.2 491.7 521.7 491.7 522.4 491.8 523.1 492.1 523.6 492.5 524.0 493.0 524.1 493.6 524.1 494.1 524.0 494.6 523.6 495.2 523.1 495.6 522.4 495.9 521.7 496.0 517.2 496.0 516.5 495.9 515.8 495.6 515.3 495.2 514.9 494.6 514.8 494.1 514.8 493.6M514.8 490.4 514.8 486.2 524.1 489.2" stroke="#222" stroke-width="0.85" fill="none" stroke-linecap="round" stroke-linejoin="round"/><rect x="514.50" y="508.50" width="10.00" height="22.00" stroke="#6a6a6a" stroke-width="1.0" fill="none"/><path d="M516.6 525.4 515.8 525.8 515.2 526.3 514.9 526.8 514.8 527.5 515.0 528.1 515.5 528.6 516.1 529.0 517.0 529.3 517.9 529.4 521.0 529.4 521.9 529.3 522.8 529.0 523.4 528.6 523.9 528.1 524.1 527.5 524.0 526.8 523.7 526.3 523.1 525.8 522.3 525.4M514.8 520.0 514.8 523.5 518.7 523.7 518.2 522.9 518.2 521.5 518.9 520.4 520.2 519.9 521.8 519.8 523.4 520.2 524.1 521.1 524.1 522.8 523.5 523.6 522.6 524.0M516.1 516.8 514.8 516.0 524.1 516.0M516.8 513.0 515.5 512.5 514.9 511.6 514.9 510.5 515.8 509.6 517.1 509.2 518.4 509.4 519.5 510.1 524.1 513.2 524.1 509.0" stroke="#222" stroke-width="0.85" fill="none" stroke-linecap="round" stroke-linejoin="round"/><rect x="525.50" y="540.50" width="22.00" height="10.00" stroke="#6a6a6a" stroke-width="1.0" fill="none"/><path d="M530.0 542.4 529.6 541.6 529.2 541.0 528.6 540.7 527.9 540.6 527.3 540.8 526.8 541.3 526.4 542.0 526.1 542.8 526.0 543.7 526.0 547.0 526.1 547.9 526.4 548.7 526.8 549.4 527.3 549.9 527.9 550.1 528.6 550.0 529.2 549.7 529.6 549.1 530.0 548.3M535.4 540.6 531.9 540.6 531.7 544.6 532.5 544.1 533.9 544.1 535.0 544.8 535.5 546.1 535.6 547.7 535.2 549.3 534.4 550.1 532.6 550.1 531.9 549.5 531.4 548.6M537.0 542.7 537.5 541.4 538.4 540.7 539.5 540.7 540.4 541.6 540.9 543.0 540.6 544.3 540.0 545.4 536.9 550.1 541.1 550.1M542.5 542.7 542.9 541.4 543.9 540.7 545.0 540.7 545.9 541.6 546.3 543.0 546.1 544.3 545.4 545.4 542.3 550.1 546.5 550.1" stroke="#222" stroke-width="0.85" fill="none" stroke-linecap="round" stroke-linejoin="round"/><rect x="561.50" y="490.50" width="11.00" height="22.00" stroke="#6a6a6a" stroke-width="1.0" fill="none"/><path d="M563.8 507.7 563.0 508.0 562.4 508.5 562.0 509.1 561.9 509.7 562.1 510.3 562.6 510.8 563.3 511.2 564.2 511.5 565.2 511.6 568.5 511.6 569.5 511.5 570.4 511.2 571.1 510.8 571.6 510.3 571.8 509.7 571.7 509.1 571.3 508.5 570.7 508.0 569.9 507.7M561.9 502.3 561.9 505.7 566.1 506.0 565.6 505.2 565.6 503.7 566.3 502.7 567.6 502.2 569.3 502.1 571.0 502.5 571.8 503.3 571.8 505.1 571.2 505.8 570.2 506.2M561.9 500.8 561.9 496.7 571.8 499.6M561.9 493.2 562.0 492.6 562.4 492.1 563.0 491.7 563.7 491.4 564.5 491.3 569.2 491.3 570.0 491.4 570.7 491.7 571.3 492.1 571.7 492.6 571.8 493.2 571.8 493.6 571.7 494.2 571.3 494.7 570.7 495.1 570.0 495.4 569.2 495.4 564.5 495.4 563.7 495.4 563.0 495.1 562.4 494.7 562.0 494.2 561.9 493.6 561.9 493.2" stroke="#222" stroke-width="0.85" fill="none" stroke-linecap="round" stroke-linejoin="round"/><rect x="562.50" y="516.50" width="10.00" height="22.00" stroke="#6a6a6a" stroke-width="1.0" fill="none"/><path d="M564.4 533.7 563.6 534.1 562.9 534.6 562.6 535.1 562.5 535.8 562.7 536.4 563.2 536.9 563.9 537.3 564.8 537.6 565.7 537.7 569.1 537.7 570.0 537.6 570.9 537.3 571.6 536.9 572.1 536.4 572.3 535.8 572.2 535.1 571.9 534.6 571.2 534.1 570.4 533.7M562.5 528.3 562.5 531.8 566.6 532.0 566.1 531.2 566.1 529.8 566.8 528.7 568.2 528.2 569.8 528.1 571.5 528.5 572.3 529.4 572.3 531.1 571.7 531.9 570.7 532.3M562.5 524.6 562.6 524.0 563.0 523.5 563.6 523.1 564.3 522.8 565.0 522.7 569.8 522.7 570.5 522.8 571.2 523.1 571.8 523.5 572.2 524.0 572.3 524.6 572.3 525.0 572.2 525.6 571.8 526.1 571.2 526.5 570.5 526.8 569.8 526.9 565.0 526.9 564.3 526.8 563.6 526.5 563.0 526.1 562.6 525.6 562.5 525.0 562.5 524.6M562.5 519.2 562.6 518.6 563.0 518.1 563.6 517.7 564.3 517.4 565.0 517.3 569.8 517.3 570.5 517.4 571.2 517.7 571.8 518.1 572.2 518.6 572.3 519.2 572.3 519.6 572.2 520.2 571.8 520.7 571.2 521.1 570.5 521.4 569.8 521.5 565.0 521.5 564.3 521.4 563.6 521.1 563.0 520.7 562.6 520.2 562.5 519.6 562.5 519.2" stroke="#222" stroke-width="0.85" fill="none" stroke-linecap="round" stroke-linejoin="round"/><rect x="575.50" y="494.50" width="11.00" height="22.00" stroke="#6a6a6a" stroke-width="1.0" fill="none"/><path d="M578.1 511.9 577.3 512.3 576.7 512.7 576.4 513.3 576.3 514.0 576.5 514.6 577.0 515.1 577.7 515.5 578.5 515.8 579.5 515.9 582.7 515.9 583.7 515.8 584.5 515.5 585.2 515.1 585.7 514.6 585.9 514.0 585.8 513.3 585.5 512.7 584.9 512.3 584.1 511.9M576.3 506.5 576.3 510.0 580.3 510.2 579.9 509.4 579.9 508.0 580.5 506.9 581.9 506.4 583.5 506.3 585.1 506.7 585.9 507.5 585.9 509.3 585.3 510.0 584.4 510.5M576.3 502.7 576.4 502.1 576.8 501.6 577.3 501.2 578.0 500.9 578.8 500.8 583.4 500.8 584.2 500.9 584.9 501.2 585.4 501.6 585.8 502.1 585.9 502.7 585.9 503.1 585.8 503.7 585.4 504.2 584.9 504.7 584.2 504.9 583.4 505.0 578.8 505.0 578.0 504.9 577.3 504.7 576.8 504.2 576.4 503.7 576.3 503.1 576.3 502.7M577.6 497.8 576.3 497.0 585.9 497.0" stroke="#222" stroke-width="0.85" fill="none" stroke-linecap="round" stroke-linejoin="round"/><rect x="591.50" y="494.50" width="10.00" height="22.00" stroke="#6a6a6a" stroke-width="1.0" fill="none"/><path d="M591.8 515.9 601.4 515.9 601.4 511.7M591.8 506.5 591.8 510.0 595.8 510.2 595.4 509.4 595.4 508.0 596.0 506.9 597.4 506.4 599.0 506.3 600.6 506.7 601.4 507.5 601.4 509.3 600.8 510.0 599.9 510.5M591.8 502.7 591.9 502.1 592.3 501.6 592.8 501.2 593.5 500.9 594.3 500.8 598.9 500.8 599.7 500.9 600.4 501.2 600.9 501.6 601.3 502.1 601.4 502.7 601.4 503.1 601.3 503.7 600.9 504.2 600.4 504.7 599.7 504.9 598.9 505.0 594.3 505.0 593.5 504.9 592.8 504.7 592.3 504.2 591.9 503.7 591.8 503.1 591.8 502.7M591.8 497.3 591.9 496.7 592.3 496.2 592.8 495.8 593.5 495.5 594.3 495.4 598.9 495.4 599.7 495.5 600.4 495.8 600.9 496.2 601.3 496.7 601.4 497.3 601.4 497.7 601.3 498.3 600.9 498.8 600.4 499.2 599.7 499.5 598.9 499.6 594.3 499.6 593.5 499.5 592.8 499.2 592.3 498.8 591.9 498.3 591.8 497.7 591.8 497.3" stroke="#222" stroke-width="0.85" fill="none" stroke-linecap="round" stroke-linejoin="round"/><rect x="583.50" y="518.50" width="11.00" height="22.00" stroke="#6a6a6a" stroke-width="1.0" fill="none"/><path d="M585.6 535.6 584.8 535.9 584.2 536.4 583.8 537.0 583.7 537.6 583.9 538.3 584.4 538.8 585.1 539.2 586.0 539.5 587.0 539.6 590.3 539.6 591.3 539.5 592.2 539.2 592.9 538.8 593.4 538.3 593.6 537.6 593.5 537.0 593.1 536.4 592.5 535.9 591.7 535.6M583.7 530.1 583.7 533.6 587.9 533.9 587.4 533.1 587.4 531.6 588.1 530.6 589.4 530.0 591.1 529.9 592.8 530.4 593.6 531.2 593.6 533.0 593.0 533.7 592.0 534.1M585.9 528.5 584.5 528.0 583.8 527.1 583.8 526.0 584.8 525.1 586.2 524.7 587.6 524.9 588.7 525.6 593.6 528.7 593.6 524.5M585.1 521.4 583.7 520.6 593.6 520.6" stroke="#222" stroke-width="0.85" fill="none" stroke-linecap="round" stroke-linejoin="round"/><rect x="577.50" y="480.50" width="23.00" height="10.00" stroke="#6a6a6a" stroke-width="1.0" fill="none"/><path d="M582.4 482.6 582.1 481.8 581.6 481.2 581.0 480.9 580.3 480.8 579.7 481.0 579.1 481.5 578.7 482.2 578.4 483.0 578.3 483.9 578.3 487.2 578.4 488.1 578.7 488.9 579.1 489.6 579.7 490.1 580.3 490.3 581.0 490.2 581.6 489.9 582.1 489.3 582.4 488.5M588.0 480.8 584.4 480.8 584.2 484.8 585.0 484.3 586.5 484.3 587.6 485.0 588.2 486.3 588.3 487.9 587.8 489.5 587.0 490.3 585.1 490.3 584.4 489.7 583.9 488.8M593.5 481.8 592.8 480.9 591.3 480.8 590.2 481.8 589.6 484.1 589.5 486.7 589.5 487.4 589.6 486.7 589.8 486.0 590.2 485.4 590.6 485.0 591.2 484.7 591.7 484.6 592.3 484.7 592.8 485.0 593.2 485.4 593.6 486.0 593.8 486.7 593.9 487.4 593.8 488.2 593.6 488.9 593.2 489.5 592.8 489.9 592.3 490.2 591.7 490.3 591.2 490.2 590.6 489.9 590.2 489.5 589.8 488.9 589.6 488.2 589.5 487.4M597.3 485.2 596.8 485.1 596.3 484.8 595.9 484.3 595.6 483.7 595.5 483.0 595.6 482.3 595.9 481.7 596.3 481.2 596.8 480.9 597.3 480.8 597.9 480.9 598.4 481.2 598.8 481.7 599.1 482.3 599.2 483.0 599.1 483.7 598.8 484.3 598.4 484.8 597.9 485.1 597.3 485.2M597.3 485.0 597.9 485.1 598.4 485.3 598.9 485.8 599.2 486.3 599.4 487.0 599.5 487.6 599.4 488.3 599.2 489.0 598.9 489.5 598.4 489.9 597.9 490.2 597.3 490.3 596.8 490.2 596.3 489.9 595.8 489.5 595.5 489.0 595.2 488.3 595.2 487.6 595.2 487.0 595.5 486.3 595.8 485.8 596.3 485.3 596.8 485.1 597.3 485.0" stroke="#222" stroke-width="0.85" fill="none" stroke-linecap="round" stroke-linejoin="round"/><rect x="605.50" y="479.50" width="11.00" height="22.00" stroke="#6a6a6a" stroke-width="1.0" fill="none"/><path d="M607.8 496.4 607.0 496.7 606.4 497.2 606.0 497.8 605.9 498.4 606.1 499.0 606.6 499.5 607.3 499.9 608.2 500.2 609.2 500.3 612.7 500.3 613.7 500.2 614.6 499.9 615.3 499.5 615.8 499.0 616.0 498.4 615.9 497.8 615.5 497.2 614.9 496.7 614.1 496.4M605.9 491.1 605.9 494.5 610.1 494.7 609.6 493.9 609.6 492.5 610.3 491.5 611.8 490.9 613.5 490.9 615.2 491.3 616.0 492.1 616.0 493.8 615.4 494.6 614.4 495.0M605.9 485.7 605.9 489.1 610.1 489.4 609.6 488.6 609.6 487.2 610.3 486.1 611.8 485.6 613.5 485.5 615.2 485.9 616.0 486.8 616.0 488.5 615.4 489.2 614.4 489.6M607.3 482.6 605.9 481.8 616.0 481.8" stroke="#222" stroke-width="0.85" fill="none" stroke-linecap="round" stroke-linejoin="round"/><rect x="619.50" y="479.50" width="11.00" height="22.00" stroke="#6a6a6a" stroke-width="1.0" fill="none"/><path d="M621.9 496.6 621.0 497.0 620.4 497.5 620.0 498.0 619.9 498.7 620.1 499.3 620.6 499.8 621.4 500.2 622.3 500.5 623.3 500.6 626.8 500.6 627.8 500.5 628.7 500.2 629.5 499.8 630.0 499.3 630.2 498.7 630.1 498.0 629.7 497.5 629.1 497.0 628.2 496.6M619.9 491.2 619.9 494.7 624.2 494.9 623.7 494.1 623.7 492.7 624.4 491.6 625.9 491.1 627.6 491.0 629.4 491.4 630.2 492.3 630.2 494.0 629.6 494.8 628.6 495.2M619.9 489.3 619.9 485.9 624.0 487.8 624.1 486.8 624.8 486.0 626.4 485.7 628.1 485.7 629.5 486.2 630.2 486.8 630.2 488.7 629.7 489.4 628.6 489.8M619.9 484.4 619.9 480.2 630.2 483.1" stroke="#222" stroke-width="0.85" fill="none" stroke-linecap="round" stroke-linejoin="round"/><rect x="624.50" y="532.50" width="22.00" height="11.00" stroke="#6a6a6a" stroke-width="1.0" fill="none"/><path d="M629.2 535.0 628.9 534.2 628.4 533.6 627.8 533.2 627.2 533.1 626.5 533.3 626.0 533.8 625.6 534.5 625.3 535.4 625.2 536.4 625.2 539.9 625.3 540.9 625.6 541.8 626.0 542.5 626.5 543.0 627.2 543.2 627.8 543.1 628.4 542.7 628.9 542.1 629.2 541.3M634.7 533.1 631.2 533.1 630.9 537.3 631.7 536.8 633.2 536.8 634.2 537.5 634.8 539.0 634.9 540.7 634.4 542.4 633.6 543.2 631.8 543.2 631.1 542.6 630.7 541.6M640.1 533.1 636.6 533.1 636.4 537.3 637.2 536.8 638.7 536.8 639.7 537.5 640.3 539.0 640.3 540.7 639.9 542.4 639.1 543.2 637.3 543.2 636.6 542.6 636.1 541.6M643.9 533.1 644.5 533.2 645.0 533.6 645.4 534.2 645.7 534.9 645.8 535.7 645.8 540.6 645.7 541.4 645.4 542.1 645.0 542.7 644.5 543.1 643.9 543.2 643.5 543.2 642.9 543.1 642.4 542.7 642.0 542.1 641.7 541.4 641.6 540.6 641.6 535.7 641.7 534.9 642.0 534.2 642.4 533.6 642.9 533.2 643.5 533.1 643.9 533.1" stroke="#222" stroke-width="0.85" fill="none" stroke-linecap="round" stroke-linejoin="round"/><rect x="615.50" y="547.50" width="9.00" height="22.00" stroke="#6a6a6a" stroke-width="1.0" fill="none"/><path d="M617.4 564.6 616.6 565.0 616.1 565.4 615.8 566.0 615.7 566.6 615.9 567.2 616.3 567.7 616.9 568.1 617.7 568.4 618.6 568.5 621.5 568.5 622.4 568.4 623.2 568.1 623.8 567.7 624.2 567.2 624.4 566.6 624.3 566.0 624.0 565.4 623.5 565.0 622.7 564.6M615.7 559.4 615.7 562.7 619.4 563.0 618.9 562.2 618.9 560.8 619.5 559.8 620.7 559.2 622.2 559.2 623.7 559.6 624.4 560.4 624.4 562.1 623.9 562.8 623.0 563.2M617.6 557.8 616.4 557.3 615.8 556.4 615.8 555.4 616.7 554.5 617.9 554.1 619.1 554.3 620.0 554.9 624.4 557.9 624.4 553.9M618.3 548.6 619.0 548.7 619.6 548.9 620.2 549.2 620.6 549.6 620.8 550.1 620.9 550.6 620.8 551.2 620.6 551.6 620.2 552.1 619.6 552.4 619.0 552.6 618.3 552.7 617.6 552.6 617.0 552.4 616.5 552.1 616.0 551.6 615.8 551.2 615.7 550.6 615.8 550.1 616.0 549.6 616.5 549.2 617.0 548.9 617.6 548.7 618.3 548.6 619.0 548.6 621.4 548.7 623.5 549.2 624.4 550.2 624.4 551.0 623.7 552.1 623.1 552.3" stroke="#222" stroke-width="0.85" fill="none" stroke-linecap="round" stroke-linejoin="round"/><rect x="631.50" y="547.50" width="11.00" height="22.00" stroke="#6a6a6a" stroke-width="1.0" fill="none"/><path d="M633.8 564.6 632.9 565.0 632.3 565.4 631.9 566.0 631.8 566.6 632.0 567.2 632.5 567.7 633.3 568.1 634.2 568.4 635.2 568.5 638.8 568.5 639.8 568.4 640.7 568.1 641.5 567.7 642.0 567.2 642.2 566.6 642.1 566.0 641.7 565.4 641.1 565.0 640.2 564.6M631.8 559.4 631.8 562.7 636.2 563.0 635.6 562.2 635.6 560.8 636.4 559.8 637.8 559.2 639.6 559.2 641.4 559.6 642.2 560.4 642.2 562.1 641.6 562.8 640.5 563.2M636.6 555.9 636.5 556.4 636.1 556.9 635.6 557.3 634.9 557.5 634.2 557.6 633.5 557.5 632.8 557.3 632.3 556.9 631.9 556.4 631.8 555.9 631.9 555.4 632.3 554.9 632.8 554.5 633.5 554.3 634.2 554.2 634.9 554.3 635.6 554.5 636.1 554.9 636.5 555.4 636.6 555.9M636.4 555.9 636.5 555.4 636.8 554.9 637.2 554.5 637.8 554.2 638.5 553.9 639.3 553.9 640.0 553.9 640.7 554.2 641.3 554.5 641.8 554.9 642.1 555.4 642.2 555.9 642.1 556.4 641.8 556.9 641.3 557.3 640.7 557.7 640.0 557.9 639.3 557.9 638.5 557.9 637.8 557.7 637.2 557.3 636.8 556.9 636.5 556.4 636.4 555.9M631.8 550.4 631.9 549.9 632.3 549.4 632.9 548.9 633.7 548.7 634.5 548.6 639.5 548.6 640.3 548.7 641.1 548.9 641.7 549.4 642.1 549.9 642.2 550.4 642.2 550.8 642.1 551.4 641.7 551.9 641.1 552.3 640.3 552.6 639.5 552.7 634.5 552.7 633.7 552.6 632.9 552.3 632.3 551.9 631.9 551.4 631.8 550.8 631.8 550.4" stroke="#222" stroke-width="0.85" fill="none" stroke-linecap="round" stroke-linejoin="round"/><rect x="652.50" y="481.50" width="52.00" height="80.00" stroke="#808080" stroke-width="1.0" fill="none"/><path d="M673.5 540.6 672.1 541.5 671.1 542.6 670.5 544.1 670.4 545.6 670.8 547.1 671.5 548.4 672.7 549.4 674.1 550.1 675.7 550.3 681.2 550.3 682.7 550.1 684.1 549.5 685.2 548.5 686.0 547.3 686.4 545.9 686.4 544.5 686.0 543.1 685.2 541.9 684.1 541.0 682.7 540.4 681.2 540.2 679.6 540.2 679.6 544.0M670.4 525.9 670.4 534.4 677.2 535.0 676.4 533.0 676.4 529.5 677.5 527.0 679.7 525.6 682.5 525.4 685.2 526.4 686.5 528.5 686.5 532.7 685.5 534.6 683.9 535.6M670.4 515.3 670.6 513.9 671.2 512.6 672.1 511.6 673.3 510.9 674.6 510.7 682.3 510.7 683.6 510.9 684.8 511.6 685.7 512.6 686.3 513.9 686.5 515.3 686.5 516.3 686.3 517.7 685.7 519.0 684.8 520.0 683.6 520.6 682.3 520.9 674.6 520.9 673.3 520.6 672.1 520.0 671.2 519.0 670.6 517.7 670.4 516.3 670.4 515.3M672.7 501.9 670.4 499.9 686.5 499.9" stroke="#444" stroke-width="0.9" fill="none" stroke-linecap="round" stroke-linejoin="round"/><circle cx="692.60" cy="547.60" r="4.00" stroke="#555" stroke-width="1.0" fill="none"/><rect x="714.50" y="485.50" width="10.00" height="23.00" stroke="#6a6a6a" stroke-width="1.0" fill="none"/><path d="M723.7 507.0 714.7 507.0 714.7 504.0 714.7 504.0 714.8 503.7 715.1 503.3 715.5 503.1 716.0 502.9 716.6 502.8 717.3 502.8 717.9 502.9 718.4 503.1 718.8 503.3 719.1 503.7 719.2 504.0 719.2 507.0M719.2 504.7 723.7 502.8M714.7 497.4 714.7 501.0 718.5 501.2 718.0 500.4 718.0 498.9 718.7 497.9 719.9 497.3 721.5 497.2 723.0 497.7 723.7 498.5 723.7 500.3 723.2 501.1 722.3 501.5M716.7 495.8 715.4 495.3 714.8 494.4 714.8 493.3 715.7 492.4 717.0 491.9 718.2 492.1 719.2 492.8 723.7 496.0 723.7 491.7M714.7 488.1 714.8 487.5 715.1 487.0 715.7 486.6 716.3 486.3 717.0 486.2 721.4 486.2 722.1 486.3 722.7 486.6 723.3 487.0 723.6 487.5 723.7 488.1 723.7 488.5 723.6 489.1 723.3 489.7 722.7 490.1 722.1 490.4 721.4 490.4 717.0 490.4 716.3 490.4 715.7 490.1 715.1 489.7 714.8 489.1 714.7 488.5 714.7 488.1" stroke="#222" stroke-width="0.85" fill="none" stroke-linecap="round" stroke-linejoin="round"/><rect x="711.50" y="510.50" width="16.00" height="32.00" stroke="#6a6a6a" stroke-width="1.0" fill="none"/><path d="M715.1 535.2 714.0 535.7 713.1 536.3 712.6 537.1 712.5 537.9 712.8 538.7 713.5 539.4 714.5 539.9 715.7 540.3 717.1 540.4 721.8 540.4 723.2 540.3 724.4 539.9 725.4 539.4 726.1 538.7 726.4 537.9 726.3 537.1 725.8 536.3 724.9 535.7 723.8 535.2M712.5 527.7 712.5 532.2 718.3 532.5 717.6 531.5 717.6 529.6 718.6 528.2 720.6 527.5 722.9 527.4 725.3 528.0 726.4 529.1 726.4 531.3 725.6 532.3 724.2 532.8M726.4 521.4 712.5 521.4 721.7 525.3 721.7 519.9M712.5 514.7 712.7 514.0 713.2 513.3 714.0 512.8 715.0 512.4 716.1 512.3 722.8 512.3 723.9 512.4 724.9 512.8 725.7 513.3 726.2 514.0 726.4 514.7 726.4 515.3 726.2 516.0 725.7 516.7 724.9 517.2 723.9 517.6 722.8 517.7 716.1 517.7 715.0 517.6 714.0 517.2 713.2 516.7 712.7 516.0 712.5 515.3 712.5 514.7" stroke="#222" stroke-width="0.9" fill="none" stroke-linecap="round" stroke-linejoin="round"/><rect x="752.50" y="547.50" width="11.00" height="23.00" stroke="#6a6a6a" stroke-width="1.0" fill="none"/><path d="M754.6 565.5 753.8 565.9 753.1 566.4 752.8 567.0 752.7 567.6 752.9 568.2 753.4 568.8 754.1 569.2 755.0 569.5 755.9 569.6 759.3 569.6 760.2 569.5 761.1 569.2 761.8 568.8 762.3 568.2 762.5 567.6 762.4 567.0 762.1 566.4 761.4 565.9 760.6 565.5M752.7 560.0 752.7 563.5 756.8 563.8 756.3 563.0 756.3 561.5 757.0 560.4 758.4 559.8 760.0 559.7 761.7 560.2 762.5 561.0 762.5 562.8 761.9 563.6 760.9 564.0M757.2 556.3 757.1 556.9 756.8 557.4 756.3 557.8 755.7 558.0 755.0 558.1 754.3 558.0 753.6 557.8 753.1 557.4 752.8 556.9 752.7 556.3 752.8 555.8 753.1 555.3 753.6 554.9 754.3 554.6 755.0 554.5 755.7 554.6 756.3 554.9 756.8 555.3 757.1 555.8 757.2 556.3M757.0 556.3 757.1 555.8 757.4 555.2 757.8 554.8 758.4 554.5 759.0 554.2 759.8 554.2 760.5 554.2 761.1 554.5 761.7 554.8 762.1 555.2 762.4 555.8 762.5 556.3 762.4 556.9 762.1 557.4 761.7 557.8 761.1 558.2 760.5 558.4 759.8 558.5 759.0 558.4 758.4 558.2 757.8 557.8 757.4 557.4 757.1 556.9 757.0 556.3M754.1 551.1 752.7 550.2 762.5 550.2" stroke="#222" stroke-width="0.85" fill="none" stroke-linecap="round" stroke-linejoin="round"/><rect x="704.50" y="389.50" width="32.00" height="21.00" stroke="#6a6a6a" stroke-width="1.0" fill="none"/><path d="M707.7 391.1 712.6 391.1M710.2 391.1 710.2 408.6M719.2 391.1 715.2 391.1 714.9 398.5 715.8 397.6 717.5 397.6 718.7 398.8 719.4 401.3 719.5 404.3 719.0 407.2 718.0 408.6 715.9 408.6 715.1 407.6 714.6 405.8M724.1 391.1 724.8 391.4 725.4 392.0 725.9 393.0 726.2 394.3 726.3 395.7 726.3 404.1 726.2 405.5 725.9 406.8 725.4 407.8 724.8 408.4 724.1 408.6 723.6 408.6 723.0 408.4 722.3 407.8 721.9 406.8 721.5 405.5 721.4 404.1 721.4 395.7 721.5 394.3 721.9 393.0 722.3 392.0 723.0 391.4 723.6 391.1 724.1 391.1M731.0 391.1 731.7 391.4 732.3 392.0 732.8 393.0 733.1 394.3 733.2 395.7 733.2 404.1 733.1 405.5 732.8 406.8 732.3 407.8 731.7 408.4 731.0 408.6 730.5 408.6 729.8 408.4 729.2 407.8 728.7 406.8 728.4 405.5 728.3 404.1 728.3 395.7 728.4 394.3 728.7 393.0 729.2 392.0 729.8 391.4 730.5 391.1 731.0 391.1" stroke="#222" stroke-width="0.9" fill="none" stroke-linecap="round" stroke-linejoin="round"/><rect x="742.50" y="384.50" width="17.00" height="17.00" stroke="#808080" stroke-width="1.0" fill="none"/><rect x="743.50" y="387.50" width="5.00" height="6.00" stroke="#808080" stroke-width="1.0" fill="none"/><path d="M770.7 404.8 761.1 404.8 761.1 401.8 761.1 401.8 761.2 401.4 761.5 401.1 761.9 400.8 762.5 400.6 763.2 400.5 763.8 400.5 764.5 400.6 765.1 400.8 765.5 401.1 765.8 401.4 765.9 401.8 765.9 404.8M765.9 402.4 770.7 400.5M761.1 395.1 761.1 398.7 765.1 398.9 764.7 398.1 764.7 396.6 765.3 395.5 766.7 395.0 768.3 394.9 769.9 395.3 770.7 396.2 770.7 398.0 770.1 398.8 769.2 399.2M761.1 391.2 761.2 390.6 761.6 390.1 762.1 389.7 762.8 389.4 763.6 389.3 768.2 389.3 769.0 389.4 769.7 389.7 770.2 390.1 770.6 390.6 770.7 391.2 770.7 391.7 770.6 392.3 770.2 392.8 769.7 393.2 769.0 393.5 768.2 393.6 763.6 393.6 762.8 393.5 762.1 393.2 761.6 392.8 761.2 392.3 761.1 391.7 761.1 391.2M765.5 385.9 765.4 386.4 765.1 386.9 764.6 387.3 764.0 387.6 763.3 387.7 762.6 387.6 762.0 387.3 761.5 386.9 761.2 386.4 761.1 385.9 761.2 385.3 761.5 384.8 762.0 384.4 762.6 384.1 763.3 384.0 764.0 384.1 764.6 384.4 765.1 384.8 765.4 385.3 765.5 385.9M765.3 385.9 765.4 385.3 765.7 384.8 766.1 384.3 766.7 384.0 767.3 383.8 768.0 383.7 768.7 383.8 769.4 384.0 769.9 384.3 770.3 384.8 770.6 385.3 770.7 385.9 770.6 386.4 770.3 386.9 769.9 387.4 769.4 387.7 768.7 387.9 768.0 388.0 767.3 387.9 766.7 387.7 766.1 387.4 765.7 386.9 765.4 386.4 765.3 385.9" stroke="#444" stroke-width="0.8" fill="none" stroke-linecap="round" stroke-linejoin="round"/><rect x="655.50" y="417.50" width="22.00" height="11.00" stroke="#6a6a6a" stroke-width="1.0" fill="none"/><path d="M660.2 419.9 659.8 419.0 659.4 418.4 658.8 418.0 658.1 417.9 657.5 418.1 657.0 418.6 656.6 419.4 656.3 420.3 656.2 421.3 656.2 424.8 656.3 425.8 656.6 426.7 657.0 427.5 657.5 428.0 658.1 428.2 658.8 428.1 659.4 427.7 659.8 427.1 660.2 426.2M665.6 417.9 662.1 417.9 661.9 422.2 662.7 421.7 664.1 421.7 665.2 422.4 665.7 423.9 665.8 425.6 665.4 427.4 664.6 428.2 662.8 428.2 662.1 427.6 661.6 426.6M671.1 417.9 667.6 417.9 667.3 422.2 668.1 421.7 669.6 421.7 670.6 422.4 671.2 423.9 671.3 425.6 670.8 427.4 670.0 428.2 668.2 428.2 667.5 427.6 667.1 426.6M672.7 420.2 673.1 418.7 674.1 418.0 675.2 418.0 676.1 419.0 676.5 420.5 676.3 421.9 675.6 423.0 672.5 428.2 676.7 428.2" stroke="#222" stroke-width="0.85" fill="none" stroke-linecap="round" stroke-linejoin="round"/><rect x="684.50" y="417.50" width="22.00" height="11.00" stroke="#6a6a6a" stroke-width="1.0" fill="none"/><path d="M689.3 419.9 688.9 419.0 688.4 418.4 687.9 418.0 687.2 417.9 686.6 418.1 686.1 418.6 685.7 419.4 685.4 420.3 685.3 421.3 685.3 424.8 685.4 425.8 685.7 426.7 686.1 427.5 686.6 428.0 687.2 428.2 687.9 428.1 688.4 427.7 688.9 427.1 689.3 426.2M694.7 417.9 691.2 417.9 691.0 422.2 691.8 421.7 693.2 421.7 694.3 422.4 694.8 423.9 694.9 425.6 694.5 427.4 693.6 428.2 691.9 428.2 691.1 427.6 690.7 426.6M700.1 417.9 696.6 417.9 696.4 422.2 697.2 421.7 698.6 421.7 699.7 422.4 700.2 423.9 700.3 425.6 699.9 427.4 699.0 428.2 697.3 428.2 696.5 427.6 696.1 426.6M702.0 417.9 705.4 417.9 703.5 422.0 704.5 422.1 705.3 422.8 705.7 424.4 705.6 426.1 705.2 427.5 704.5 428.2 702.6 428.2 702.0 427.7 701.5 426.6" stroke="#222" stroke-width="0.85" fill="none" stroke-linecap="round" stroke-linejoin="round"/><rect x="716.50" y="419.50" width="23.00" height="11.00" stroke="#6a6a6a" stroke-width="1.0" fill="none"/><path d="M721.4 421.8 721.1 421.0 720.6 420.4 720.0 420.0 719.3 419.9 718.7 420.1 718.1 420.6 717.7 421.3 717.4 422.2 717.3 423.2 717.3 426.5 717.4 427.5 717.7 428.4 718.1 429.1 718.7 429.6 719.3 429.8 720.0 429.7 720.6 429.3 721.1 428.7 721.4 427.9M727.0 419.9 723.4 419.9 723.2 424.1 724.0 423.6 725.5 423.6 726.6 424.3 727.2 425.6 727.3 427.3 726.8 429.0 726.0 429.8 724.1 429.8 723.4 429.2 722.9 428.2M732.7 419.9 729.1 419.9 728.8 424.1 729.6 423.6 731.1 423.6 732.2 424.3 732.8 425.6 732.9 427.3 732.4 429.0 731.6 429.8 729.8 429.8 729.0 429.2 728.5 428.2M738.2 420.9 737.4 420.0 735.9 419.9 734.8 420.9 734.3 423.4 734.2 426.0 734.2 426.8 734.2 426.1 734.5 425.3 734.8 424.7 735.3 424.3 735.8 424.0 736.3 423.9 736.9 424.0 737.4 424.3 737.9 424.7 738.2 425.3 738.4 426.1 738.5 426.8 738.4 427.6 738.2 428.3 737.9 428.9 737.4 429.4 736.9 429.7 736.3 429.8 735.8 429.7 735.3 429.4 734.8 428.9 734.5 428.3 734.2 427.6 734.2 426.8" stroke="#222" stroke-width="0.85" fill="none" stroke-linecap="round" stroke-linejoin="round"/><rect x="754.50" y="409.50" width="12.00" height="22.00" stroke="#6a6a6a" stroke-width="1.0" fill="none"/><path d="M757.3 426.5 756.4 426.9 755.8 427.4 755.4 427.9 755.3 428.6 755.5 429.2 756.0 429.7 756.8 430.1 757.7 430.4 758.7 430.5 762.3 430.5 763.3 430.4 764.2 430.1 765.0 429.7 765.5 429.2 765.7 428.6 765.6 427.9 765.2 427.4 764.6 426.9 763.7 426.5M765.7 422.1 755.3 422.1 762.2 425.1 762.2 420.9M757.6 419.5 756.1 419.1 755.4 418.1 755.4 417.1 756.4 416.1 757.9 415.7 759.4 415.9 760.5 416.6 765.7 419.7 765.7 415.5M755.3 412.0 755.4 411.4 755.8 410.9 756.4 410.5 757.2 410.2 758.0 410.1 763.0 410.1 763.8 410.2 764.6 410.5 765.2 410.9 765.6 411.4 765.7 412.0 765.7 412.4 765.6 413.0 765.2 413.5 764.6 413.9 763.8 414.2 763.0 414.3 758.0 414.3 757.2 414.2 756.4 413.9 755.8 413.5 755.4 413.0 755.3 412.4 755.3 412.0" stroke="#222" stroke-width="0.85" fill="none" stroke-linecap="round" stroke-linejoin="round"/><rect x="755.50" y="437.50" width="10.00" height="22.00" stroke="#6a6a6a" stroke-width="1.0" fill="none"/><path d="M765.2 458.5 755.8 458.5 755.8 455.6 755.8 455.6 755.9 455.2 756.2 454.9 756.6 454.6 757.2 454.4 757.8 454.3 758.5 454.3 759.1 454.4 759.7 454.6 760.1 454.9 760.4 455.2 760.5 455.6 760.5 458.5M760.5 456.2 765.2 454.3M765.2 450.0 755.8 450.0 762.0 453.1 762.0 448.9M757.9 447.5 756.6 447.0 755.9 446.1 755.9 445.0 756.8 444.1 758.1 443.6 759.5 443.9 760.5 444.5 765.2 447.6 765.2 443.4M755.8 439.9 755.9 439.3 756.3 438.8 756.8 438.4 757.5 438.1 758.2 438.0 762.8 438.0 763.5 438.1 764.2 438.4 764.7 438.8 765.1 439.3 765.2 439.9 765.2 440.3 765.1 440.9 764.7 441.4 764.2 441.8 763.5 442.1 762.8 442.2 758.2 442.2 757.5 442.1 756.8 441.8 756.3 441.4 755.9 440.9 755.8 440.3 755.8 439.9" stroke="#222" stroke-width="0.85" fill="none" stroke-linecap="round" stroke-linejoin="round"/><rect x="656.50" y="430.50" width="11.00" height="23.00" stroke="#6a6a6a" stroke-width="1.0" fill="none"/><path d="M658.7 448.0 657.8 448.4 657.2 448.8 656.8 449.4 656.7 450.1 656.9 450.7 657.4 451.2 658.2 451.6 659.1 451.9 660.1 452.0 663.6 452.0 664.6 451.9 665.5 451.6 666.3 451.2 666.8 450.7 667.0 450.1 666.9 449.4 666.5 448.8 665.9 448.4 665.0 448.0M656.7 442.6 656.7 446.1 661.0 446.3 660.5 445.5 660.5 444.1 661.2 443.0 662.7 442.5 664.4 442.4 666.2 442.8 667.0 443.6 667.0 445.4 666.4 446.1 665.4 446.6M656.7 440.6 656.7 437.3 660.8 439.1 660.9 438.2 661.6 437.4 663.2 437.0 664.9 437.0 666.3 437.5 667.0 438.2 667.0 440.1 666.5 440.7 665.4 441.1M657.7 431.8 656.8 432.5 656.7 434.0 657.7 435.1 660.3 435.6 663.1 435.7 663.9 435.7 663.1 435.6 662.4 435.4 661.7 435.1 661.2 434.6 660.9 434.1 660.8 433.6 660.9 433.1 661.2 432.5 661.7 432.1 662.4 431.8 663.1 431.6 663.9 431.5 664.7 431.6 665.5 431.8 666.1 432.1 666.6 432.5 666.9 433.1 667.0 433.6 666.9 434.1 666.6 434.6 666.1 435.1 665.5 435.4 664.7 435.6 663.9 435.7" stroke="#222" stroke-width="0.85" fill="none" stroke-linecap="round" stroke-linejoin="round"/><rect x="656.50" y="453.50" width="11.00" height="22.00" stroke="#6a6a6a" stroke-width="1.0" fill="none"/><path d="M658.7 470.4 657.8 470.7 657.2 471.2 656.8 471.8 656.7 472.4 656.9 473.0 657.4 473.5 658.2 473.9 659.1 474.2 660.1 474.3 663.6 474.3 664.6 474.2 665.5 473.9 666.3 473.5 666.8 473.0 667.0 472.4 666.9 471.8 666.5 471.2 665.9 470.7 665.0 470.4M656.7 465.0 656.7 468.4 661.0 468.7 660.5 467.9 660.5 466.4 661.2 465.4 662.7 464.9 664.4 464.8 666.2 465.2 667.0 466.0 667.0 467.8 666.4 468.5 665.4 468.9M656.7 463.0 656.7 459.7 660.8 461.5 660.9 460.6 661.6 459.8 663.2 459.4 664.9 459.5 666.3 459.9 667.0 460.6 667.0 462.5 666.5 463.1 665.4 463.5M656.7 454.2 656.7 457.6 661.0 457.9 660.5 457.1 660.5 455.7 661.2 454.6 662.7 454.1 664.4 454.0 666.2 454.4 667.0 455.2 667.0 457.0 666.4 457.7 665.4 458.1" stroke="#222" stroke-width="0.85" fill="none" stroke-linecap="round" stroke-linejoin="round"/><rect x="673.50" y="433.50" width="17.00" height="17.00" stroke="#808080" stroke-width="1.0" fill="none"/><line x1="673.30" y1="441.50" x2="690.40" y2="441.50" stroke="#666" stroke-width="1.0"/><path d="M694.7 448.6 694.7 437.0 698.5 437.0 698.5 437.0 698.9 437.1 699.3 437.5 699.7 438.0 699.9 438.7 700.0 439.5 700.0 440.3 699.9 441.1 699.7 441.8 699.3 442.3 698.9 442.7 698.5 442.8 694.7 442.8M697.7 442.8 700.1 448.6M707.6 437.0 703.1 437.0 702.8 441.9 703.8 441.3 705.7 441.3 707.0 442.1 707.7 443.7 707.8 445.7 707.3 447.7 706.2 448.6 704.0 448.6 703.0 447.9 702.5 446.7M712.5 438.6 713.6 437.0 713.6 448.6M718.0 437.0 723.4 437.0 719.6 448.6" stroke="#444" stroke-width="0.9" fill="none" stroke-linecap="round" stroke-linejoin="round"/><rect x="673.50" y="455.50" width="17.00" height="17.00" stroke="#808080" stroke-width="1.0" fill="none"/><line x1="673.30" y1="463.50" x2="690.40" y2="463.50" stroke="#999" stroke-width="1.0"/><path d="M694.7 469.8 694.7 459.2 698.5 459.2 698.5 459.2 698.9 459.3 699.3 459.6 699.7 460.1 699.9 460.7 700.0 461.5 700.0 462.2 699.9 463.0 699.7 463.6 699.3 464.1 698.9 464.4 698.5 464.5 694.7 464.5M697.7 464.5 700.1 469.8M707.6 459.2 703.1 459.2 702.8 463.7 703.8 463.1 705.7 463.1 707.0 463.9 707.7 465.3 707.8 467.1 707.3 469.0 706.2 469.8 704.0 469.8 703.0 469.2 702.5 468.1M712.5 460.7 713.6 459.2 713.6 469.8M723.0 460.3 722.1 459.3 720.2 459.2 718.8 460.3 718.1 462.9 718.0 465.8 718.0 466.6 718.1 465.8 718.4 465.0 718.8 464.4 719.4 463.9 720.0 463.5 720.7 463.4 721.4 463.5 722.1 463.9 722.6 464.4 723.0 465.0 723.3 465.8 723.4 466.6 723.3 467.4 723.0 468.2 722.6 468.9 722.1 469.4 721.4 469.7 720.7 469.8 720.0 469.7 719.4 469.4 718.8 468.9 718.4 468.2 718.1 467.4 718.0 466.6" stroke="#444" stroke-width="0.9" fill="none" stroke-linecap="round" stroke-linejoin="round"/><rect x="731.50" y="433.50" width="16.00" height="35.00" stroke="#6a6a6a" stroke-width="1.0" fill="none"/><path d="M733.1 465.8 746.2 465.8 746.2 460.0M733.1 452.2 733.1 457.0 738.7 457.4 738.0 456.3 738.0 454.3 738.9 452.8 740.7 452.1 743.0 452.0 745.2 452.5 746.2 453.7 746.2 456.1 745.5 457.1 744.2 457.7M733.1 446.5 733.3 445.7 733.8 444.9 734.6 444.4 735.5 444.0 736.6 443.9 742.8 443.9 743.9 444.0 744.8 444.4 745.6 444.9 746.1 445.7 746.2 446.5 746.2 447.1 746.1 447.9 745.6 448.6 744.8 449.2 743.9 449.5 742.8 449.6 736.6 449.6 735.5 449.5 734.6 449.2 733.8 448.6 733.3 447.9 733.1 447.1 733.1 446.5M734.5 436.3 733.3 437.2 733.1 439.3 734.5 440.7 737.7 441.5 741.3 441.6 742.3 441.6 741.3 441.5 740.4 441.2 739.5 440.7 738.9 440.1 738.5 439.4 738.4 438.7 738.5 437.9 738.9 437.2 739.5 436.6 740.4 436.2 741.3 435.9 742.3 435.8 743.3 435.9 744.3 436.2 745.1 436.6 745.7 437.2 746.1 437.9 746.2 438.7 746.1 439.4 745.7 440.1 745.1 440.7 744.3 441.2 743.3 441.5 742.3 441.6" stroke="#222" stroke-width="0.9" fill="none" stroke-linecap="round" stroke-linejoin="round"/><rect x="321.50" y="604.50" width="32.00" height="15.00" stroke="#6a6a6a" stroke-width="1.0" fill="none"/><path d="M331.4 609.7 331.1 609.1 330.7 608.6 330.2 608.4 329.6 608.3 329.1 608.5 328.6 608.8 328.2 609.4 328.0 610.1 327.9 610.8 327.9 613.4 328.0 614.1 328.2 614.8 328.6 615.4 329.1 615.7 329.6 615.9 330.2 615.8 330.7 615.6 331.1 615.1 331.4 614.5M336.6 610.6 336.5 611.2 336.3 611.7 336.0 612.2 335.6 612.6 335.2 612.8 334.7 612.9 334.2 612.8 333.8 612.6 333.4 612.2 333.1 611.7 332.9 611.2 332.9 610.6 332.9 610.0 333.1 609.4 333.4 609.0 333.8 608.6 334.2 608.4 334.7 608.3 335.2 608.4 335.6 608.6 336.0 609.0 336.3 609.4 336.5 610.0 336.6 610.6 336.6 611.2 336.5 613.2 336.0 615.1 335.1 615.9 334.3 615.9 333.4 615.3 333.2 614.8M339.7 611.8 339.2 611.7 338.8 611.5 338.4 611.1 338.2 610.6 338.1 610.0 338.2 609.5 338.4 609.0 338.8 608.6 339.2 608.4 339.7 608.3 340.2 608.4 340.6 608.6 340.9 609.0 341.2 609.5 341.2 610.0 341.2 610.6 340.9 611.1 340.6 611.5 340.2 611.7 339.7 611.8M339.7 611.6 340.2 611.7 340.6 611.9 341.0 612.3 341.3 612.7 341.5 613.2 341.5 613.8 341.5 614.3 341.3 614.8 341.0 615.3 340.6 615.6 340.2 615.8 339.7 615.9 339.2 615.8 338.8 615.6 338.4 615.3 338.1 614.8 337.9 614.3 337.8 613.8 337.9 613.2 338.1 612.7 338.4 612.3 338.8 611.9 339.2 611.7 339.7 611.6M343.3 608.3 346.2 608.3 344.6 611.3 345.4 611.4 346.1 611.9 346.5 613.1 346.4 614.4 346.0 615.4 345.4 615.9 343.7 615.9 343.2 615.5 342.8 614.7" stroke="#333" stroke-width="0.75" fill="none" stroke-linecap="round" stroke-linejoin="round"/><rect x="358.50" y="604.50" width="33.00" height="15.00" stroke="#6a6a6a" stroke-width="1.0" fill="none"/><path d="M366.0 608.5 365.5 607.6 364.9 606.8 364.1 606.4 363.2 606.3 362.4 606.6 361.6 607.1 361.0 608.0 360.6 609.0 360.5 610.2 360.5 614.2 360.6 615.4 361.0 616.4 361.6 617.3 362.4 617.8 363.2 618.1 364.1 618.0 364.9 617.6 365.5 616.8 366.0 615.9M374.4 609.8 374.3 610.8 374.0 611.6 373.5 612.3 372.9 612.9 372.2 613.3 371.5 613.4 370.7 613.3 370.1 612.9 369.5 612.3 369.0 611.6 368.7 610.8 368.6 609.8 368.7 608.9 369.0 608.1 369.5 607.3 370.1 606.8 370.7 606.4 371.5 606.3 372.2 606.4 372.9 606.8 373.5 607.3 374.0 608.1 374.3 608.9 374.4 609.8 374.4 610.8 374.3 614.0 373.5 616.9 372.1 618.1 370.9 618.1 369.5 617.2 369.1 616.3M379.6 611.7 378.9 611.6 378.2 611.2 377.6 610.6 377.3 609.9 377.2 609.0 377.3 608.2 377.6 607.4 378.2 606.8 378.9 606.4 379.6 606.3 380.4 606.4 381.0 606.8 381.6 607.4 381.9 608.2 382.0 609.0 381.9 609.9 381.6 610.6 381.0 611.2 380.4 611.6 379.6 611.7M379.6 611.5 380.4 611.6 381.0 611.9 381.6 612.5 382.1 613.1 382.4 613.9 382.5 614.8 382.4 615.7 382.1 616.4 381.6 617.1 381.0 617.7 380.4 618.0 379.6 618.1 378.9 618.0 378.2 617.7 377.6 617.1 377.1 616.4 376.8 615.7 376.7 614.8 376.8 613.9 377.1 613.1 377.6 612.5 378.2 611.9 378.9 611.6 379.6 611.5M389.0 618.1 389.0 606.3 384.8 614.1 390.6 614.1" stroke="#333" stroke-width="0.9" fill="none" stroke-linecap="round" stroke-linejoin="round"/><rect x="397.50" y="603.50" width="22.00" height="17.00" stroke="#808080" stroke-width="1.0" fill="none"/><path d="M400.8 612.9 400.8 604.6 404.2 612.9 404.2 604.6M408.6 607.1 408.5 607.7 408.4 608.3 408.1 608.9 407.7 609.2 407.3 609.5 406.9 609.6 406.5 609.5 406.1 609.2 405.7 608.9 405.4 608.3 405.3 607.7 405.2 607.1 405.3 606.4 405.4 605.8 405.7 605.3 406.1 604.9 406.5 604.7 406.9 604.6 407.3 604.7 407.7 604.9 408.1 605.3 408.4 605.8 408.5 606.4 408.6 607.1 408.6 607.8 408.5 610.0 408.1 612.1 407.2 612.9 406.6 612.9 405.7 612.2 405.5 611.7M409.6 604.6 413.0 604.6 410.6 612.9M415.9 604.6 416.3 604.7 416.8 605.0 417.1 605.5 417.3 606.1 417.4 606.8 417.4 610.7 417.3 611.4 417.1 612.0 416.8 612.5 416.3 612.8 415.9 612.9 415.5 612.9 415.1 612.8 414.6 612.5 414.3 612.0 414.1 611.4 414.0 610.7 414.0 606.8 414.1 606.1 414.3 605.5 414.6 605.0 415.1 604.7 415.5 604.6 415.9 604.6" stroke="#333" stroke-width="0.8" fill="none" stroke-linecap="round" stroke-linejoin="round"/><circle cx="401.70" cy="615.50" r="0.90" stroke="#555" stroke-width="0.7" fill="none"/><rect x="426.50" y="603.50" width="16.00" height="32.00" stroke="#6a6a6a" stroke-width="1.0" fill="none"/><path d="M431.5 625.8 430.8 626.1 430.2 626.5 429.9 627.0 429.8 627.6 430.0 628.1 430.4 628.5 431.1 628.9 431.9 629.1 432.8 629.2 435.9 629.2 436.8 629.1 437.6 628.9 438.3 628.5 438.7 628.1 438.9 627.6 438.8 627.0 438.5 626.5 437.9 626.1 437.2 625.8M432.5 621.1 433.2 621.1 433.9 621.3 434.5 621.6 434.9 622.0 435.2 622.4 435.3 622.8 435.2 623.3 434.9 623.7 434.5 624.1 433.9 624.4 433.2 624.6 432.5 624.6 431.8 624.6 431.2 624.4 430.6 624.1 430.2 623.7 429.9 623.3 429.8 622.8 429.9 622.4 430.2 622.0 430.6 621.6 431.2 621.3 431.8 621.1 432.5 621.1 433.3 621.1 435.7 621.2 438.0 621.6 438.9 622.5 438.9 623.2 438.2 624.1 437.5 624.3M434.0 618.3 433.9 618.7 433.6 619.1 433.1 619.5 432.5 619.7 431.9 619.7 431.2 619.7 430.7 619.5 430.2 619.1 429.9 618.7 429.8 618.3 429.9 617.8 430.2 617.4 430.7 617.1 431.2 616.8 431.9 616.8 432.5 616.8 433.1 617.1 433.6 617.4 433.9 617.8 434.0 618.3M433.8 618.3 433.9 617.8 434.1 617.4 434.6 617.0 435.1 616.7 435.7 616.5 436.4 616.5 437.0 616.5 437.6 616.7 438.2 617.0 438.6 617.4 438.8 617.8 438.9 618.3 438.8 618.7 438.6 619.1 438.2 619.5 437.6 619.8 437.0 620.0 436.4 620.0 435.7 620.0 435.1 619.8 434.6 619.5 434.1 619.1 433.9 618.7 433.8 618.3M431.8 615.3 430.5 614.9 429.9 614.1 429.9 613.2 430.8 612.4 432.1 612.1 433.3 612.3 434.4 612.8 438.9 615.4 438.9 611.9" stroke="#333" stroke-width="0.75" fill="none" stroke-linecap="round" stroke-linejoin="round"/><rect x="320.50" y="628.50" width="22.00" height="10.00" stroke="#6a6a6a" stroke-width="1.0" fill="none"/><path d="M325.7 630.8 325.4 630.1 324.9 629.5 324.4 629.2 323.8 629.1 323.2 629.3 322.7 629.7 322.3 630.4 322.1 631.1 322.0 632.0 322.0 635.0 322.1 635.9 322.3 636.6 322.7 637.3 323.2 637.7 323.8 637.9 324.4 637.8 324.9 637.5 325.4 636.9 325.7 636.2M330.9 631.7 330.9 632.4 330.7 633.1 330.4 633.6 329.9 634.0 329.5 634.3 329.0 634.4 328.5 634.3 328.0 634.0 327.6 633.6 327.3 633.1 327.1 632.4 327.0 631.7 327.1 631.1 327.3 630.4 327.6 629.9 328.0 629.5 328.5 629.2 329.0 629.1 329.5 629.2 329.9 629.5 330.4 629.9 330.7 630.4 330.9 631.1 330.9 631.7 330.9 632.4 330.8 634.8 330.3 637.0 329.4 637.9 328.6 637.9 327.6 637.2 327.4 636.6M332.1 629.1 336.0 629.1 333.2 637.9M339.1 633.1 338.6 633.0 338.1 632.8 337.7 632.3 337.5 631.7 337.4 631.1 337.5 630.5 337.7 629.9 338.1 629.5 338.6 629.2 339.1 629.1 339.6 629.2 340.0 629.5 340.4 629.9 340.6 630.5 340.7 631.1 340.6 631.7 340.4 632.3 340.0 632.8 339.6 633.0 339.1 633.1M339.1 633.0 339.6 633.1 340.0 633.3 340.4 633.7 340.7 634.2 340.9 634.8 341.0 635.4 340.9 636.1 340.7 636.7 340.4 637.2 340.0 637.6 339.6 637.8 339.1 637.9 338.6 637.8 338.1 637.6 337.7 637.2 337.4 636.7 337.2 636.1 337.1 635.4 337.2 634.8 337.4 634.2 337.7 633.7 338.1 633.3 338.6 633.1 339.1 633.0" stroke="#333" stroke-width="0.75" fill="none" stroke-linecap="round" stroke-linejoin="round"/><rect x="343.50" y="626.50" width="22.00" height="10.00" stroke="#6a6a6a" stroke-width="1.0" fill="none"/><path d="M344.7 635.6 344.7 627.1 347.5 627.1 347.5 627.1 347.8 627.2 348.1 627.4 348.4 627.8 348.6 628.3 348.7 628.9 348.7 629.5 348.6 630.1 348.4 630.6 348.1 631.0 347.8 631.3 347.5 631.3 344.7 631.3M346.9 631.3 348.7 635.6M353.9 629.6 353.8 630.3 353.6 630.9 353.3 631.5 352.9 631.9 352.4 632.1 351.9 632.2 351.3 632.1 350.9 631.9 350.5 631.5 350.1 630.9 349.9 630.3 349.9 629.6 349.9 629.0 350.1 628.4 350.5 627.8 350.9 627.4 351.3 627.2 351.9 627.1 352.4 627.2 352.9 627.4 353.3 627.8 353.6 628.4 353.8 629.0 353.9 629.6 353.9 630.3 353.8 632.6 353.3 634.8 352.3 635.6 351.5 635.6 350.5 634.9 350.2 634.3M355.0 627.1 359.0 627.1 356.2 635.6M361.9 628.3 362.7 627.1 362.7 635.6" stroke="#333" stroke-width="0.75" fill="none" stroke-linecap="round" stroke-linejoin="round"/><rect x="370.50" y="626.50" width="22.00" height="10.00" stroke="#6a6a6a" stroke-width="1.0" fill="none"/><path d="M371.7 635.6 371.7 627.1 374.4 627.1 374.4 627.1 374.7 627.2 375.0 627.4 375.3 627.8 375.5 628.3 375.6 628.9 375.6 629.5 375.5 630.1 375.3 630.6 375.0 631.0 374.7 631.3 374.4 631.3 371.7 631.3M373.8 631.3 375.6 635.6M380.6 629.6 380.6 630.3 380.4 630.9 380.1 631.5 379.6 631.9 379.2 632.1 378.7 632.2 378.2 632.1 377.7 631.9 377.3 631.5 377.0 630.9 376.8 630.3 376.7 629.6 376.8 629.0 377.0 628.4 377.3 627.8 377.7 627.4 378.2 627.2 378.7 627.1 379.2 627.2 379.6 627.4 380.1 627.8 380.4 628.4 380.6 629.0 380.6 629.6 380.6 630.3 380.5 632.6 380.0 634.8 379.1 635.6 378.3 635.6 377.3 634.9 377.1 634.3M381.8 627.1 385.7 627.1 382.9 635.6M390.5 627.1 387.3 627.1 387.1 630.7 387.8 630.2 389.1 630.2 390.1 630.8 390.6 632.0 390.7 633.5 390.3 634.9 389.5 635.6 387.9 635.6 387.2 635.1 386.8 634.2" stroke="#333" stroke-width="0.75" fill="none" stroke-linecap="round" stroke-linejoin="round"/><rect x="392.50" y="626.50" width="23.00" height="10.00" stroke="#6a6a6a" stroke-width="1.0" fill="none"/><path d="M393.9 635.6 393.9 627.1 396.7 627.1 396.7 627.1 397.1 627.2 397.4 627.4 397.7 627.8 397.9 628.3 397.9 628.9 397.9 629.5 397.9 630.1 397.7 630.6 397.4 631.0 397.1 631.3 396.7 631.3 393.9 631.3M396.1 631.3 398.0 635.6M403.2 629.6 403.2 630.3 403.0 630.9 402.6 631.5 402.2 631.9 401.7 632.1 401.2 632.2 400.7 632.1 400.2 631.9 399.8 631.5 399.5 630.9 399.2 630.3 399.2 629.6 399.2 629.0 399.5 628.4 399.8 627.8 400.2 627.4 400.7 627.2 401.2 627.1 401.7 627.2 402.2 627.4 402.6 627.8 403.0 628.4 403.2 629.0 403.2 629.6 403.2 630.3 403.2 632.6 402.6 634.8 401.6 635.6 400.8 635.6 399.8 634.9 399.5 634.3M404.5 627.1 408.5 627.1 405.7 635.6M412.7 635.6 412.7 627.1 409.7 632.7 413.8 632.7" stroke="#333" stroke-width="0.75" fill="none" stroke-linecap="round" stroke-linejoin="round"/><rect x="320.50" y="641.50" width="22.00" height="11.00" stroke="#6a6a6a" stroke-width="1.0" fill="none"/><path d="M325.7 644.4 325.4 643.7 324.9 643.1 324.4 642.8 323.8 642.7 323.2 642.9 322.7 643.3 322.3 644.0 322.1 644.8 322.0 645.7 322.0 648.7 322.1 649.6 322.3 650.4 322.7 651.1 323.2 651.5 323.8 651.7 324.4 651.6 324.9 651.3 325.4 650.7 325.7 650.0M330.9 645.4 330.9 646.1 330.7 646.8 330.4 647.3 329.9 647.7 329.5 648.0 329.0 648.1 328.5 648.0 328.0 647.7 327.6 647.3 327.3 646.8 327.1 646.1 327.0 645.4 327.1 644.7 327.3 644.0 327.6 643.5 328.0 643.1 328.5 642.8 329.0 642.7 329.5 642.8 329.9 643.1 330.4 643.5 330.7 644.0 330.9 644.7 330.9 645.4 330.9 646.1 330.8 648.5 330.3 650.8 329.4 651.7 328.6 651.7 327.6 651.0 327.4 650.4M332.1 642.7 336.0 642.7 333.2 651.7M341.0 645.4 340.9 646.1 340.7 646.8 340.4 647.3 340.0 647.7 339.6 648.0 339.1 648.1 338.6 648.0 338.1 647.7 337.7 647.3 337.4 646.8 337.2 646.1 337.1 645.4 337.2 644.7 337.4 644.0 337.7 643.5 338.1 643.1 338.6 642.8 339.1 642.7 339.6 642.8 340.0 643.1 340.4 643.5 340.7 644.0 340.9 644.7 341.0 645.4 341.0 646.1 340.9 648.5 340.4 650.8 339.4 651.7 338.7 651.7 337.7 651.0 337.4 650.4" stroke="#333" stroke-width="0.75" fill="none" stroke-linecap="round" stroke-linejoin="round"/><rect x="320.50" y="655.50" width="22.00" height="11.00" stroke="#6a6a6a" stroke-width="1.0" fill="none"/><path d="M325.7 658.2 325.4 657.5 324.9 656.9 324.4 656.6 323.8 656.5 323.2 656.7 322.7 657.1 322.3 657.8 322.1 658.6 322.0 659.5 322.0 662.6 322.1 663.5 322.3 664.3 322.7 665.0 323.2 665.4 323.8 665.6 324.4 665.5 324.9 665.2 325.4 664.6 325.7 663.9M330.9 659.2 330.9 659.9 330.7 660.6 330.4 661.2 329.9 661.6 329.5 661.9 329.0 662.0 328.5 661.9 328.0 661.6 327.6 661.2 327.3 660.6 327.1 659.9 327.0 659.2 327.1 658.5 327.3 657.9 327.6 657.3 328.0 656.9 328.5 656.6 329.0 656.5 329.5 656.6 329.9 656.9 330.4 657.3 330.7 657.9 330.9 658.5 330.9 659.2 330.9 660.0 330.8 662.4 330.3 664.7 329.4 665.6 328.6 665.6 327.6 664.9 327.4 664.2M332.1 656.5 336.0 656.5 333.2 665.6M337.1 656.5 341.0 656.5 338.3 665.6" stroke="#333" stroke-width="0.75" fill="none" stroke-linecap="round" stroke-linejoin="round"/><rect x="320.50" y="670.50" width="22.00" height="10.00" stroke="#6a6a6a" stroke-width="1.0" fill="none"/><path d="M322.0 679.6 322.0 671.2 324.7 671.2 324.7 671.2 325.0 671.3 325.3 671.5 325.6 671.9 325.8 672.4 325.9 673.0 325.9 673.6 325.8 674.2 325.6 674.7 325.3 675.1 325.0 675.3 324.7 675.4 322.0 675.4M324.1 675.4 325.9 679.6M330.9 673.7 330.9 674.4 330.7 675.0 330.4 675.5 329.9 675.9 329.5 676.2 329.0 676.2 328.5 676.2 328.0 675.9 327.6 675.5 327.3 675.0 327.1 674.4 327.0 673.7 327.1 673.1 327.3 672.5 327.6 671.9 328.0 671.5 328.5 671.3 329.0 671.2 329.5 671.3 329.9 671.5 330.4 671.9 330.7 672.5 330.9 673.1 330.9 673.7 330.9 674.4 330.8 676.7 330.3 678.8 329.4 679.6 328.6 679.6 327.6 678.9 327.4 678.3M332.1 671.2 336.0 671.2 333.2 679.6M339.3 671.2 339.8 671.3 340.3 671.6 340.7 672.1 340.9 672.7 341.0 673.4 341.0 677.4 340.9 678.1 340.7 678.7 340.3 679.2 339.8 679.5 339.3 679.6 338.9 679.6 338.3 679.5 337.8 679.2 337.5 678.7 337.2 678.1 337.1 677.4 337.1 673.4 337.2 672.7 337.5 672.1 337.8 671.6 338.3 671.3 338.9 671.2 339.3 671.2" stroke="#333" stroke-width="0.75" fill="none" stroke-linecap="round" stroke-linejoin="round"/><rect x="320.50" y="683.50" width="22.00" height="10.00" stroke="#6a6a6a" stroke-width="1.0" fill="none"/><path d="M322.0 692.7 322.0 684.2 324.7 684.2 324.7 684.2 325.0 684.3 325.3 684.5 325.6 684.9 325.8 685.4 325.9 686.0 325.9 686.6 325.8 687.2 325.6 687.7 325.3 688.1 325.0 688.4 324.7 688.5 322.0 688.5M324.1 688.5 325.9 692.7M330.9 686.8 330.9 687.4 330.7 688.0 330.4 688.6 329.9 689.0 329.5 689.2 329.0 689.3 328.5 689.2 328.0 689.0 327.6 688.6 327.3 688.0 327.1 687.4 327.0 686.8 327.1 686.1 327.3 685.5 327.6 684.9 328.0 684.5 328.5 684.3 329.0 684.2 329.5 684.3 329.9 684.5 330.4 684.9 330.7 685.5 330.9 686.1 330.9 686.8 330.9 687.4 330.8 689.7 330.3 691.9 329.4 692.7 328.6 692.7 327.6 692.0 327.4 691.4M332.1 684.2 336.0 684.2 333.2 692.7M337.6 684.2 340.7 684.2 339.0 687.6 339.9 687.7 340.6 688.3 341.0 689.6 340.9 691.0 340.5 692.1 339.9 692.7 338.1 692.7 337.5 692.3 337.1 691.3" stroke="#333" stroke-width="0.75" fill="none" stroke-linecap="round" stroke-linejoin="round"/><rect x="320.50" y="697.50" width="22.00" height="10.00" stroke="#6a6a6a" stroke-width="1.0" fill="none"/><path d="M325.7 699.6 325.4 698.9 324.9 698.3 324.4 698.0 323.8 697.9 323.2 698.1 322.7 698.5 322.3 699.2 322.1 700.0 322.0 700.8 322.0 703.9 322.1 704.7 322.3 705.5 322.7 706.2 323.2 706.6 323.8 706.8 324.4 706.7 324.9 706.4 325.4 705.8 325.7 705.1M330.9 700.6 330.9 701.3 330.7 701.9 330.4 702.5 329.9 702.9 329.5 703.1 329.0 703.2 328.5 703.1 328.0 702.9 327.6 702.5 327.3 701.9 327.1 701.3 327.0 700.6 327.1 699.9 327.3 699.2 327.6 698.7 328.0 698.3 328.5 698.0 329.0 697.9 329.5 698.0 329.9 698.3 330.4 698.7 330.7 699.2 330.9 699.9 330.9 700.6 330.9 701.3 330.8 703.7 330.3 705.9 329.4 706.8 328.6 706.8 327.6 706.1 327.4 705.5M334.0 702.0 333.5 701.9 333.1 701.6 332.7 701.2 332.5 700.6 332.4 699.9 332.5 699.3 332.7 698.7 333.1 698.3 333.5 698.0 334.0 697.9 334.5 698.0 335.0 698.3 335.3 698.7 335.6 699.3 335.6 699.9 335.6 700.6 335.3 701.2 335.0 701.6 334.5 701.9 334.0 702.0M334.0 701.8 334.5 701.9 335.0 702.1 335.4 702.5 335.7 703.1 335.9 703.7 336.0 704.3 335.9 705.0 335.7 705.6 335.4 706.1 335.0 706.5 334.5 706.7 334.0 706.8 333.5 706.7 333.1 706.5 332.6 706.1 332.3 705.6 332.1 705.0 332.1 704.3 332.1 703.7 332.3 703.1 332.6 702.5 333.1 702.1 333.5 701.9 334.0 701.8M338.8 699.1 339.5 697.9 339.5 706.8" stroke="#333" stroke-width="0.75" fill="none" stroke-linecap="round" stroke-linejoin="round"/><rect x="320.50" y="711.50" width="22.00" height="11.00" stroke="#6a6a6a" stroke-width="1.0" fill="none"/><path d="M325.7 714.1 325.4 713.3 324.9 712.7 324.4 712.4 323.8 712.3 323.2 712.5 322.7 713.0 322.3 713.7 322.1 714.5 322.0 715.4 322.0 718.7 322.1 719.6 322.3 720.4 322.7 721.1 323.2 721.6 323.8 721.8 324.4 721.7 324.9 721.4 325.4 720.8 325.7 720.0M330.9 715.1 330.9 715.9 330.7 716.6 330.4 717.2 329.9 717.6 329.5 717.9 329.0 718.0 328.5 717.9 328.0 717.6 327.6 717.2 327.3 716.6 327.1 715.9 327.0 715.1 327.1 714.4 327.3 713.7 327.6 713.1 328.0 712.7 328.5 712.4 329.0 712.3 329.5 712.4 329.9 712.7 330.4 713.1 330.7 713.7 330.9 714.4 330.9 715.1 330.9 715.9 330.8 718.5 330.3 720.9 329.4 721.8 328.6 721.8 327.6 721.0 327.4 720.4M332.1 712.3 336.0 712.3 333.2 721.8M340.8 712.3 337.6 712.3 337.4 716.3 338.1 715.8 339.4 715.8 340.4 716.5 340.9 717.8 341.0 719.4 340.6 721.0 339.8 721.8 338.2 721.8 337.5 721.2 337.1 720.3" stroke="#333" stroke-width="0.75" fill="none" stroke-linecap="round" stroke-linejoin="round"/><rect x="346.50" y="641.50" width="95.00" height="95.00" stroke="#808080" stroke-width="1.0" fill="none"/><circle cx="435.30" cy="647.50" r="3.00" stroke="#555" stroke-width="1.0" fill="none"/><path d="M386.0 717.8 386.0 712.9 386.0 712.9 386.2 711.4 386.9 710.0 388.0 708.7 389.4 707.8 391.1 707.2 392.8 707.0 395.5 707.0 397.2 707.2 398.9 707.8 400.3 708.7 401.4 710.0 402.1 711.4 402.3 712.9 402.3 717.8 386.0 717.8M390.9 691.3 392.2 691.5 393.3 692.0 394.3 692.9 395.1 694.0 395.6 695.3 395.8 696.7 395.6 698.1 395.1 699.4 394.3 700.5 393.3 701.4 392.2 701.9 390.9 702.1 389.6 701.9 388.4 701.4 387.4 700.5 386.7 699.4 386.2 698.1 386.0 696.7 386.2 695.3 386.7 694.0 387.4 692.9 388.4 692.0 389.6 691.5 390.9 691.3 392.2 691.3 396.6 691.5 400.7 692.9 402.3 695.6 402.3 697.8 401.0 700.5 399.9 701.2M386.0 686.4 386.0 675.6 402.3 683.2M386.0 664.8 386.2 663.3 386.8 661.9 387.7 660.8 388.9 660.1 390.2 659.9 398.1 659.9 399.4 660.1 400.6 660.8 401.5 661.9 402.1 663.3 402.3 664.8 402.3 665.9 402.1 667.4 401.5 668.7 400.6 669.8 399.4 670.5 398.1 670.7 390.2 670.7 388.9 670.5 387.7 669.8 386.8 668.7 386.2 667.4 386.0 665.9 386.0 664.8" stroke="#444" stroke-width="0.9" fill="none" stroke-linecap="round" stroke-linejoin="round"/><rect x="446.50" y="626.50" width="16.00" height="32.00" stroke="#6a6a6a" stroke-width="1.0" fill="none"/><path d="M450.5 651.0 449.4 651.4 448.5 652.0 448.0 652.7 447.9 653.5 448.2 654.3 448.9 655.0 449.8 655.5 451.0 655.9 452.3 656.0 456.9 656.0 458.2 655.9 459.4 655.5 460.3 655.0 461.0 654.3 461.3 653.5 461.2 652.7 460.7 652.0 459.8 651.4 458.7 651.0M451.9 643.3 453.0 643.4 453.9 643.7 454.8 644.1 455.4 644.6 455.8 645.3 455.9 646.0 455.8 646.6 455.4 647.3 454.8 647.8 453.9 648.2 453.0 648.5 451.9 648.6 450.9 648.5 449.9 648.2 449.1 647.8 448.4 647.3 448.0 646.6 447.9 646.0 448.0 645.3 448.4 644.6 449.1 644.1 449.9 643.7 450.9 643.4 451.9 643.3 453.0 643.3 456.6 643.4 460.0 644.1 461.3 645.4 461.3 646.5 460.2 647.8 459.3 648.2M447.9 641.2 447.9 635.9 461.3 639.6M447.9 633.2 447.9 628.9 453.3 631.2 453.4 630.0 454.3 629.0 456.3 628.6 458.6 628.6 460.4 629.2 461.3 630.0 461.3 632.5 460.6 633.3 459.2 633.8" stroke="#222" stroke-width="0.9" fill="none" stroke-linecap="round" stroke-linejoin="round"/><rect x="445.50" y="661.50" width="23.00" height="11.00" stroke="#6a6a6a" stroke-width="1.0" fill="none"/><path d="M450.9 664.4 450.6 663.7 450.1 663.1 449.6 662.8 449.0 662.7 448.4 662.9 447.9 663.3 447.5 664.0 447.2 664.8 447.1 665.7 447.1 668.8 447.2 669.7 447.5 670.5 447.9 671.2 448.4 671.6 449.0 671.8 449.6 671.7 450.1 671.4 450.6 670.8 450.9 670.1M456.3 665.4 456.2 666.1 456.0 666.8 455.7 667.4 455.3 667.8 454.8 668.1 454.3 668.2 453.8 668.1 453.3 667.8 452.9 667.4 452.6 666.8 452.4 666.1 452.3 665.4 452.4 664.7 452.6 664.1 452.9 663.5 453.3 663.1 453.8 662.8 454.3 662.7 454.8 662.8 455.3 663.1 455.7 663.5 456.0 664.1 456.2 664.7 456.3 665.4 456.3 666.2 456.2 668.6 455.7 670.9 454.7 671.8 453.9 671.8 452.9 671.1 452.6 670.4M457.5 662.7 461.5 662.7 458.7 671.8M465.6 671.8 465.6 662.7 462.7 668.7 466.7 668.7" stroke="#333" stroke-width="0.75" fill="none" stroke-linecap="round" stroke-linejoin="round"/><rect x="446.50" y="679.50" width="10.00" height="22.00" stroke="#6a6a6a" stroke-width="1.0" fill="none"/><path d="M448.4 696.9 447.6 697.3 447.0 697.8 446.7 698.3 446.6 699.0 446.8 699.6 447.3 700.1 448.0 700.5 448.8 700.8 449.7 700.9 453.0 700.9 453.9 700.8 454.7 700.5 455.4 700.1 455.9 699.6 456.1 699.0 456.0 698.3 455.7 697.8 455.1 697.3 454.3 696.9M449.5 691.3 450.2 691.4 450.9 691.6 451.5 691.9 451.9 692.4 452.2 692.9 452.3 693.4 452.2 693.9 451.9 694.4 451.5 694.9 450.9 695.2 450.2 695.4 449.5 695.5 448.7 695.4 448.0 695.2 447.4 694.9 447.0 694.4 446.7 693.9 446.6 693.4 446.7 692.9 447.0 692.4 447.4 691.9 448.0 691.6 448.7 691.4 449.5 691.3 450.2 691.3 452.8 691.4 455.2 691.9 456.1 693.0 456.1 693.8 455.3 694.9 454.7 695.2M446.6 690.1 446.6 685.9 456.1 688.8M448.7 684.5 447.4 684.0 446.7 683.1 446.7 682.0 447.6 681.1 449.0 680.7 450.3 680.9 451.4 681.6 456.1 684.7 456.1 680.5" stroke="#222" stroke-width="0.85" fill="none" stroke-linecap="round" stroke-linejoin="round"/><rect x="446.50" y="701.50" width="10.00" height="23.00" stroke="#6a6a6a" stroke-width="1.0" fill="none"/><path d="M448.4 719.3 447.6 719.7 447.0 720.2 446.7 720.7 446.6 721.4 446.8 722.0 447.3 722.5 448.0 722.9 448.8 723.2 449.7 723.3 453.0 723.3 453.9 723.2 454.7 722.9 455.4 722.5 455.9 722.0 456.1 721.4 456.0 720.7 455.7 720.2 455.1 719.7 454.3 719.3M449.5 713.7 450.2 713.8 450.9 714.0 451.5 714.3 451.9 714.8 452.2 715.3 452.3 715.8 452.2 716.3 451.9 716.8 451.5 717.3 450.9 717.6 450.2 717.8 449.5 717.9 448.7 717.8 448.0 717.6 447.4 717.3 447.0 716.8 446.7 716.3 446.6 715.8 446.7 715.3 447.0 714.8 447.4 714.3 448.0 714.0 448.7 713.8 449.5 713.7 450.2 713.7 452.8 713.8 455.2 714.3 456.1 715.4 456.1 716.2 455.3 717.3 454.7 717.6M451.0 710.4 450.9 710.9 450.6 711.4 450.1 711.8 449.5 712.1 448.8 712.1 448.1 712.1 447.5 711.8 447.0 711.4 446.7 710.9 446.6 710.4 446.7 709.9 447.0 709.4 447.5 709.0 448.1 708.7 448.8 708.6 449.5 708.7 450.1 709.0 450.6 709.4 450.9 709.9 451.0 710.4M450.8 710.4 450.9 709.9 451.1 709.4 451.6 708.9 452.1 708.6 452.8 708.4 453.4 708.3 454.1 708.4 454.8 708.6 455.3 708.9 455.7 709.4 456.0 709.9 456.1 710.4 456.0 710.9 455.7 711.4 455.3 711.9 454.8 712.2 454.1 712.4 453.4 712.5 452.8 712.4 452.1 712.2 451.6 711.9 451.1 711.4 450.9 710.9 450.8 710.4M446.6 704.8 446.7 704.2 447.1 703.7 447.6 703.3 448.3 703.0 449.1 702.9 453.6 702.9 454.4 703.0 455.1 703.3 455.6 703.7 456.0 704.2 456.1 704.8 456.1 705.2 456.0 705.8 455.6 706.3 455.1 706.7 454.4 707.0 453.6 707.1 449.1 707.1 448.3 707.0 447.6 706.7 447.1 706.3 446.7 705.8 446.6 705.2 446.6 704.8" stroke="#222" stroke-width="0.85" fill="none" stroke-linecap="round" stroke-linejoin="round"/><rect x="460.50" y="702.50" width="10.00" height="22.00" stroke="#6a6a6a" stroke-width="1.0" fill="none"/><path d="M469.8 723.3 461.0 723.3 461.0 720.4 461.0 720.4 461.1 720.1 461.3 719.7 461.8 719.5 462.3 719.3 462.9 719.2 463.5 719.2 464.1 719.3 464.6 719.5 465.1 719.7 465.3 720.1 465.4 720.4 465.4 723.3M465.4 721.0 469.8 719.2M463.6 713.8 464.3 713.9 465.0 714.1 465.5 714.4 465.9 714.8 466.2 715.3 466.3 715.9 466.2 716.4 465.9 716.9 465.5 717.3 465.0 717.7 464.3 717.9 463.6 717.9 463.0 717.9 462.3 717.7 461.8 717.3 461.4 716.9 461.1 716.4 461.0 715.9 461.1 715.3 461.4 714.8 461.8 714.4 462.3 714.1 463.0 713.9 463.6 713.8 464.3 713.8 466.7 713.9 468.9 714.4 469.8 715.5 469.8 716.3 469.1 717.3 468.5 717.6M461.0 712.6 461.0 708.5 469.8 711.3M462.9 707.1 461.7 706.6 461.1 705.7 461.1 704.6 462.0 703.7 463.2 703.3 464.4 703.5 465.4 704.2 469.8 707.2 469.8 703.1" stroke="#222" stroke-width="0.85" fill="none" stroke-linecap="round" stroke-linejoin="round"/><rect x="447.50" y="726.50" width="22.00" height="11.00" stroke="#6a6a6a" stroke-width="1.0" fill="none"/><path d="M452.5 729.0 452.2 728.3 451.8 727.7 451.2 727.4 450.6 727.3 450.1 727.5 449.5 727.9 449.1 728.6 448.9 729.4 448.8 730.2 448.8 733.3 448.9 734.1 449.1 734.9 449.5 735.6 450.1 736.0 450.6 736.2 451.2 736.1 451.8 735.8 452.2 735.2 452.5 734.5M457.8 730.0 457.7 730.7 457.5 731.3 457.2 731.9 456.8 732.3 456.4 732.5 455.9 732.6 455.3 732.5 454.9 732.3 454.5 731.9 454.2 731.3 454.0 730.7 453.9 730.0 454.0 729.3 454.2 728.6 454.5 728.1 454.9 727.7 455.3 727.4 455.9 727.3 456.4 727.4 456.8 727.7 457.2 728.1 457.5 728.6 457.7 729.3 457.8 730.0 457.8 730.7 457.7 733.1 457.2 735.3 456.2 736.2 455.5 736.2 454.5 735.5 454.2 734.9M459.0 727.3 462.9 727.3 460.2 736.2M467.7 728.2 467.0 727.4 465.6 727.3 464.7 728.2 464.2 730.4 464.1 732.8 464.1 733.5 464.1 732.8 464.3 732.2 464.7 731.6 465.1 731.2 465.5 731.0 466.0 730.9 466.5 731.0 467.0 731.2 467.4 731.6 467.7 732.2 467.9 732.8 468.0 733.5 467.9 734.2 467.7 734.9 467.4 735.4 467.0 735.8 466.5 736.1 466.0 736.2 465.5 736.1 465.1 735.8 464.7 735.4 464.3 734.9 464.1 734.2 464.1 733.5" stroke="#333" stroke-width="0.75" fill="none" stroke-linecap="round" stroke-linejoin="round"/><rect x="496.50" y="640.50" width="48.00" height="27.00" stroke="#808080" stroke-width="1.0" fill="none"/><path d="M502.20 640.00L502.20 629.20L508.70 629.20L508.70 640.00" stroke="#555" stroke-width="0.9" fill="none"/><path d="M516.80 640.00L516.80 629.20L523.50 629.20L523.50 640.00" stroke="#555" stroke-width="0.9" fill="none"/><path d="M531.30 640.00L531.30 629.20L538.10 629.20L538.10 640.00" stroke="#555" stroke-width="0.9" fill="none"/><path d="M502.20 667.50L502.20 678.80L508.70 678.80L508.70 667.50" stroke="#555" stroke-width="0.9" fill="none"/><path d="M531.30 667.50L531.30 678.80L538.10 678.80L538.10 667.50" stroke="#555" stroke-width="0.9" fill="none"/><path d="M499.6 661.8 499.6 645.9 507.0 661.8 507.0 645.9M513.5 648.1 515.0 645.9 515.0 661.8M522.1 645.9 528.0 645.9 524.7 652.3 526.5 652.4 527.9 653.5 528.5 655.9 528.5 658.6 527.6 660.7 526.5 661.8 523.0 661.8 521.9 661.0 521.2 659.3M535.1 648.1 536.6 645.9 536.6 661.8" stroke="#444" stroke-width="0.9" fill="none" stroke-linecap="round" stroke-linejoin="round"/><rect x="548.50" y="602.50" width="16.00" height="32.00" stroke="#6a6a6a" stroke-width="1.0" fill="none"/><path d="M552.0 627.1 550.9 627.6 550.0 628.2 549.5 628.9 549.4 629.7 549.7 630.5 550.4 631.2 551.4 631.7 552.6 632.1 553.9 632.2 558.6 632.2 559.9 632.1 561.1 631.7 562.1 631.2 562.8 630.5 563.1 629.7 563.0 628.9 562.5 628.2 561.6 627.6 560.5 627.1M551.3 622.5 549.4 621.5 563.1 621.5M563.1 613.5 549.4 613.5 558.4 617.3 558.4 612.0M552.4 609.7 550.5 609.1 549.5 607.9 549.5 606.6 550.9 605.4 552.8 604.9 554.7 605.1 556.2 606.0 563.1 609.9 563.1 604.6" stroke="#222" stroke-width="0.9" fill="none" stroke-linecap="round" stroke-linejoin="round"/><rect x="548.50" y="637.50" width="16.00" height="33.00" stroke="#6a6a6a" stroke-width="1.0" fill="none"/><path d="M552.0 662.9 550.9 663.4 550.0 664.0 549.5 664.8 549.4 665.6 549.7 666.4 550.4 667.1 551.4 667.6 552.6 668.0 553.9 668.1 558.6 668.1 559.9 668.0 561.1 667.6 562.1 667.1 562.8 666.4 563.1 665.6 563.0 664.8 562.5 664.0 561.6 663.4 560.5 662.9M551.3 658.2 549.4 657.1 563.1 657.1M549.4 652.3 549.4 647.9 554.9 650.3 555.0 649.1 556.0 648.0 558.0 647.5 560.4 647.6 562.1 648.2 563.1 649.1 563.1 651.6 562.4 652.4 560.9 652.9M550.8 640.3 549.5 641.3 549.4 643.2 550.8 644.5 554.2 645.2 557.9 645.3 559.0 645.3 557.9 645.2 556.9 645.0 556.1 644.5 555.4 644.0 555.0 643.3 554.9 642.6 555.0 641.9 555.4 641.3 556.1 640.7 556.9 640.3 557.9 640.0 559.0 639.9 560.1 640.0 561.0 640.3 561.9 640.7 562.5 641.3 563.0 641.9 563.1 642.6 563.0 643.3 562.5 644.0 561.9 644.5 561.0 645.0 560.1 645.2 559.0 645.3" stroke="#222" stroke-width="0.9" fill="none" stroke-linecap="round" stroke-linejoin="round"/><rect x="541.50" y="675.50" width="23.00" height="10.00" stroke="#6a6a6a" stroke-width="1.0" fill="none"/><path d="M546.5 677.5 546.2 676.7 545.7 676.1 545.1 675.8 544.4 675.7 543.8 675.9 543.2 676.4 542.8 677.0 542.5 677.9 542.4 678.8 542.4 682.0 542.5 682.9 542.8 683.8 543.2 684.4 543.8 684.9 544.4 685.1 545.1 685.0 545.7 684.7 546.2 684.1 546.5 683.3M549.8 677.0 550.7 675.7 550.7 685.1M554.2 675.7 557.6 675.7 555.7 679.5 556.7 679.6 557.5 680.2 557.9 681.6 557.9 683.2 557.4 684.4 556.7 685.1 554.7 685.1 554.1 684.6 553.6 683.6M559.8 675.7 563.3 675.7 561.4 679.5 562.3 679.6 563.2 680.2 563.6 681.6 563.5 683.2 563.0 684.4 562.3 685.1 560.4 685.1 559.7 684.6 559.3 683.6" stroke="#222" stroke-width="0.85" fill="none" stroke-linecap="round" stroke-linejoin="round"/><rect x="570.50" y="601.50" width="11.00" height="23.00" stroke="#6a6a6a" stroke-width="1.0" fill="none"/><path d="M572.9 619.2 572.1 619.5 571.5 620.0 571.1 620.6 571.0 621.2 571.2 621.8 571.7 622.4 572.4 622.8 573.3 623.1 574.3 623.2 577.8 623.2 578.8 623.1 579.7 622.8 580.4 622.4 580.9 621.8 581.1 621.2 581.0 620.6 580.6 620.0 580.0 619.5 579.2 619.2M572.4 615.9 571.0 615.1 581.1 615.1M571.0 611.7 571.0 608.3 575.0 610.2 575.1 609.2 575.8 608.4 577.4 608.0 579.1 608.1 580.4 608.5 581.1 609.2 581.1 611.2 580.6 611.8 579.5 612.2M571.0 602.7 571.0 606.2 575.2 606.5 574.7 605.7 574.7 604.2 575.4 603.1 576.9 602.6 578.6 602.5 580.3 602.9 581.1 603.8 581.1 605.5 580.5 606.3 579.5 606.7" stroke="#222" stroke-width="0.85" fill="none" stroke-linecap="round" stroke-linejoin="round"/><rect x="584.50" y="603.50" width="33.00" height="15.00" stroke="#6a6a6a" stroke-width="1.0" fill="none"/><path d="M592.1 607.0 591.6 605.9 591.0 605.1 590.3 604.7 589.5 604.6 588.7 604.8 588.0 605.5 587.5 606.4 587.1 607.5 587.0 608.7 587.0 613.1 587.1 614.3 587.5 615.4 588.0 616.3 588.7 617.0 589.5 617.2 590.3 617.1 591.0 616.7 591.6 615.9 592.1 614.8M596.7 606.3 597.7 604.5 597.7 617.2M605.7 617.2 605.7 604.5 601.9 612.9 607.2 612.9M609.3 604.5 614.6 604.5 610.9 617.2" stroke="#222" stroke-width="0.9" fill="none" stroke-linecap="round" stroke-linejoin="round"/><rect x="620.50" y="601.50" width="11.00" height="23.00" stroke="#6a6a6a" stroke-width="1.0" fill="none"/><path d="M622.8 619.2 622.0 619.5 621.4 620.0 621.0 620.6 620.9 621.2 621.1 621.8 621.6 622.4 622.4 622.8 623.3 623.1 624.3 623.2 627.7 623.2 628.7 623.1 629.6 622.8 630.4 622.4 630.9 621.8 631.1 621.2 631.0 620.6 630.6 620.0 630.0 619.5 629.2 619.2M622.3 615.9 620.9 615.1 631.1 615.1M631.1 609.2 620.9 609.2 627.6 612.2 627.6 608.0M620.9 606.2 620.9 602.8 625.0 604.7 625.1 603.7 625.8 602.9 627.3 602.5 629.1 602.6 630.4 603.0 631.1 603.7 631.1 605.7 630.6 606.3 629.5 606.7" stroke="#222" stroke-width="0.85" fill="none" stroke-linecap="round" stroke-linejoin="round"/><rect x="635.50" y="601.50" width="10.00" height="23.00" stroke="#6a6a6a" stroke-width="1.0" fill="none"/><path d="M645.0 623.2 635.6 623.2 635.6 620.2 635.6 620.2 635.7 619.9 636.0 619.6 636.4 619.3 637.0 619.1 637.6 619.0 638.3 619.0 638.9 619.1 639.5 619.3 639.9 619.6 640.2 619.9 640.3 620.2 640.3 623.2M640.3 620.9 645.0 619.0M636.9 615.9 635.6 615.1 645.0 615.1M635.6 611.7 635.6 608.3 639.4 610.2 639.5 609.2 640.1 608.4 641.5 608.0 643.1 608.1 644.3 608.5 645.0 609.2 645.0 611.2 644.5 611.8 643.5 612.2M645.0 603.7 635.6 603.7 641.8 606.7 641.8 602.5" stroke="#222" stroke-width="0.85" fill="none" stroke-linecap="round" stroke-linejoin="round"/><rect x="648.50" y="601.50" width="11.00" height="23.00" stroke="#6a6a6a" stroke-width="1.0" fill="none"/><path d="M650.5 619.2 649.7 619.5 649.1 620.0 648.7 620.6 648.6 621.2 648.8 621.8 649.3 622.4 650.0 622.8 650.9 623.1 651.9 623.2 655.2 623.2 656.2 623.1 657.1 622.8 657.8 622.4 658.3 621.8 658.5 621.2 658.4 620.6 658.0 620.0 657.4 619.5 656.6 619.2M650.0 615.9 648.6 615.1 658.5 615.1M648.6 611.7 648.6 608.3 652.6 610.2 652.7 609.2 653.4 608.4 654.8 608.0 656.5 608.1 657.8 608.5 658.5 609.2 658.5 611.2 658.0 611.8 656.9 612.2M648.6 606.7 648.6 602.5 658.5 605.5" stroke="#222" stroke-width="0.85" fill="none" stroke-linecap="round" stroke-linejoin="round"/><rect x="662.50" y="601.50" width="11.00" height="23.00" stroke="#6a6a6a" stroke-width="1.0" fill="none"/><path d="M664.7 619.2 663.8 619.5 663.2 620.0 662.8 620.6 662.7 621.2 662.9 621.8 663.4 622.4 664.2 622.8 665.1 623.1 666.1 623.2 669.7 623.2 670.7 623.1 671.6 622.8 672.4 622.4 672.9 621.8 673.1 621.2 673.0 620.6 672.6 620.0 672.0 619.5 671.1 619.2M664.2 615.9 662.7 615.1 673.1 615.1M662.7 611.7 662.7 608.3 666.9 610.2 667.0 609.2 667.7 608.4 669.3 608.0 671.0 608.1 672.4 608.5 673.1 609.2 673.1 611.2 672.6 611.8 671.4 612.2M665.8 602.5 666.6 602.6 667.4 602.8 668.0 603.1 668.5 603.6 668.8 604.1 668.9 604.6 668.8 605.2 668.5 605.7 668.0 606.1 667.4 606.4 666.6 606.7 665.8 606.7 665.0 606.7 664.3 606.4 663.6 606.1 663.1 605.7 662.8 605.2 662.7 604.6 662.8 604.1 663.1 603.6 663.6 603.1 664.3 602.8 665.0 602.6 665.8 602.5 666.7 602.5 669.5 602.6 672.1 603.1 673.1 604.2 673.1 605.0 672.3 606.1 671.5 606.4" stroke="#222" stroke-width="0.85" fill="none" stroke-linecap="round" stroke-linejoin="round"/><rect x="676.50" y="601.50" width="10.00" height="23.00" stroke="#6a6a6a" stroke-width="1.0" fill="none"/><path d="M678.7 619.2 677.9 619.5 677.3 620.0 677.0 620.6 676.9 621.2 677.1 621.8 677.6 622.4 678.2 622.8 679.1 623.1 680.0 623.2 683.2 623.2 684.1 623.1 685.0 622.8 685.6 622.4 686.1 621.8 686.3 621.2 686.2 620.6 685.9 620.0 685.3 619.5 684.5 619.2M678.2 615.9 676.9 615.1 686.3 615.1M686.3 609.2 676.9 609.2 683.1 612.2 683.1 608.0M678.2 605.0 676.9 604.1 686.3 604.1" stroke="#222" stroke-width="0.85" fill="none" stroke-linecap="round" stroke-linejoin="round"/><rect x="689.50" y="601.50" width="11.00" height="23.00" stroke="#6a6a6a" stroke-width="1.0" fill="none"/><path d="M699.6 623.2 689.9 623.2 689.9 620.2 689.9 620.2 690.0 619.9 690.3 619.6 690.7 619.3 691.3 619.1 692.0 619.0 692.7 619.0 693.3 619.1 693.9 619.3 694.4 619.6 694.7 619.9 694.8 620.2 694.8 623.2M694.8 620.9 699.6 619.0M691.3 615.9 689.9 615.1 699.6 615.1M699.6 609.2 689.9 609.2 696.3 612.2 696.3 608.0M692.0 606.6 690.7 606.1 690.0 605.2 690.0 604.1 691.0 603.1 692.3 602.7 693.7 602.9 694.8 603.6 699.6 606.7 699.6 602.5" stroke="#222" stroke-width="0.85" fill="none" stroke-linecap="round" stroke-linejoin="round"/><rect x="702.50" y="602.50" width="23.00" height="10.00" stroke="#6a6a6a" stroke-width="1.0" fill="none"/><path d="M703.5 612.4 703.5 602.9 706.5 602.9 706.5 602.9 706.8 603.0 707.2 603.3 707.4 603.7 707.6 604.3 707.7 604.9 707.7 605.6 707.6 606.3 707.4 606.8 707.2 607.3 706.8 607.6 706.5 607.6 703.5 607.6M705.8 607.6 707.7 612.4M710.8 604.2 711.7 602.9 711.7 612.4M717.6 612.4 717.6 602.9 714.5 609.2 718.8 609.2M722.4 602.9 723.0 603.0 723.5 603.4 723.9 603.9 724.2 604.6 724.3 605.4 724.3 609.9 724.2 610.7 723.9 611.4 723.5 611.9 723.0 612.3 722.4 612.4 722.0 612.4 721.4 612.3 720.8 611.9 720.4 611.4 720.1 610.7 720.1 609.9 720.1 605.4 720.1 604.6 720.4 603.9 720.8 603.4 721.4 603.0 722.0 602.9 722.4 602.9" stroke="#222" stroke-width="0.85" fill="none" stroke-linecap="round" stroke-linejoin="round"/><rect x="728.50" y="602.50" width="23.00" height="10.00" stroke="#6a6a6a" stroke-width="1.0" fill="none"/><path d="M733.6 604.7 733.2 603.9 732.7 603.3 732.1 603.0 731.5 602.9 730.9 603.1 730.3 603.6 729.9 604.3 729.6 605.1 729.5 606.0 729.5 609.3 729.6 610.2 729.9 611.0 730.3 611.7 730.9 612.2 731.5 612.4 732.1 612.3 732.7 612.0 733.2 611.4 733.6 610.6M736.9 604.2 737.7 602.9 737.7 612.4M741.2 602.9 744.6 602.9 742.7 606.7 743.7 606.8 744.5 607.5 744.9 608.9 744.8 610.5 744.4 611.7 743.7 612.4 741.7 612.4 741.1 611.9 740.6 610.9M748.4 607.3 747.8 607.2 747.3 606.9 746.9 606.4 746.6 605.8 746.6 605.1 746.6 604.4 746.9 603.8 747.3 603.3 747.8 603.0 748.4 602.9 748.9 603.0 749.4 603.3 749.8 603.8 750.1 604.4 750.2 605.1 750.1 605.8 749.8 606.4 749.4 606.9 748.9 607.2 748.4 607.3M748.4 607.1 748.9 607.2 749.4 607.4 749.9 607.9 750.2 608.4 750.4 609.1 750.5 609.7 750.4 610.4 750.2 611.1 749.9 611.6 749.4 612.0 748.9 612.3 748.4 612.4 747.8 612.3 747.3 612.0 746.8 611.6 746.5 611.1 746.3 610.4 746.2 609.7 746.3 609.1 746.5 608.4 746.8 607.9 747.3 607.4 747.8 607.2 748.4 607.1" stroke="#222" stroke-width="0.85" fill="none" stroke-linecap="round" stroke-linejoin="round"/><rect x="668.50" y="623.50" width="11.00" height="23.00" stroke="#6a6a6a" stroke-width="1.0" fill="none"/><path d="M670.9 641.4 670.1 641.7 669.5 642.2 669.1 642.8 669.0 643.4 669.2 644.0 669.7 644.6 670.4 645.0 671.3 645.3 672.3 645.4 675.8 645.4 676.8 645.3 677.7 645.0 678.4 644.6 678.9 644.0 679.1 643.4 679.0 642.8 678.6 642.2 678.0 641.7 677.2 641.4M670.4 638.1 669.0 637.3 679.1 637.3M679.1 631.4 669.0 631.4 675.7 634.4 675.7 630.2M673.6 626.8 673.5 627.4 673.2 627.9 672.7 628.2 672.0 628.5 671.3 628.6 670.6 628.5 670.0 628.2 669.4 627.9 669.1 627.4 669.0 626.8 669.1 626.3 669.4 625.8 670.0 625.4 670.6 625.1 671.3 625.0 672.0 625.1 672.7 625.4 673.2 625.8 673.5 626.3 673.6 626.8M673.4 626.8 673.5 626.3 673.8 625.8 674.3 625.3 674.9 625.0 675.5 624.8 676.3 624.7 677.0 624.8 677.7 625.0 678.3 625.3 678.7 625.8 679.0 626.3 679.1 626.8 679.0 627.4 678.7 627.9 678.3 628.3 677.7 628.6 677.0 628.9 676.3 628.9 675.5 628.9 674.9 628.6 674.3 628.3 673.8 627.9 673.5 627.4 673.4 626.8" stroke="#222" stroke-width="0.85" fill="none" stroke-linecap="round" stroke-linejoin="round"/><rect x="682.50" y="623.50" width="11.00" height="23.00" stroke="#6a6a6a" stroke-width="1.0" fill="none"/><path d="M684.7 641.4 683.8 641.7 683.2 642.2 682.8 642.8 682.7 643.4 682.9 644.0 683.4 644.6 684.2 645.0 685.1 645.3 686.1 645.4 689.7 645.4 690.7 645.3 691.6 645.0 692.4 644.6 692.9 644.0 693.1 643.4 693.0 642.8 692.6 642.2 692.0 641.7 691.1 641.4M684.2 638.1 682.7 637.3 693.1 637.3M682.7 633.9 682.7 630.5 686.9 632.4 687.0 631.4 687.7 630.6 689.3 630.2 691.0 630.3 692.4 630.7 693.1 631.4 693.1 633.4 692.6 634.0 691.4 634.4M682.7 624.9 682.7 628.4 687.1 628.7 686.5 627.9 686.5 626.4 687.3 625.3 688.7 624.8 690.5 624.7 692.3 625.1 693.1 626.0 693.1 627.7 692.5 628.5 691.4 628.9" stroke="#222" stroke-width="0.85" fill="none" stroke-linecap="round" stroke-linejoin="round"/><rect x="696.50" y="623.50" width="11.00" height="23.00" stroke="#6a6a6a" stroke-width="1.0" fill="none"/><path d="M698.6 641.4 697.8 641.7 697.2 642.2 696.8 642.8 696.7 643.4 696.9 644.0 697.4 644.6 698.1 645.0 699.0 645.3 700.0 645.4 703.5 645.4 704.5 645.3 705.4 645.0 706.1 644.6 706.6 644.0 706.8 643.4 706.7 642.8 706.3 642.2 705.7 641.7 704.9 641.4M698.1 638.1 696.7 637.3 706.8 637.3M696.7 633.9 696.7 630.5 700.7 632.4 700.8 631.4 701.5 630.6 703.1 630.2 704.8 630.3 706.1 630.7 706.8 631.4 706.8 633.4 706.3 634.0 705.2 634.4M706.8 625.9 696.7 625.9 703.4 628.9 703.4 624.7" stroke="#222" stroke-width="0.85" fill="none" stroke-linecap="round" stroke-linejoin="round"/><rect x="570.50" y="627.50" width="94.00" height="94.00" stroke="#808080" stroke-width="1.0" fill="none"/><circle cx="658.60" cy="715.10" r="3.00" stroke="#555" stroke-width="1.0" fill="none"/><path d="M588.4 682.5 588.4 666.6 599.3 682.5 599.3 666.6M608.7 668.8 610.9 666.6 610.9 682.5M621.3 666.6 630.0 666.6 625.2 673.0 627.7 673.1 629.7 674.2 630.7 676.6 630.6 679.3 629.4 681.4 627.7 682.5 622.7 682.5 621.0 681.7 619.9 680.0M641.7 666.6 643.2 666.8 644.6 667.4 645.7 668.3 646.4 669.5 646.6 670.7 646.6 678.4 646.4 679.6 645.7 680.8 644.6 681.7 643.2 682.3 641.7 682.5 640.6 682.5 639.1 682.3 637.7 681.7 636.7 680.8 636.0 679.6 635.7 678.4 635.7 670.7 636.0 669.5 636.7 668.3 637.7 667.4 639.1 666.8 640.6 666.6 641.7 666.6" stroke="#444" stroke-width="0.9" fill="none" stroke-linecap="round" stroke-linejoin="round"/><rect x="720.50" y="617.50" width="20.00" height="34.00" stroke="#999" stroke-width="1.0" fill="none"/><path d="M721.6 648.9 721.6 646.4 721.6 646.4 721.9 645.6 722.6 644.8 723.8 644.2 725.4 643.7 727.2 643.4 729.1 643.3 731.9 643.3 733.8 643.4 735.6 643.7 737.2 644.2 738.4 644.8 739.1 645.6 739.4 646.4 739.4 648.9 721.6 648.9M724.1 638.7 721.6 637.6 739.4 637.6M721.6 632.5 721.6 628.0 728.7 630.5 728.9 629.2 730.1 628.1 732.8 627.6 735.8 627.7 738.1 628.3 739.4 629.2 739.4 631.8 738.5 632.6 736.5 633.2M721.6 622.2 721.9 621.4 722.5 620.7 723.5 620.2 724.8 619.8 726.3 619.7 734.7 619.7 736.2 619.8 737.5 620.2 738.5 620.7 739.1 621.4 739.4 622.2 739.4 622.8 739.1 623.6 738.5 624.3 737.5 624.8 736.2 625.2 734.7 625.3 726.3 625.3 724.8 625.2 723.5 624.8 722.5 624.3 721.9 623.6 721.6 622.8 721.6 622.2" stroke="#555" stroke-width="0.8" fill="none" stroke-linecap="round" stroke-linejoin="round"/><path d="M740.6 651.4L734.0 651.4L740.6 644.8Z" stroke="#444" stroke-width="0.5" fill="#777"/><rect x="753.50" y="627.50" width="11.00" height="22.00" stroke="#6a6a6a" stroke-width="1.0" fill="none"/><path d="M755.9 644.4 755.0 644.8 754.4 645.3 754.0 645.8 753.9 646.5 754.1 647.1 754.6 647.6 755.4 648.0 756.3 648.3 757.3 648.4 760.9 648.4 761.9 648.3 762.8 648.0 763.6 647.6 764.1 647.1 764.3 646.5 764.2 645.8 763.8 645.3 763.2 644.8 762.3 644.4M755.4 641.2 753.9 640.4 764.3 640.4M764.3 634.6 753.9 634.6 760.8 637.6 760.8 633.4M753.9 629.9 754.0 629.3 754.4 628.8 755.0 628.4 755.8 628.1 756.6 628.0 761.6 628.0 762.4 628.1 763.2 628.4 763.8 628.8 764.2 629.3 764.3 629.9 764.3 630.3 764.2 630.9 763.8 631.4 763.2 631.8 762.4 632.1 761.6 632.2 756.6 632.2 755.8 632.1 755.0 631.8 754.4 631.4 754.0 630.9 753.9 630.3 753.9 629.9" stroke="#222" stroke-width="0.85" fill="none" stroke-linecap="round" stroke-linejoin="round"/><rect x="667.50" y="661.50" width="23.00" height="11.00" stroke="#6a6a6a" stroke-width="1.0" fill="none"/><path d="M668.5 662.1 668.5 671.8 672.8 671.8M675.9 663.5 676.8 662.1 676.8 671.8M680.2 662.1 683.7 662.1 681.8 666.0 682.8 666.1 683.6 666.8 684.0 668.2 683.9 669.9 683.4 671.1 682.8 671.8 680.8 671.8 680.1 671.3 679.7 670.2M685.5 664.2 685.9 662.9 686.9 662.2 688.0 662.2 689.0 663.2 689.4 664.5 689.2 665.9 688.5 667.0 685.3 671.8 689.6 671.8" stroke="#222" stroke-width="0.85" fill="none" stroke-linecap="round" stroke-linejoin="round"/><rect x="667.50" y="676.50" width="23.00" height="11.00" stroke="#6a6a6a" stroke-width="1.0" fill="none"/><path d="M668.5 677.0 668.5 686.8 672.8 686.8M675.9 678.4 676.8 677.0 676.8 686.8M680.2 677.0 683.7 677.0 681.8 680.9 682.8 681.0 683.6 681.7 684.0 683.2 683.9 684.8 683.4 686.1 682.8 686.8 680.8 686.8 680.1 686.3 679.7 685.2M687.1 678.4 688.0 677.0 688.0 686.8" stroke="#222" stroke-width="0.85" fill="none" stroke-linecap="round" stroke-linejoin="round"/><rect x="669.50" y="690.50" width="23.00" height="11.00" stroke="#6a6a6a" stroke-width="1.0" fill="none"/><path d="M674.4 693.0 674.1 692.2 673.6 691.6 673.0 691.2 672.4 691.1 671.7 691.3 671.2 691.8 670.8 692.5 670.5 693.4 670.4 694.4 670.4 697.9 670.5 698.9 670.8 699.8 671.2 700.5 671.7 701.0 672.4 701.2 673.0 701.1 673.6 700.7 674.1 700.1 674.4 699.3M677.6 692.5 678.5 691.1 678.5 701.2M684.4 701.2 684.4 691.1 681.3 697.8 685.5 697.8M690.8 691.1 687.3 691.1 687.0 695.3 687.8 694.8 689.3 694.8 690.4 695.5 690.9 697.0 691.0 698.7 690.6 700.4 689.7 701.2 688.0 701.2 687.2 700.6 686.8 699.6" stroke="#222" stroke-width="0.85" fill="none" stroke-linecap="round" stroke-linejoin="round"/><rect x="693.50" y="648.50" width="11.00" height="23.00" stroke="#6a6a6a" stroke-width="1.0" fill="none"/><path d="M696.0 666.0 695.2 666.3 694.6 666.8 694.2 667.4 694.1 668.0 694.3 668.7 694.8 669.2 695.5 669.6 696.4 669.9 697.4 670.0 700.9 670.0 701.9 669.9 702.8 669.6 703.5 669.2 704.0 668.7 704.2 668.0 704.1 667.4 703.7 666.8 703.1 666.3 702.3 666.0M695.5 662.8 694.1 661.9 704.2 661.9M704.2 656.0 694.1 656.0 700.8 659.1 700.8 654.9M697.1 649.4 697.9 649.5 698.6 649.7 699.3 650.0 699.8 650.5 700.1 651.0 700.2 651.5 700.1 652.0 699.8 652.6 699.3 653.0 698.6 653.3 697.9 653.5 697.1 653.6 696.3 653.5 695.6 653.3 695.0 653.0 694.5 652.6 694.2 652.0 694.1 651.5 694.2 651.0 694.5 650.5 695.0 650.0 695.6 649.7 696.3 649.5 697.1 649.4 697.9 649.4 700.7 649.5 703.2 650.0 704.2 651.1 704.2 651.9 703.4 653.0 702.7 653.3" stroke="#222" stroke-width="0.85" fill="none" stroke-linecap="round" stroke-linejoin="round"/><rect x="693.50" y="676.50" width="11.00" height="23.00" stroke="#6a6a6a" stroke-width="1.0" fill="none"/><path d="M696.0 694.1 695.2 694.4 694.6 694.9 694.2 695.5 694.1 696.1 694.3 696.8 694.8 697.3 695.5 697.7 696.4 698.0 697.4 698.1 700.9 698.1 701.9 698.0 702.8 697.7 703.5 697.3 704.0 696.8 704.2 696.1 704.1 695.5 703.7 694.9 703.1 694.4 702.3 694.1M695.5 690.9 694.1 690.0 704.2 690.0M704.2 684.1 694.1 684.1 700.8 687.2 700.8 683.0M695.1 677.8 694.2 678.6 694.1 680.0 695.1 681.1 697.6 681.6 700.4 681.7 701.2 681.7 700.4 681.6 699.7 681.4 699.0 681.1 698.5 680.7 698.2 680.1 698.1 679.6 698.2 679.1 698.5 678.6 699.0 678.1 699.7 677.8 700.4 677.6 701.2 677.5 702.0 677.6 702.7 677.8 703.3 678.1 703.8 678.6 704.1 679.1 704.2 679.6 704.1 680.1 703.8 680.7 703.3 681.1 702.7 681.4 702.0 681.6 701.2 681.7" stroke="#222" stroke-width="0.85" fill="none" stroke-linecap="round" stroke-linejoin="round"/><rect x="708.50" y="660.50" width="32.00" height="21.00" stroke="#999" stroke-width="1.0" fill="none"/><path d="M711.9 662.2 716.7 662.2M714.3 662.2 714.3 679.6M720.7 664.7 721.7 662.2 721.7 679.6M726.1 662.2 729.9 662.2 727.8 669.2 728.9 669.4 729.8 670.6 730.3 673.2 730.2 676.2 729.7 678.4 728.9 679.6 726.7 679.6 726.0 678.8 725.5 676.9M734.9 662.2 735.6 662.5 736.2 663.1 736.7 664.1 737.0 665.4 737.1 666.8 737.1 675.1 737.0 676.5 736.7 677.8 736.2 678.8 735.6 679.4 734.9 679.6 734.4 679.6 733.8 679.4 733.2 678.8 732.7 677.8 732.4 676.5 732.3 675.1 732.3 666.8 732.4 665.4 732.7 664.1 733.2 663.1 733.8 662.5 734.4 662.2 734.9 662.2" stroke="#555" stroke-width="0.8" fill="none" stroke-linecap="round" stroke-linejoin="round"/><rect x="743.50" y="659.50" width="23.00" height="11.00" stroke="#6a6a6a" stroke-width="1.0" fill="none"/><path d="M748.3 661.9 748.0 661.1 747.5 660.5 746.9 660.2 746.2 660.1 745.6 660.3 745.0 660.8 744.6 661.5 744.3 662.4 744.2 663.3 744.2 666.6 744.3 667.5 744.6 668.4 745.0 669.1 745.6 669.6 746.2 669.8 746.9 669.7 747.5 669.4 748.0 668.8 748.3 668.0M751.7 661.5 752.5 660.1 752.5 669.8M758.6 669.8 758.6 660.1 755.5 666.5 759.8 666.5M764.3 669.8 764.3 660.1 761.2 666.5 765.5 666.5" stroke="#222" stroke-width="0.85" fill="none" stroke-linecap="round" stroke-linejoin="round"/><rect x="743.50" y="673.50" width="23.00" height="11.00" stroke="#6a6a6a" stroke-width="1.0" fill="none"/><path d="M744.2 674.4 744.2 683.8 748.5 683.8M751.7 675.7 752.5 674.4 752.5 683.8M756.0 674.4 759.5 674.4 757.6 678.2 758.6 678.3 759.4 678.9 759.8 680.3 759.8 681.9 759.3 683.1 758.6 683.8 756.6 683.8 755.9 683.3 755.5 682.3M763.5 674.4 764.1 674.5 764.7 674.9 765.1 675.4 765.4 676.1 765.5 676.8 765.5 681.4 765.4 682.1 765.1 682.8 764.7 683.3 764.1 683.7 763.5 683.8 763.1 683.8 762.5 683.7 762.0 683.3 761.5 682.8 761.2 682.1 761.2 681.4 761.2 676.8 761.2 676.1 761.5 675.4 762.0 674.9 762.5 674.5 763.1 674.4 763.5 674.4" stroke="#222" stroke-width="0.85" fill="none" stroke-linecap="round" stroke-linejoin="round"/><rect x="726.50" y="692.50" width="34.00" height="41.00" stroke="#808080" stroke-width="1.0" fill="none"/><rect x="737.50" y="717.50" width="6.00" height="6.00" stroke="#808080" stroke-width="1.0" fill="none"/><path d="M745.8 727.8 745.8 722.4 758.3 727.8 758.3 722.4M747.5 718.0 745.8 716.9 758.3 716.9M745.8 712.0 745.8 707.7 750.8 710.1 750.9 708.8 751.8 707.8 753.7 707.3 755.8 707.4 757.4 708.0 758.3 708.8 758.3 711.3 757.7 712.1 756.3 712.7M745.8 702.1 746.0 701.4 746.4 700.7 747.1 700.2 748.0 699.8 749.0 699.7 755.0 699.7 756.1 699.8 757.0 700.2 757.7 700.7 758.1 701.4 758.3 702.1 758.3 702.7 758.1 703.4 757.7 704.1 757.0 704.6 756.1 705.0 755.0 705.1 749.0 705.1 748.0 705.0 747.1 704.6 746.4 704.1 746.0 703.4 745.8 702.7 745.8 702.1" stroke="#444" stroke-width="0.9" fill="none" stroke-linecap="round" stroke-linejoin="round"/><rect x="685.50" y="709.50" width="10.00" height="22.00" stroke="#6a6a6a" stroke-width="1.0" fill="none"/><path d="M695.3 730.7 685.9 730.7 685.9 727.8 685.9 727.8 686.0 727.4 686.3 727.1 686.7 726.8 687.3 726.6 687.9 726.5 688.6 726.5 689.2 726.6 689.8 726.8 690.2 727.1 690.5 727.4 690.6 727.8 690.6 730.7M690.6 728.4 695.3 726.5M687.2 723.5 685.9 722.6 695.3 722.6M685.9 719.3 685.9 715.9 689.7 717.8 689.8 716.8 690.4 716.0 691.8 715.6 693.4 715.6 694.6 716.1 695.3 716.8 695.3 718.7 694.8 719.3 693.8 719.8M688.0 714.1 686.7 713.7 686.0 712.7 686.0 711.7 686.9 710.7 688.2 710.3 689.6 710.5 690.6 711.2 695.3 714.3 695.3 710.1" stroke="#222" stroke-width="0.85" fill="none" stroke-linecap="round" stroke-linejoin="round"/><rect x="533.50" y="702.50" width="11.00" height="22.00" stroke="#6a6a6a" stroke-width="1.0" fill="none"/><path d="M536.0 719.2 535.2 719.5 534.5 719.9 534.2 720.5 534.1 721.1 534.3 721.6 534.8 722.2 535.5 722.6 536.4 722.8 537.3 722.9 540.7 722.9 541.6 722.8 542.5 722.6 543.2 722.2 543.7 721.6 543.9 721.1 543.8 720.5 543.5 719.9 542.8 719.5 542.0 719.2M537.0 713.9 537.8 714.0 538.5 714.2 539.1 714.5 539.6 714.9 539.9 715.3 540.0 715.8 539.9 716.4 539.6 716.8 539.1 717.2 538.5 717.5 537.8 717.7 537.0 717.8 536.3 717.7 535.6 717.5 535.0 717.2 534.5 716.8 534.2 716.4 534.1 715.8 534.2 715.3 534.5 714.9 535.0 714.5 535.6 714.2 536.3 714.0 537.0 713.9 537.8 713.9 540.5 714.0 542.9 714.5 543.9 715.5 543.9 716.2 543.1 717.2 542.4 717.5M534.1 712.7 534.1 708.8 543.9 711.5M535.5 706.0 534.1 705.2 543.9 705.2" stroke="#444" stroke-width="0.75" fill="none" stroke-linecap="round" stroke-linejoin="round"/><rect x="547.50" y="702.50" width="11.00" height="22.00" stroke="#6a6a6a" stroke-width="1.0" fill="none"/><path d="M549.9 719.2 549.1 719.5 548.5 719.9 548.2 720.5 548.1 721.1 548.3 721.6 548.8 722.2 549.5 722.6 550.4 722.8 551.3 722.9 554.6 722.9 555.5 722.8 556.4 722.6 557.1 722.2 557.6 721.6 557.8 721.1 557.7 720.5 557.4 719.9 556.8 719.5 556.0 719.2M551.0 713.9 551.8 714.0 552.5 714.2 553.1 714.5 553.5 714.9 553.8 715.3 553.9 715.8 553.8 716.4 553.5 716.8 553.1 717.2 552.5 717.5 551.8 717.7 551.0 717.8 550.3 717.7 549.6 717.5 549.0 717.2 548.5 716.8 548.2 716.4 548.1 715.8 548.2 715.3 548.5 714.9 549.0 714.5 549.6 714.2 550.3 714.0 551.0 713.9 551.8 713.9 554.4 714.0 556.8 714.5 557.8 715.5 557.8 716.2 557.0 717.2 556.3 717.5M548.1 712.7 548.1 708.8 557.8 711.5M548.1 705.5 548.2 704.9 548.6 704.4 549.1 704.0 549.8 703.8 550.6 703.7 555.3 703.7 556.1 703.8 556.8 704.0 557.3 704.4 557.7 704.9 557.8 705.5 557.8 705.9 557.7 706.4 557.3 706.9 556.8 707.3 556.1 707.5 555.3 707.6 550.6 707.6 549.8 707.5 549.1 707.3 548.6 706.9 548.2 706.4 548.1 705.9 548.1 705.5" stroke="#444" stroke-width="0.75" fill="none" stroke-linecap="round" stroke-linejoin="round"/><rect x="582.50" y="726.50" width="22.00" height="10.00" stroke="#6a6a6a" stroke-width="1.0" fill="none"/><path d="M583.3 735.8 583.3 726.6 586.2 726.6 586.2 726.6 586.6 726.7 586.9 727.0 587.2 727.4 587.4 727.9 587.5 728.6 587.5 729.2 587.4 729.9 587.2 730.4 586.9 730.8 586.6 731.1 586.2 731.2 583.3 731.2M585.6 731.2 587.5 735.8M590.5 727.9 591.3 726.6 591.3 735.8M594.6 726.6 598.0 726.6 596.1 730.3 597.1 730.4 597.9 731.0 598.2 732.4 598.2 734.0 597.7 735.2 597.1 735.8 595.2 735.8 594.5 735.3 594.1 734.3M603.5 726.6 600.0 726.6 599.8 730.5 600.6 730.0 602.0 730.0 603.1 730.6 603.6 731.9 603.7 733.5 603.3 735.1 602.5 735.8 600.7 735.8 600.0 735.2 599.5 734.3" stroke="#222" stroke-width="0.85" fill="none" stroke-linecap="round" stroke-linejoin="round"/><path d="M815.20 277.50L815.20 253.00L846.80 253.00L846.80 277.50" stroke="#555" stroke-width="0.9" fill="none"/><line x1="818.20" y1="258.50" x2="825.40" y2="258.50" stroke="#808080" stroke-width="1.0"/><line x1="821.50" y1="255.10" x2="821.50" y2="262.30" stroke="#808080" stroke-width="1.0"/><circle cx="831.00" cy="311.80" r="37.70" stroke="#555" stroke-width="0.8" fill="none"/><circle cx="831.00" cy="311.80" r="36.40" stroke="#555" stroke-width="0.8" fill="none"/><rect x="807.50" y="291.50" width="47.00" height="83.00" stroke="#999" stroke-width="1.0" fill="none"/><line x1="814.50" y1="355.90" x2="814.50" y2="363.50" stroke="#999" stroke-width="1.0"/><path d="M825.5 331.0 824.2 331.9 823.2 333.2 822.5 334.7 822.4 336.3 822.8 337.9 823.6 339.3 824.8 340.4 826.2 341.1 827.8 341.3 833.5 341.3 835.0 341.1 836.4 340.4 837.6 339.4 838.4 338.2 838.8 336.7 838.8 335.2 838.4 333.7 837.6 332.4 836.4 331.4 835.0 330.8 833.5 330.5 831.8 330.5 831.8 334.6M822.4 324.4 822.4 315.8 829.0 320.5 829.2 318.0 830.3 316.0 832.8 315.0 835.6 315.1 837.7 316.3 838.9 318.0 838.9 323.0 838.1 324.6 836.3 325.7M822.4 304.2 822.6 302.7 823.2 301.3 824.2 300.2 825.4 299.5 826.7 299.3 834.6 299.3 835.9 299.5 837.1 300.2 838.1 301.3 838.7 302.7 838.9 304.2 838.9 305.2 838.7 306.7 838.1 308.1 837.1 309.2 835.9 309.8 834.6 310.1 826.7 310.1 825.4 309.8 824.2 309.2 823.2 308.1 822.6 306.7 822.4 305.2 822.4 304.2M822.4 288.5 822.6 287.0 823.2 285.7 824.2 284.6 825.4 283.9 826.7 283.7 834.6 283.7 835.9 283.9 837.1 284.6 838.1 285.7 838.7 287.0 838.9 288.5 838.9 289.6 838.7 291.1 838.1 292.5 837.1 293.5 835.9 294.2 834.6 294.5 826.7 294.5 825.4 294.2 824.2 293.5 823.2 292.5 822.6 291.1 822.4 289.6 822.4 288.5" stroke="#444" stroke-width="0.9" fill="none" stroke-linecap="round" stroke-linejoin="round"/><rect x="882.50" y="283.50" width="66.00" height="67.00" stroke="#808080" stroke-width="1.0" fill="none"/><line x1="891.50" y1="289.40" x2="891.50" y2="345.10" stroke="#808080" stroke-width="1.0"/><line x1="939.50" y1="289.40" x2="939.50" y2="345.10" stroke="#808080" stroke-width="1.0"/><line x1="891.50" y1="311.50" x2="905.70" y2="311.50" stroke="#808080" stroke-width="1.0"/><line x1="924.10" y1="311.50" x2="939.60" y2="311.50" stroke="#808080" stroke-width="1.0"/><line x1="888.30" y1="282.50" x2="897.30" y2="282.50" stroke="#888" stroke-width="1.0"/><line x1="933.80" y1="282.50" x2="942.80" y2="282.50" stroke="#888" stroke-width="1.0"/><line x1="888.30" y1="284.50" x2="897.30" y2="284.50" stroke="#888" stroke-width="1.0"/><line x1="933.80" y1="284.50" x2="942.80" y2="284.50" stroke="#888" stroke-width="1.0"/><line x1="888.30" y1="349.50" x2="897.30" y2="349.50" stroke="#888" stroke-width="1.0"/><line x1="933.80" y1="349.50" x2="942.80" y2="349.50" stroke="#888" stroke-width="1.0"/><line x1="888.30" y1="351.50" x2="897.30" y2="351.50" stroke="#888" stroke-width="1.0"/><line x1="933.80" y1="351.50" x2="942.80" y2="351.50" stroke="#888" stroke-width="1.0"/><path d="M948.8 283.7L943.3 283.7L948.8 289.2Z" stroke="#333" stroke-width="0.6" fill="#555"/><path d="M909.2 336.0 907.5 337.6 906.7 339.1 906.7 342.6 907.8 344.5 909.3 345.5 911.1 345.7 912.8 345.2 913.8 343.9 914.4 341.9 915.4 338.8 916.4 337.2 917.9 335.9 919.7 335.1 921.1 335.6 922.3 336.7 923.1 338.3 923.1 343.9 922.4 345.0 921.1 345.8M906.7 328.9 906.7 320.2 913.3 325.0 913.4 322.5 914.6 320.5 917.0 319.5 919.8 319.6 922.0 320.8 923.1 322.5 923.1 327.5 922.3 329.1 920.5 330.2M910.3 314.1 908.0 312.9 906.9 310.5 906.9 307.7 908.5 305.4 910.8 304.3 913.1 304.8 914.9 306.5 923.1 314.5 923.1 303.7M906.7 288.6 906.7 297.6 913.6 298.2 912.8 296.2 912.8 292.4 913.9 289.7 916.2 288.3 919.0 288.1 921.8 289.2 923.1 291.3 923.1 295.9 922.1 297.8 920.5 298.9" stroke="#444" stroke-width="0.9" fill="none" stroke-linecap="round" stroke-linejoin="round"/><line x1="906.70" y1="312.20" x2="920.00" y2="326.10" stroke="#808080" stroke-width="0.9"/><rect x="882.50" y="651.50" width="66.00" height="67.00" stroke="#808080" stroke-width="1.0" fill="none"/><line x1="891.50" y1="657.30" x2="891.50" y2="712.90" stroke="#808080" stroke-width="1.0"/><line x1="939.50" y1="657.30" x2="939.50" y2="712.90" stroke="#808080" stroke-width="1.0"/><line x1="891.20" y1="679.50" x2="906.20" y2="679.50" stroke="#808080" stroke-width="1.0"/><line x1="924.30" y1="679.50" x2="939.30" y2="679.50" stroke="#808080" stroke-width="1.0"/><line x1="888.20" y1="650.50" x2="897.20" y2="650.50" stroke="#888" stroke-width="1.0"/><line x1="933.90" y1="650.50" x2="942.90" y2="650.50" stroke="#888" stroke-width="1.0"/><line x1="888.20" y1="652.50" x2="897.20" y2="652.50" stroke="#888" stroke-width="1.0"/><line x1="933.90" y1="652.50" x2="942.90" y2="652.50" stroke="#888" stroke-width="1.0"/><line x1="888.20" y1="717.50" x2="897.20" y2="717.50" stroke="#888" stroke-width="1.0"/><line x1="933.90" y1="717.50" x2="942.90" y2="717.50" stroke="#888" stroke-width="1.0"/><line x1="888.20" y1="719.50" x2="897.20" y2="719.50" stroke="#888" stroke-width="1.0"/><line x1="933.90" y1="719.50" x2="942.90" y2="719.50" stroke="#888" stroke-width="1.0"/><path d="M948.9 651.9L943.4 651.9L948.9 657.4Z" stroke="#333" stroke-width="0.6" fill="#555"/><path d="M909.6 704.7 908.0 706.2 907.2 707.7 907.2 710.9 908.3 712.8 909.8 713.7 911.5 713.9 913.2 713.4 914.1 712.2 914.8 710.3 915.7 707.4 916.7 705.8 918.1 704.6 919.9 703.9 921.4 704.3 922.5 705.4 923.3 706.9 923.3 712.2 922.7 713.3 921.4 714.0M907.2 698.0 907.2 689.8 913.6 694.3 913.8 692.0 914.9 690.0 917.3 689.1 920.1 689.2 922.2 690.3 923.3 692.0 923.3 696.7 922.5 698.2 920.7 699.2M907.2 683.2 907.2 675.0 913.6 679.5 913.8 677.2 914.9 675.2 917.3 674.3 920.1 674.4 922.2 675.5 923.3 677.2 923.3 681.9 922.5 683.4 920.7 684.4M909.5 665.3 907.2 663.3 923.3 663.3" stroke="#444" stroke-width="0.9" fill="none" stroke-linecap="round" stroke-linejoin="round"/><line x1="907.60" y1="673.30" x2="920.70" y2="690.60" stroke="#808080" stroke-width="0.9"/><path d="M891.8 367.9 894.3 377.4 896.8 367.9M899.0 367.9 903.0 367.9 900.8 371.7 901.9 371.8 902.9 372.5 903.3 373.9 903.3 375.5 902.7 376.7 901.9 377.4 899.6 377.4 898.9 376.9 898.4 375.9M907.0 369.2 908.0 367.9 908.0 377.4M916.1 368.8 915.2 368.0 913.5 367.9 912.2 368.8 911.6 371.2 911.5 373.8 911.5 374.5 911.5 373.8 911.8 373.1 912.2 372.5 912.7 372.1 913.3 371.8 914.0 371.7 914.6 371.8 915.2 372.1 915.8 372.5 916.2 373.1 916.4 373.8 916.5 374.5 916.4 375.3 916.2 376.0 915.8 376.6 915.2 377.0 914.6 377.3 914.0 377.4 913.3 377.3 912.7 377.0 912.2 376.6 911.8 376.0 911.5 375.3 911.5 374.5" stroke="#444" stroke-width="0.8" fill="none" stroke-linecap="round" stroke-linejoin="round"/><rect x="889.50" y="384.50" width="28.00" height="11.00" stroke="#808080" stroke-width="1.0" fill="none"/><line x1="896.50" y1="389.50" x2="910.50" y2="389.50" stroke="#808080" stroke-width="1.0"/><path d="M905.5 387.29999999999995L905.5 392.29999999999995L901.5 389.79999999999995Z" stroke="#555" stroke-width="0.7" fill="none"/><line x1="901.50" y1="387.30" x2="901.50" y2="392.30" stroke="#808080" stroke-width="1.0"/><path d="M893.40 384.40L894.20 378.60L913.50 378.60L914.30 384.40" stroke="#555" stroke-width="0.8" fill="none"/><rect x="889.50" y="607.50" width="28.00" height="11.00" stroke="#808080" stroke-width="1.0" fill="none"/><line x1="896.45" y1="612.50" x2="910.45" y2="612.50" stroke="#808080" stroke-width="1.0"/><path d="M905.45 610.1L905.45 615.1L901.45 612.6Z" stroke="#555" stroke-width="0.7" fill="none"/><line x1="901.50" y1="610.10" x2="901.50" y2="615.10" stroke="#808080" stroke-width="1.0"/><path d="M892.90 618.20L893.70 623.70L913.90 623.70L914.70 618.20" stroke="#555" stroke-width="0.8" fill="none"/><path d="M891.2 624.1 893.7 634.8 896.2 624.1M898.3 624.1 902.3 624.1 900.1 628.4 901.3 628.5 902.2 629.2 902.7 630.8 902.6 632.7 902.1 634.1 901.3 634.8 899.0 634.8 898.2 634.3 897.7 633.1M906.4 625.6 907.4 624.1 907.4 634.8M915.5 624.1 911.4 624.1 911.1 628.6 912.0 628.1 913.8 628.1 915.0 628.8 915.7 630.3 915.8 632.1 915.3 633.9 914.3 634.8 912.2 634.8 911.3 634.2 910.8 633.1" stroke="#444" stroke-width="0.8" fill="none" stroke-linecap="round" stroke-linejoin="round"/><rect x="1609.50" y="738.50" width="27.00" height="11.00" stroke="#808080" stroke-width="1.0" fill="none"/><line x1="1615.95" y1="743.50" x2="1629.95" y2="743.50" stroke="#808080" stroke-width="1.0"/><path d="M1624.95 741.35L1624.95 746.35L1620.95 743.85Z" stroke="#555" stroke-width="0.7" fill="none"/><line x1="1620.50" y1="741.35" x2="1620.50" y2="746.35" stroke="#808080" stroke-width="1.0"/><path d="M1612.30 738.60L1613.10 731.80L1633.20 731.80L1634.00 738.60" stroke="#555" stroke-width="0.8" fill="none"/><path d="M1610.7 722.2 1613.2 731.3 1615.7 722.2M1617.9 722.2 1621.9 722.2 1619.7 725.8 1620.8 725.9 1621.8 726.6 1622.2 727.9 1622.2 729.5 1621.6 730.7 1620.8 731.3 1618.5 731.3 1617.8 730.8 1617.3 729.8M1625.9 723.5 1626.9 722.2 1626.9 731.3M1630.6 724.2 1631.1 722.9 1632.2 722.3 1633.5 722.3 1634.6 723.2 1635.1 724.5 1634.9 725.7 1634.1 726.8 1630.4 731.3 1635.4 731.3" stroke="#444" stroke-width="0.7" fill="none" stroke-linecap="round" stroke-linejoin="round"/><path d="M828.30 383.70L852.50 383.70L856.50 387.70L856.50 428.30L828.30 428.30Z" stroke="#555" stroke-width="0.9" fill="none"/><path d="M837.4 420.0 848.3 414.6M837.4 414.6 848.3 420.0M837.4 411.8 837.4 407.5 841.8 409.8 841.9 408.6 842.6 407.6 844.3 407.1 846.1 407.1 847.5 407.7 848.3 408.6 848.3 411.1 847.8 411.9 846.6 412.4M840.7 399.5 841.5 399.6 842.3 399.8 843.0 400.3 843.5 400.8 843.8 401.5 843.9 402.2 843.8 402.9 843.5 403.5 843.0 404.1 842.3 404.5 841.5 404.8 840.7 404.9 839.8 404.8 839.0 404.5 838.4 404.1 837.8 403.5 837.5 402.9 837.4 402.2 837.5 401.5 837.8 400.8 838.4 400.3 839.0 399.8 839.8 399.6 840.7 399.5 841.5 399.5 844.5 399.6 847.2 400.3 848.3 401.6 848.3 402.7 847.4 404.1 846.7 404.4M840.7 391.9 841.5 392.0 842.3 392.3 843.0 392.7 843.5 393.3 843.8 393.9 843.9 394.6 843.8 395.3 843.5 396.0 843.0 396.5 842.3 396.9 841.5 397.2 840.7 397.3 839.8 397.2 839.0 396.9 838.4 396.5 837.8 396.0 837.5 395.3 837.4 394.6 837.5 393.9 837.8 393.3 838.4 392.7 839.0 392.3 839.8 392.0 840.7 391.9 841.5 391.9 844.5 392.0 847.2 392.7 848.3 394.1 848.3 395.1 847.4 396.5 846.7 396.9" stroke="#444" stroke-width="0.9" fill="none" stroke-linecap="round" stroke-linejoin="round"/><path d="M913.90 409.20L948.50 409.20L1023.70 483.80L1023.70 519.00L948.50 593.10L913.90 593.10L839.70 519.00L839.70 483.80Z" stroke="#555" stroke-width="1.0" fill="none"/><path d="M925.6 521.0 923.9 522.5 923.0 524.0 923.0 527.2 924.2 529.1 925.8 530.0 927.7 530.2 929.4 529.7 930.4 528.5 931.1 526.6 932.2 523.7 933.2 522.1 934.8 520.9 936.7 520.2 938.2 520.6 939.4 521.7 940.3 523.1 940.3 528.5 939.6 529.6 938.2 530.3M923.0 514.2 923.0 506.1 929.9 510.6 930.1 508.2 931.3 506.3 933.9 505.4 936.8 505.5 939.1 506.6 940.3 508.2 940.3 512.9 939.4 514.5 937.5 515.5M940.3 493.3 923.0 493.3 934.4 500.6 934.4 490.4M925.4 481.5 923.0 479.5 940.3 479.5" stroke="#444" stroke-width="0.9" fill="none" stroke-linecap="round" stroke-linejoin="round"/><path d="M920.3 579.5 905.7 574.0 920.3 568.5M914.8 577.3 914.8 570.7" stroke="#444" stroke-width="0.9" fill="none" stroke-linecap="round" stroke-linejoin="round"/><path d="M934.2 584.0 932.0 582.8 947.6 582.8" stroke="#444" stroke-width="0.9" fill="none" stroke-linecap="round" stroke-linejoin="round"/><rect x="972.50" y="393.50" width="18.00" height="25.00" stroke="#888" stroke-width="1.0" fill="none"/><path d="M973.8 416.6 973.8 412.5 989.6 416.6 989.6 412.5M973.8 410.4 973.8 407.2 980.1 409.0 980.3 408.0 981.4 407.3 983.8 406.9 986.4 406.9 988.5 407.4 989.6 408.0 989.6 409.9 988.8 410.5 987.1 410.9M973.8 403.0 974.0 402.4 974.6 401.9 975.5 401.5 976.6 401.3 977.9 401.2 985.5 401.2 986.8 401.3 987.9 401.5 988.8 401.9 989.4 402.4 989.6 403.0 989.6 403.4 989.4 404.0 988.8 404.5 987.9 404.9 986.8 405.1 985.5 405.2 977.9 405.2 976.6 405.1 975.5 404.9 974.6 404.5 974.0 404.0 973.8 403.4 973.8 403.0M976.0 397.9 973.8 397.0 989.6 397.0" stroke="#444" stroke-width="0.8" fill="none" stroke-linecap="round" stroke-linejoin="round"/><rect x="813.50" y="510.50" width="23.00" height="11.00" stroke="#6a6a6a" stroke-width="1.0" fill="none"/><path d="M818.7 512.9 818.4 512.1 817.9 511.5 817.3 511.2 816.7 511.1 816.1 511.3 815.5 511.8 815.1 512.5 814.8 513.3 814.7 514.3 814.7 517.5 814.8 518.5 815.1 519.3 815.5 520.0 816.1 520.5 816.7 520.7 817.3 520.6 817.9 520.3 818.4 519.7 818.7 518.9M823.3 520.7 823.3 511.1 820.2 517.4 824.5 517.4M828.1 511.1 828.7 511.2 829.2 511.6 829.6 512.1 829.9 512.8 830.0 513.6 830.0 518.2 829.9 519.0 829.6 519.7 829.2 520.2 828.7 520.6 828.1 520.7 827.6 520.7 827.1 520.6 826.5 520.2 826.1 519.7 825.8 519.0 825.7 518.2 825.7 513.6 825.8 512.8 826.1 512.1 826.5 511.6 827.1 511.2 827.6 511.1 828.1 511.1M835.3 511.1 831.8 511.1 831.5 515.1 832.3 514.7 833.8 514.7 834.9 515.3 835.4 516.7 835.5 518.3 835.1 519.9 834.2 520.7 832.4 520.7 831.7 520.1 831.3 519.2" stroke="#222" stroke-width="0.85" fill="none" stroke-linecap="round" stroke-linejoin="round"/><rect x="792.50" y="525.50" width="23.00" height="11.00" stroke="#6a6a6a" stroke-width="1.0" fill="none"/><path d="M797.4 528.0 797.1 527.2 796.6 526.6 796.0 526.3 795.4 526.2 794.7 526.4 794.2 526.9 793.8 527.5 793.5 528.4 793.4 529.3 793.4 532.5 793.5 533.4 793.8 534.3 794.2 534.9 794.7 535.4 795.4 535.6 796.0 535.5 796.6 535.2 797.1 534.6 797.4 533.8M801.9 535.6 801.9 526.2 798.9 532.4 803.1 532.4M808.3 526.2 804.8 526.2 804.6 530.1 805.4 529.7 806.9 529.7 807.9 530.3 808.5 531.7 808.5 533.2 808.1 534.8 807.3 535.6 805.5 535.6 804.8 535.0 804.3 534.1M812.1 526.2 812.7 526.3 813.2 526.7 813.6 527.2 813.9 527.9 814.0 528.6 814.0 533.2 813.9 533.9 813.6 534.6 813.2 535.1 812.7 535.5 812.1 535.6 811.7 535.6 811.1 535.5 810.6 535.1 810.2 534.6 809.9 533.9 809.8 533.2 809.8 528.6 809.9 527.9 810.2 527.2 810.6 526.7 811.1 526.3 811.7 526.2 812.1 526.2" stroke="#222" stroke-width="0.85" fill="none" stroke-linecap="round" stroke-linejoin="round"/><rect x="793.50" y="539.50" width="22.00" height="11.00" stroke="#6a6a6a" stroke-width="1.0" fill="none"/><path d="M798.1 541.8 797.7 541.0 797.2 540.4 796.7 540.0 796.0 539.9 795.4 540.1 794.9 540.6 794.5 541.3 794.2 542.2 794.1 543.2 794.1 546.5 794.2 547.5 794.5 548.4 794.9 549.1 795.4 549.6 796.0 549.8 796.7 549.7 797.2 549.3 797.7 548.7 798.1 547.9M802.5 549.8 802.5 539.9 799.5 546.4 803.7 546.4M808.9 539.9 805.4 539.9 805.2 544.1 806.0 543.6 807.4 543.6 808.5 544.3 809.0 545.6 809.1 547.3 808.7 549.0 807.8 549.8 806.1 549.8 805.3 549.2 804.9 548.2M812.1 541.3 812.9 539.9 812.9 549.8" stroke="#222" stroke-width="0.85" fill="none" stroke-linecap="round" stroke-linejoin="round"/><rect x="852.50" y="559.50" width="23.00" height="10.00" stroke="#6a6a6a" stroke-width="1.0" fill="none"/><path d="M853.9 569.0 853.9 559.9 856.9 559.9 856.9 559.9 857.2 560.0 857.5 560.3 857.8 560.7 858.0 561.2 858.1 561.9 858.1 562.5 858.0 563.1 857.8 563.7 857.5 564.1 857.2 564.4 856.9 564.5 853.9 564.5M856.2 564.5 858.1 569.0M862.4 569.0 862.4 559.9 859.4 565.9 863.6 565.9M868.9 559.9 865.4 559.9 865.1 563.7 865.9 563.3 867.4 563.3 868.5 563.9 869.0 565.2 869.1 566.7 868.7 568.3 867.8 569.0 866.1 569.0 865.3 568.5 864.9 567.5M872.7 559.9 873.3 560.0 873.8 560.4 874.2 560.9 874.5 561.5 874.6 562.3 874.6 566.6 874.5 567.4 874.2 568.0 873.8 568.5 873.3 568.9 872.7 569.0 872.3 569.0 871.7 568.9 871.2 568.5 870.7 568.0 870.5 567.4 870.4 566.6 870.4 562.3 870.5 561.5 870.7 560.9 871.2 560.4 871.7 560.0 872.3 559.9 872.7 559.9" stroke="#222" stroke-width="0.85" fill="none" stroke-linecap="round" stroke-linejoin="round"/><rect x="1047.50" y="341.50" width="11.00" height="28.00" stroke="#808080" stroke-width="1.0" fill="none"/><line x1="1052.50" y1="349.70" x2="1052.50" y2="361.70" stroke="#808080" stroke-width="1.0"/><path d="M1049.95 357.7L1055.95 357.7L1052.95 353.7Z" stroke="#555" stroke-width="0.7" fill="none"/><line x1="1049.95" y1="353.50" x2="1055.95" y2="353.50" stroke="#808080" stroke-width="1.0"/><path d="M1058.50 344.90L1064.60 345.90L1064.60 364.50L1058.50 365.50" stroke="#555" stroke-width="0.8" fill="none"/><line x1="1061.50" y1="353.20" x2="1061.50" y2="357.20" stroke="#666" stroke-width="1.0"/><path d="M1065.5 367.5 1074.5 365.0 1065.5 362.6M1065.5 360.5 1065.5 356.6 1069.1 358.7 1069.2 357.6 1069.8 356.7 1071.2 356.2 1072.7 356.3 1073.9 356.8 1074.5 357.6 1074.5 359.9 1074.0 360.6 1073.1 361.1M1066.8 352.6 1065.5 351.7 1074.5 351.7M1066.8 346.3 1065.5 345.3 1074.5 345.3" stroke="#444" stroke-width="0.8" fill="none" stroke-linecap="round" stroke-linejoin="round"/><rect x="1047.50" y="456.50" width="11.00" height="28.00" stroke="#808080" stroke-width="1.0" fill="none"/><line x1="1052.50" y1="464.45" x2="1052.50" y2="476.45" stroke="#808080" stroke-width="1.0"/><path d="M1049.95 472.45L1055.95 472.45L1052.95 468.45Z" stroke="#555" stroke-width="0.7" fill="none"/><line x1="1049.95" y1="468.50" x2="1055.95" y2="468.50" stroke="#808080" stroke-width="1.0"/><path d="M1058.50 459.50L1064.60 460.50L1064.60 479.40L1058.50 480.40" stroke="#555" stroke-width="0.8" fill="none"/><line x1="1061.50" y1="467.95" x2="1061.50" y2="471.95" stroke="#666" stroke-width="1.0"/><path d="M1065.5 482.4 1074.5 479.9 1065.5 477.4M1065.5 475.3 1065.5 471.3 1069.1 473.5 1069.2 472.4 1069.8 471.4 1071.2 471.0 1072.7 471.0 1073.9 471.6 1074.5 472.4 1074.5 474.7 1074.0 475.4 1073.1 475.9M1066.8 467.4 1065.5 466.4 1074.5 466.4M1065.5 462.4 1065.5 458.4 1069.1 460.6 1069.2 459.4 1069.8 458.5 1071.2 458.0 1072.7 458.1 1073.9 458.6 1074.5 459.4 1074.5 461.7 1074.0 462.5 1073.1 463.0" stroke="#444" stroke-width="0.8" fill="none" stroke-linecap="round" stroke-linejoin="round"/><rect x="1047.50" y="574.50" width="11.00" height="28.00" stroke="#808080" stroke-width="1.0" fill="none"/><line x1="1052.50" y1="582.65" x2="1052.50" y2="594.65" stroke="#808080" stroke-width="1.0"/><path d="M1049.95 590.65L1055.95 590.65L1052.95 586.65Z" stroke="#555" stroke-width="0.7" fill="none"/><line x1="1049.95" y1="586.50" x2="1055.95" y2="586.50" stroke="#808080" stroke-width="1.0"/><path d="M1058.50 577.50L1064.60 578.50L1064.60 597.80L1058.50 598.80" stroke="#555" stroke-width="0.8" fill="none"/><line x1="1061.50" y1="586.15" x2="1061.50" y2="590.15" stroke="#666" stroke-width="1.0"/><path d="M1065.5 600.8 1074.5 598.3 1065.5 595.7M1065.5 593.6 1065.5 589.6 1069.1 591.8 1069.2 590.6 1069.8 589.7 1071.2 589.2 1072.7 589.3 1073.9 589.8 1074.5 590.6 1074.5 593.0 1074.0 593.7 1073.1 594.2M1066.8 585.5 1065.5 584.5 1074.5 584.5M1074.5 577.4 1065.5 577.4 1071.4 581.1 1071.4 576.0" stroke="#444" stroke-width="0.8" fill="none" stroke-linecap="round" stroke-linejoin="round"/><rect x="1018.50" y="365.50" width="22.00" height="10.00" stroke="#888" stroke-width="1.0" fill="none"/><path d="M1019.3 375.2 1019.3 365.7 1022.2 365.7 1022.2 365.7 1022.6 365.8 1022.9 366.1 1023.2 366.5 1023.4 367.1 1023.5 367.7 1023.5 368.4 1023.4 369.1 1023.2 369.6 1022.9 370.1 1022.6 370.4 1022.2 370.4 1019.3 370.4M1021.6 370.4 1023.5 375.2M1025.2 365.7 1028.5 365.7 1026.7 369.5 1027.7 369.6 1028.5 370.3 1028.8 371.7 1028.8 373.3 1028.3 374.5 1027.7 375.2 1025.8 375.2 1025.1 374.7 1024.7 373.7M1030.3 367.8 1030.7 366.5 1031.7 365.8 1032.7 365.8 1033.7 366.7 1034.1 368.1 1033.9 369.4 1033.2 370.4 1030.1 375.2 1034.3 375.2M1038.5 375.2 1038.5 365.7 1035.5 372.0 1039.7 372.0" stroke="#444" stroke-width="0.75" fill="none" stroke-linecap="round" stroke-linejoin="round"/><rect x="1018.50" y="568.50" width="23.00" height="11.00" stroke="#6a6a6a" stroke-width="1.0" fill="none"/><path d="M1019.4 579.1 1019.4 569.1 1022.4 569.1 1022.4 569.1 1022.7 569.2 1023.1 569.5 1023.4 570.0 1023.5 570.6 1023.7 571.2 1023.7 572.0 1023.5 572.6 1023.4 573.2 1023.1 573.7 1022.7 574.0 1022.4 574.1 1019.4 574.1M1021.7 574.1 1023.7 579.1M1025.5 569.1 1028.9 569.1 1027.0 573.1 1028.0 573.2 1028.8 573.9 1029.2 575.4 1029.1 577.1 1028.7 578.4 1028.0 579.1 1026.0 579.1 1025.4 578.6 1024.9 577.5M1030.7 571.3 1031.1 569.9 1032.1 569.2 1033.2 569.2 1034.1 570.2 1034.5 571.6 1034.3 573.0 1033.6 574.1 1030.5 579.1 1034.8 579.1M1036.5 569.1 1040.0 569.1 1038.1 573.1 1039.1 573.2 1039.9 573.9 1040.3 575.4 1040.2 577.1 1039.7 578.4 1039.1 579.1 1037.1 579.1 1036.5 578.6 1036.0 577.5" stroke="#333" stroke-width="0.8" fill="none" stroke-linecap="round" stroke-linejoin="round"/><rect x="983.50" y="576.50" width="11.00" height="23.00" stroke="#6a6a6a" stroke-width="1.0" fill="none"/><path d="M993.7 598.1 984.0 598.1 984.0 595.1 984.0 595.1 984.1 594.7 984.4 594.4 984.8 594.1 985.4 593.9 986.1 593.8 986.8 593.8 987.4 593.9 988.0 594.1 988.5 594.4 988.8 594.7 988.9 595.1 988.9 598.1M988.9 595.7 993.7 593.8M984.0 592.0 984.0 588.5 987.9 590.4 988.0 589.4 988.7 588.6 990.1 588.2 991.8 588.3 993.0 588.8 993.7 589.4 993.7 591.4 993.2 592.1 992.1 592.5M985.4 585.1 984.0 584.2 993.7 584.2M984.0 581.3 984.0 577.0 993.7 580.0" stroke="#222" stroke-width="0.85" fill="none" stroke-linecap="round" stroke-linejoin="round"/><rect x="983.50" y="599.50" width="11.00" height="23.00" stroke="#6a6a6a" stroke-width="1.0" fill="none"/><path d="M993.7 621.0 984.0 621.0 984.0 618.0 984.0 618.0 984.1 617.7 984.4 617.3 984.8 617.0 985.4 616.9 986.1 616.7 986.8 616.7 987.4 616.9 988.0 617.0 988.5 617.3 988.8 617.7 988.9 618.0 988.9 621.0M988.9 618.7 993.7 616.7M984.0 614.9 984.0 611.5 987.9 613.4 988.0 612.4 988.7 611.6 990.1 611.2 991.8 611.3 993.0 611.7 993.7 612.4 993.7 614.4 993.2 615.0 992.1 615.5M985.4 608.1 984.0 607.3 993.7 607.3M985.4 602.6 984.0 601.7 993.7 601.7" stroke="#222" stroke-width="0.85" fill="none" stroke-linecap="round" stroke-linejoin="round"/><rect x="998.50" y="576.50" width="10.00" height="23.00" stroke="#6a6a6a" stroke-width="1.0" fill="none"/><path d="M1008.3 598.1 998.6 598.1 998.6 595.1 998.6 595.1 998.7 594.7 999.0 594.4 999.4 594.1 1000.0 593.9 1000.7 593.8 1001.4 593.8 1002.0 593.9 1002.6 594.1 1003.1 594.4 1003.4 594.7 1003.5 595.1 1003.5 598.1M1003.5 595.7 1008.3 593.8M998.6 592.0 998.6 588.5 1002.5 590.4 1002.6 589.4 1003.3 588.6 1004.7 588.2 1006.4 588.3 1007.6 588.8 1008.3 589.4 1008.3 591.4 1007.8 592.1 1006.7 592.5M1000.0 585.1 998.6 584.2 1008.3 584.2M1003.1 579.2 1003.0 579.7 1002.6 580.2 1002.1 580.6 1001.5 580.9 1000.8 581.0 1000.1 580.9 999.5 580.6 999.0 580.2 998.7 579.7 998.6 579.2 998.7 578.6 999.0 578.1 999.5 577.7 1000.1 577.4 1000.8 577.3 1001.5 577.4 1002.1 577.7 1002.6 578.1 1003.0 578.6 1003.1 579.2M1002.9 579.2 1003.0 578.6 1003.2 578.1 1003.7 577.6 1004.2 577.3 1004.9 577.1 1005.6 577.0 1006.3 577.1 1006.9 577.3 1007.5 577.6 1007.9 578.1 1008.2 578.6 1008.3 579.2 1008.2 579.7 1007.9 580.2 1007.5 580.7 1006.9 581.0 1006.3 581.2 1005.6 581.3 1004.9 581.2 1004.2 581.0 1003.7 580.7 1003.2 580.2 1003.0 579.7 1002.9 579.2" stroke="#222" stroke-width="0.85" fill="none" stroke-linecap="round" stroke-linejoin="round"/><rect x="998.50" y="599.50" width="10.00" height="23.00" stroke="#6a6a6a" stroke-width="1.0" fill="none"/><path d="M1008.3 621.0 998.6 621.0 998.6 618.0 998.6 618.0 998.7 617.7 999.0 617.3 999.4 617.0 1000.0 616.9 1000.7 616.7 1001.4 616.7 1002.0 616.9 1002.6 617.0 1003.1 617.3 1003.4 617.7 1003.5 618.0 1003.5 621.0M1003.5 618.7 1008.3 616.7M998.6 614.9 998.6 611.5 1002.5 613.4 1002.6 612.4 1003.3 611.6 1004.7 611.2 1006.4 611.3 1007.6 611.7 1008.3 612.4 1008.3 614.4 1007.8 615.0 1006.7 615.5M1000.0 608.1 998.6 607.3 1008.3 607.3M1008.3 601.3 998.6 601.3 1005.0 604.4 1005.0 600.1" stroke="#222" stroke-width="0.85" fill="none" stroke-linecap="round" stroke-linejoin="round"/><rect x="979.50" y="633.50" width="11.00" height="23.00" stroke="#888" stroke-width="1.0" fill="none"/><path d="M990.1 655.6 980.4 655.6 980.4 652.6 980.4 652.6 980.5 652.3 980.8 651.9 981.2 651.7 981.8 651.5 982.5 651.4 983.2 651.4 983.8 651.5 984.4 651.7 984.9 651.9 985.2 652.3 985.2 652.6 985.2 655.6M985.2 653.3 990.1 651.4M980.4 649.6 980.4 646.2 984.3 648.0 984.4 647.1 985.1 646.3 986.5 645.9 988.2 645.9 989.4 646.4 990.1 647.1 990.1 649.0 989.6 649.7 988.5 650.1M980.4 642.2 980.5 641.6 980.9 641.1 981.4 640.7 982.1 640.4 982.9 640.3 987.6 640.3 988.4 640.4 989.1 640.7 989.6 641.1 990.0 641.6 990.1 642.2 990.1 642.7 990.0 643.2 989.6 643.8 989.1 644.2 988.4 644.5 987.6 644.6 982.9 644.6 982.1 644.5 981.4 644.2 980.9 643.8 980.5 643.2 980.4 642.7 980.4 642.2M983.3 634.8 984.1 634.9 984.8 635.1 985.4 635.4 985.8 635.9 986.1 636.4 986.2 636.9 986.1 637.5 985.8 638.0 985.4 638.4 984.8 638.8 984.1 639.0 983.3 639.0 982.6 639.0 981.9 638.8 981.3 638.4 980.8 638.0 980.5 637.5 980.4 636.9 980.5 636.4 980.8 635.9 981.3 635.4 981.9 635.1 982.6 634.9 983.3 634.8 984.1 634.8 986.7 634.9 989.1 635.4 990.1 636.5 990.1 637.3 989.3 638.4 988.6 638.7" stroke="#444" stroke-width="0.75" fill="none" stroke-linecap="round" stroke-linejoin="round"/><rect x="993.50" y="640.50" width="32.00" height="15.00" stroke="#6a6a6a" stroke-width="1.0" fill="none"/><path d="M1000.9 643.9 1000.5 642.8 999.9 642.0 999.2 641.6 998.4 641.5 997.6 641.7 996.9 642.4 996.4 643.3 996.0 644.4 995.9 645.7 995.9 650.1 996.0 651.4 996.4 652.5 996.9 653.4 997.6 654.1 998.4 654.3 999.2 654.2 999.9 653.8 1000.5 653.0 1000.9 651.9M1003.9 641.5 1008.2 641.5 1005.8 646.6 1007.1 646.7 1008.1 647.6 1008.5 649.6 1008.5 651.8 1007.9 653.4 1007.1 654.4 1004.6 654.4 1003.8 653.7 1003.3 652.3M1013.6 641.5 1014.4 641.6 1015.0 642.1 1015.5 642.8 1015.9 643.8 1016.0 644.8 1016.0 651.0 1015.9 652.0 1015.5 653.0 1015.0 653.7 1014.4 654.2 1013.6 654.4 1013.1 654.4 1012.4 654.2 1011.7 653.7 1011.2 653.0 1010.8 652.0 1010.7 651.0 1010.7 644.8 1010.8 643.8 1011.2 642.8 1011.7 642.1 1012.4 641.6 1013.1 641.5 1013.6 641.5M1023.4 645.3 1023.3 646.3 1023.0 647.3 1022.6 648.1 1022.1 648.7 1021.4 649.1 1020.8 649.2 1020.1 649.1 1019.4 648.7 1018.9 648.1 1018.5 647.3 1018.2 646.3 1018.1 645.3 1018.2 644.3 1018.5 643.4 1018.9 642.6 1019.4 642.0 1020.1 641.6 1020.8 641.5 1021.4 641.6 1022.1 642.0 1022.6 642.6 1023.0 643.4 1023.3 644.3 1023.4 645.3 1023.4 646.4 1023.3 649.8 1022.6 653.1 1021.3 654.4 1020.2 654.4 1018.9 653.3 1018.5 652.4" stroke="#222" stroke-width="0.9" fill="none" stroke-linecap="round" stroke-linejoin="round"/><rect x="1011.50" y="660.50" width="27.00" height="48.00" stroke="#808080" stroke-width="1.0" fill="none"/><path d="M1011.3 660.1L1018.5 660.1L1011.3 667.3Z" stroke="#444" stroke-width="0.5" fill="#555"/><path d="M1030.5 703.0 1018.5 703.0 1030.5 696.1 1018.5 696.1M1018.5 692.5 1018.5 686.9 1023.3 690.0 1023.4 688.4 1024.3 687.1 1026.1 686.5 1028.1 686.5 1029.7 687.3 1030.5 688.4 1030.5 691.6 1029.9 692.6 1028.6 693.3M1018.5 679.8 1018.7 678.8 1019.1 678.0 1019.8 677.3 1020.7 676.8 1021.6 676.7 1027.4 676.7 1028.3 676.8 1029.2 677.3 1029.9 678.0 1030.3 678.8 1030.5 679.8 1030.5 680.5 1030.3 681.5 1029.9 682.3 1029.2 683.0 1028.3 683.5 1027.4 683.6 1021.6 683.6 1020.7 683.5 1019.8 683.0 1019.1 682.3 1018.7 681.5 1018.5 680.5 1018.5 679.8M1020.2 671.0 1018.5 669.6 1030.5 669.6" stroke="#444" stroke-width="0.9" fill="none" stroke-linecap="round" stroke-linejoin="round"/><rect x="864.50" y="599.50" width="10.00" height="23.00" stroke="#6a6a6a" stroke-width="1.0" fill="none"/><path d="M874.0 621.6 864.5 621.6 864.5 618.5 864.5 618.5 864.6 618.2 864.9 617.8 865.3 617.5 865.9 617.3 866.5 617.2 867.2 617.2 867.9 617.3 868.4 617.5 868.9 617.8 869.2 618.2 869.2 618.5 869.2 621.6M869.2 619.2 874.0 617.2M864.5 615.4 864.5 611.9 868.3 613.8 868.4 612.8 869.1 611.9 870.5 611.6 872.1 611.6 873.3 612.1 874.0 612.8 874.0 614.8 873.5 615.5 872.5 615.9M865.8 608.3 864.5 607.5 874.0 607.5M866.6 604.3 865.3 603.8 864.6 602.9 864.6 601.7 865.5 600.8 866.9 600.3 868.2 600.5 869.2 601.2 874.0 604.5 874.0 600.1" stroke="#222" stroke-width="0.85" fill="none" stroke-linecap="round" stroke-linejoin="round"/><rect x="867.50" y="673.50" width="10.00" height="23.00" stroke="#6a6a6a" stroke-width="1.0" fill="none"/><path d="M877.2 695.8 868.2 695.8 868.2 692.7 868.2 692.7 868.3 692.4 868.6 692.0 869.0 691.7 869.5 691.5 870.1 691.4 870.8 691.4 871.4 691.5 871.9 691.7 872.3 692.0 872.6 692.4 872.7 692.7 872.7 695.8M872.7 693.4 877.2 691.4M869.5 688.3 868.2 687.4 877.2 687.4M868.2 683.9 868.2 680.4 871.8 682.3 871.9 681.3 872.5 680.4 873.9 680.0 875.4 680.1 876.6 680.6 877.2 681.3 877.2 683.3 876.8 684.0 875.8 684.4M869.5 676.8 868.2 676.0 877.2 676.0" stroke="#222" stroke-width="0.85" fill="none" stroke-linecap="round" stroke-linejoin="round"/><rect x="803.50" y="676.50" width="10.00" height="24.00" stroke="#6a6a6a" stroke-width="1.0" fill="none"/><path d="M813.3 699.0 803.6 699.0 803.6 695.9 803.6 695.9 803.7 695.6 804.0 695.2 804.4 694.9 805.0 694.7 805.7 694.6 806.4 694.6 807.0 694.7 807.6 694.9 808.1 695.2 808.4 695.6 808.5 695.9 808.5 699.0M808.5 696.6 813.3 694.6M805.0 691.5 803.6 690.6 813.3 690.6M803.6 687.1 803.6 683.6 807.5 685.5 807.6 684.5 808.3 683.6 809.7 683.2 811.4 683.3 812.6 683.8 813.3 684.5 813.3 686.5 812.8 687.2 811.7 687.6M803.6 679.5 803.7 678.9 804.1 678.3 804.6 677.9 805.3 677.6 806.1 677.5 810.8 677.5 811.6 677.6 812.3 677.9 812.8 678.3 813.2 678.9 813.3 679.5 813.3 679.9 813.2 680.5 812.8 681.1 812.3 681.5 811.6 681.8 810.8 681.9 806.1 681.9 805.3 681.8 804.6 681.5 804.1 681.1 803.7 680.5 803.6 679.9 803.6 679.5" stroke="#222" stroke-width="0.85" fill="none" stroke-linecap="round" stroke-linejoin="round"/><rect x="824.50" y="665.50" width="11.00" height="23.00" stroke="#6a6a6a" stroke-width="1.0" fill="none"/><path d="M826.9 683.7 826.1 684.1 825.5 684.6 825.1 685.2 825.0 685.9 825.2 686.5 825.7 687.1 826.4 687.5 827.3 687.8 828.3 687.9 831.8 687.9 832.8 687.8 833.7 687.5 834.4 687.1 834.9 686.5 835.1 685.9 835.0 685.2 834.6 684.6 834.0 684.1 833.2 683.7M835.1 679.0 825.0 679.0 831.7 682.2 831.7 677.8M825.0 672.3 825.0 676.0 829.2 676.2 828.7 675.4 828.7 673.9 829.4 672.8 830.9 672.2 832.6 672.1 834.3 672.5 835.1 673.4 835.1 675.3 834.5 676.1 833.5 676.5M835.1 667.6 825.0 667.6 831.7 670.8 831.7 666.4" stroke="#222" stroke-width="0.85" fill="none" stroke-linecap="round" stroke-linejoin="round"/><rect x="1733.60" y="826.50" width="53.40" height="76.50" stroke="none" stroke-width="0" fill="#fff"/></svg></body></html>
